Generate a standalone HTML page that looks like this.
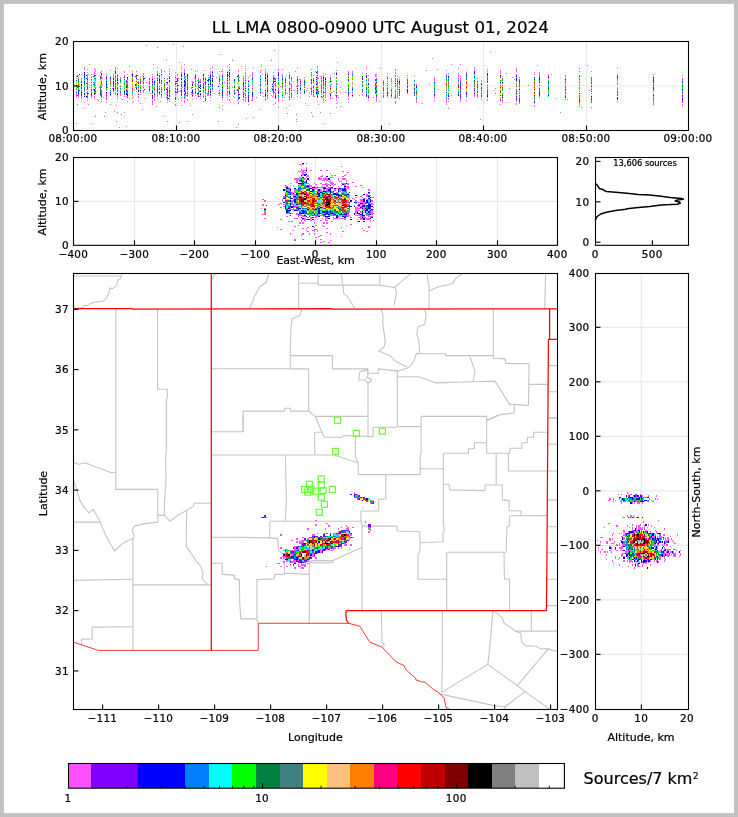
<!DOCTYPE html>
<html><head><meta charset="utf-8"><title>LL LMA 0800-0900 UTC August 01, 2024</title>
<style>html,body{margin:0;padding:0;background:#fff}svg{display:block}</style></head>
<body>
<svg width="738" height="817" viewBox="0 0 738 817" font-family='"DejaVu Sans","Liberation Sans",sans-serif' font-size="10.4" fill="#000" letter-spacing="0.3">
<rect x="0" y="0" width="738" height="817" fill="#c1c1c1"/>
<rect x="3.9" y="3.9" width="730.1" height="809.2" fill="#fff"/>
<path d="M176.50 41.50L176.50 130.50" stroke="#e9e9e9" stroke-width="1.2" fill="none"/>
<path d="M278.50 41.50L278.50 130.50" stroke="#e9e9e9" stroke-width="1.2" fill="none"/>
<path d="M381.50 41.50L381.50 130.50" stroke="#e9e9e9" stroke-width="1.2" fill="none"/>
<path d="M483.50 41.50L483.50 130.50" stroke="#e9e9e9" stroke-width="1.2" fill="none"/>
<path d="M586.50 41.50L586.50 130.50" stroke="#e9e9e9" stroke-width="1.2" fill="none"/>
<path d="M73.50 86.00L688.50 86.00" stroke="#e9e9e9" stroke-width="1.2" fill="none"/>
<g shape-rendering="crispEdges" fill="none" opacity="0.95">
<path stroke="#ff50ff" stroke-width="1.00" d="M76.0 76.0h1.0M76.0 78.0h1.0M76.0 93.0h1.0M76.0 94.0h1.0M76.0 95.0h1.0M76.0 96.0h1.0M78.0 75.0h1.0M78.0 77.0h1.0M78.0 95.0h1.0M78.0 96.0h1.0M78.0 97.0h1.0M77.0 75.0h1.0M79.0 84.0h1.0M81.0 74.0h1.0M81.0 78.0h1.0M81.0 79.0h1.0M81.0 96.0h1.0M81.0 97.0h1.0M81.0 98.0h1.0M81.0 101.0h1.0M84.0 67.0h1.0M84.0 68.0h1.0M84.0 69.0h1.0M84.0 102.0h1.0M87.0 69.0h1.0M87.0 72.0h1.0M87.0 74.0h1.0M87.0 75.0h1.0M87.0 76.0h1.0M87.0 77.0h1.0M87.0 80.0h1.0M87.0 91.0h1.0M87.0 95.0h1.0M87.0 97.0h1.0M87.0 98.0h1.0M87.0 100.0h1.0M88.0 74.0h1.0M86.0 89.0h1.0M86.0 92.0h1.0M91.0 74.0h1.0M91.0 76.0h1.0M91.0 77.0h1.0M91.0 96.0h1.0M91.0 97.0h1.0M94.0 68.0h1.0M94.0 70.0h1.0M94.0 72.0h1.0M94.0 73.0h1.0M94.0 96.0h1.0M94.0 97.0h1.0M94.0 98.0h1.0M93.0 82.0h1.0M95.0 69.0h1.0M95.0 71.0h1.0M95.0 73.0h1.0M95.0 92.0h1.0M100.0 72.0h1.0M100.0 95.0h1.0M101.0 71.0h1.0M101.0 75.0h1.0M101.0 97.0h1.0M101.0 99.0h1.0M101.0 101.0h1.0M106.0 73.0h1.0M106.0 75.0h1.0M106.0 76.0h1.0M106.0 79.0h1.0M106.0 90.0h1.0M106.0 94.0h1.0M106.0 96.0h1.0M106.0 97.0h1.0M106.0 99.0h1.0M106.0 102.0h1.0M110.0 70.0h1.0M110.0 95.0h1.0M113.0 74.0h1.0M113.0 75.0h1.0M113.0 76.0h1.0M113.0 77.0h1.0M113.0 93.0h1.0M115.0 68.0h1.0M115.0 69.0h1.0M115.0 90.0h1.0M115.0 92.0h1.0M115.0 93.0h1.0M115.0 94.0h1.0M117.0 74.0h1.0M117.0 76.0h1.0M117.0 77.0h1.0M117.0 83.0h1.0M117.0 91.0h1.0M117.0 95.0h1.0M117.0 96.0h1.0M117.0 98.0h1.0M120.0 77.0h1.0M120.0 78.0h1.0M120.0 93.0h1.0M120.0 94.0h1.0M120.0 95.0h1.0M124.0 71.0h1.0M124.0 72.0h1.0M124.0 75.0h1.0M124.0 76.0h1.0M124.0 96.0h1.0M126.0 82.0h1.0M126.0 84.0h1.0M126.0 96.0h1.0M127.0 74.0h1.0M127.0 101.0h1.0M132.0 71.0h1.0M132.0 73.0h1.0M132.0 94.0h1.0M132.0 98.0h1.0M132.0 102.0h1.0M136.0 71.0h1.0M136.0 91.0h1.0M138.0 79.0h1.0M138.0 96.0h1.0M138.0 97.0h1.0M140.0 76.0h1.0M140.0 91.0h1.0M140.0 92.0h1.0M140.0 94.0h1.0M143.0 73.0h1.0M143.0 74.0h1.0M143.0 77.0h1.0M143.0 91.0h1.0M143.0 92.0h1.0M142.0 81.0h1.0M152.0 74.0h1.0M152.0 76.0h1.0M152.0 77.0h1.0M152.0 78.0h1.0M152.0 80.0h1.0M152.0 83.0h1.0M152.0 93.0h1.0M152.0 100.0h1.0M152.0 101.0h1.0M152.0 102.0h1.0M152.0 103.0h1.0M152.0 104.0h1.0M154.0 78.0h1.0M154.0 90.0h1.0M154.0 95.0h1.0M154.0 96.0h1.0M154.0 99.0h1.0M154.0 100.0h1.0M157.0 67.0h1.0M157.0 71.0h1.0M157.0 72.0h1.0M157.0 73.0h1.0M157.0 93.0h1.0M157.0 94.0h1.0M157.0 95.0h1.0M157.0 96.0h1.0M157.0 99.0h1.0M159.0 73.0h1.0M159.0 94.0h1.0M161.0 69.0h1.0M161.0 70.0h1.0M161.0 71.0h1.0M161.0 72.0h1.0M161.0 90.0h1.0M161.0 96.0h1.0M161.0 97.0h1.0M164.0 93.0h1.0M167.0 78.0h1.0M167.0 79.0h1.0M167.0 99.0h1.0M167.0 100.0h1.0M167.0 102.0h1.0M166.0 84.0h1.0M166.0 92.0h1.0M169.0 69.0h1.0M169.0 71.0h1.0M169.0 73.0h1.0M169.0 74.0h1.0M169.0 98.0h1.0M169.0 99.0h1.0M169.0 101.0h1.0M175.0 72.0h1.0M175.0 75.0h1.0M175.0 101.0h1.0M175.0 104.0h1.0M175.0 105.0h1.0M177.0 74.0h1.0M177.0 75.0h1.0M177.0 94.0h1.0M178.0 78.0h1.0M178.0 80.0h1.0M178.0 91.0h1.0M181.0 66.0h1.0M181.0 68.0h1.0M181.0 70.0h1.0M181.0 72.0h1.0M181.0 97.0h1.0M181.0 98.0h1.0M181.0 100.0h1.0M181.0 105.0h1.0M184.0 64.0h1.0M184.0 69.0h1.0M184.0 70.0h1.0M184.0 71.0h1.0M184.0 72.0h1.0M184.0 89.0h1.0M184.0 98.0h1.0M184.0 100.0h1.0M184.0 101.0h1.0M184.0 102.0h1.0M185.0 76.0h1.0M185.0 77.0h1.0M185.0 94.0h1.0M185.0 95.0h1.0M185.0 96.0h1.0M185.0 98.0h1.0M187.0 94.0h1.0M187.0 96.0h1.0M187.0 99.0h1.0M187.0 100.0h1.0M192.0 81.0h1.0M192.0 82.0h1.0M192.0 83.0h1.0M192.0 96.0h1.0M192.0 99.0h1.0M191.0 87.0h1.0M191.0 88.0h1.0M193.0 93.0h1.0M191.0 94.0h1.0M195.0 71.0h1.0M195.0 74.0h1.0M195.0 90.0h1.0M195.0 91.0h1.0M195.0 93.0h1.0M195.0 95.0h1.0M198.0 78.0h1.0M198.0 79.0h1.0M197.0 80.0h1.0M199.0 81.0h1.0M197.0 84.0h1.0M199.0 85.0h1.0M197.0 88.0h1.0M200.0 79.0h1.0M200.0 80.0h1.0M200.0 95.0h1.0M200.0 96.0h1.0M200.0 98.0h1.0M203.0 70.0h1.0M203.0 97.0h1.0M203.0 101.0h1.0M205.0 77.0h1.0M205.0 78.0h1.0M205.0 80.0h1.0M208.0 75.0h1.0M208.0 77.0h1.0M208.0 81.0h1.0M208.0 87.0h1.0M208.0 90.0h1.0M208.0 94.0h1.0M208.0 95.0h1.0M209.0 87.0h1.0M207.0 93.0h1.0M207.0 94.0h1.0M207.0 95.0h1.0M210.0 71.0h1.0M210.0 72.0h1.0M210.0 73.0h1.0M210.0 74.0h1.0M210.0 79.0h1.0M210.0 90.0h1.0M210.0 93.0h1.0M210.0 95.0h1.0M210.0 97.0h1.0M210.0 100.0h1.0M212.0 66.0h1.0M212.0 67.0h1.0M212.0 71.0h1.0M212.0 89.0h1.0M212.0 91.0h1.0M219.0 75.0h1.0M219.0 76.0h1.0M219.0 77.0h1.0M219.0 95.0h1.0M218.0 93.0h1.0M222.0 69.0h1.0M222.0 71.0h1.0M222.0 74.0h1.0M222.0 81.0h1.0M222.0 96.0h1.0M222.0 99.0h1.0M222.0 105.0h1.0M227.0 66.0h1.0M227.0 73.0h1.0M227.0 94.0h1.0M227.0 95.0h1.0M227.0 97.0h1.0M227.0 99.0h1.0M229.0 64.0h1.0M229.0 67.0h1.0M229.0 69.0h1.0M229.0 94.0h1.0M229.0 96.0h1.0M229.0 99.0h1.0M229.0 100.0h1.0M234.0 94.0h1.0M234.0 97.0h1.0M238.0 70.0h1.0M238.0 71.0h1.0M238.0 74.0h1.0M238.0 97.0h1.0M238.0 99.0h1.0M238.0 102.0h1.0M238.0 103.0h1.0M239.0 77.0h1.0M239.0 80.0h1.0M237.0 83.0h1.0M239.0 86.0h1.0M239.0 87.0h1.0M243.0 76.0h1.0M243.0 77.0h1.0M243.0 78.0h1.0M243.0 79.0h1.0M243.0 80.0h1.0M243.0 87.0h1.0M243.0 93.0h1.0M243.0 95.0h1.0M243.0 97.0h1.0M243.0 99.0h1.0M243.0 100.0h1.0M245.0 66.0h1.0M245.0 68.0h1.0M245.0 70.0h1.0M245.0 72.0h1.0M245.0 73.0h1.0M245.0 99.0h1.0M245.0 100.0h1.0M245.0 101.0h1.0M248.0 77.0h1.0M248.0 80.0h1.0M248.0 104.0h1.0M252.0 72.0h1.0M252.0 73.0h1.0M252.0 74.0h1.0M252.0 75.0h1.0M252.0 76.0h1.0M252.0 77.0h1.0M252.0 86.0h1.0M252.0 97.0h1.0M252.0 98.0h1.0M252.0 99.0h1.0M252.0 100.0h1.0M260.0 71.0h1.0M260.0 72.0h1.0M260.0 75.0h1.0M260.0 77.0h1.0M260.0 91.0h1.0M260.0 93.0h1.0M260.0 95.0h1.0M265.0 69.0h1.0M265.0 72.0h1.0M265.0 73.0h1.0M265.0 76.0h1.0M265.0 98.0h1.0M265.0 99.0h1.0M265.0 100.0h1.0M267.0 73.0h1.0M267.0 74.0h1.0M267.0 78.0h1.0M267.0 96.0h1.0M267.0 97.0h1.0M267.0 98.0h1.0M273.0 72.0h1.0M273.0 75.0h1.0M273.0 76.0h1.0M273.0 77.0h1.0M273.0 95.0h1.0M273.0 97.0h1.0M274.0 77.0h1.0M274.0 79.0h1.0M275.0 78.0h1.0M275.0 94.0h1.0M275.0 98.0h1.0M275.0 102.0h1.0M275.0 103.0h1.0M278.0 69.0h1.0M278.0 70.0h1.0M278.0 76.0h1.0M278.0 97.0h1.0M278.0 98.0h1.0M278.0 99.0h1.0M278.0 100.0h1.0M278.0 101.0h1.0M282.0 69.0h1.0M282.0 74.0h1.0M282.0 77.0h1.0M282.0 97.0h1.0M282.0 100.0h1.0M285.0 77.0h1.0M285.0 78.0h1.0M285.0 94.0h1.0M289.0 72.0h1.0M289.0 74.0h1.0M289.0 96.0h1.0M289.0 105.0h1.0M291.0 80.0h1.0M291.0 97.0h1.0M297.0 76.0h1.0M297.0 77.0h1.0M297.0 78.0h1.0M297.0 96.0h1.0M300.0 79.0h1.0M300.0 80.0h1.0M300.0 82.0h1.0M300.0 84.0h1.0M300.0 87.0h1.0M300.0 92.0h1.0M300.0 93.0h1.0M300.0 97.0h1.0M304.0 77.0h1.0M304.0 79.0h1.0M304.0 93.0h1.0M311.0 69.0h1.0M311.0 94.0h1.0M313.0 75.0h1.0M313.0 82.0h1.0M313.0 95.0h1.0M313.0 96.0h1.0M316.0 75.0h1.0M316.0 90.0h1.0M317.0 66.0h1.0M317.0 67.0h1.0M317.0 69.0h1.0M317.0 97.0h1.0M321.0 76.0h1.0M321.0 77.0h1.0M321.0 97.0h1.0M323.0 73.0h1.0M323.0 75.0h1.0M323.0 76.0h1.0M323.0 98.0h1.0M323.0 99.0h1.0M323.0 100.0h1.0M323.0 102.0h1.0M325.0 74.0h1.0M325.0 77.0h1.0M325.0 94.0h1.0M325.0 95.0h1.0M325.0 97.0h1.0M325.0 100.0h1.0M330.0 75.0h1.0M330.0 77.0h1.0M330.0 96.0h1.0M330.0 97.0h1.0M330.0 98.0h1.0M331.0 81.0h1.0M331.0 84.0h1.0M329.0 93.0h1.0M336.0 70.0h1.0M336.0 72.0h1.0M336.0 97.0h1.0M336.0 98.0h1.0M336.0 100.0h1.0M336.0 103.0h1.0M348.0 71.0h1.0M348.0 72.0h1.0M348.0 75.0h1.0M348.0 96.0h1.0M348.0 98.0h1.0M348.0 99.0h1.0M348.0 102.0h1.0M352.0 71.0h1.0M352.0 72.0h1.0M352.0 73.0h1.0M352.0 94.0h1.0M352.0 96.0h1.0M362.0 73.0h1.0M362.0 92.0h1.0M362.0 94.0h1.0M362.0 95.0h1.0M366.0 66.0h1.0M366.0 68.0h1.0M368.0 75.0h1.0M368.0 78.0h1.0M368.0 79.0h1.0M368.0 80.0h1.0M368.0 81.0h1.0M368.0 98.0h1.0M368.0 100.0h1.0M375.0 74.0h1.0M375.0 75.0h1.0M375.0 76.0h1.0M375.0 93.0h1.0M376.0 74.0h1.0M376.0 76.0h1.0M376.0 78.0h1.0M376.0 81.0h1.0M376.0 97.0h1.0M376.0 98.0h1.0M376.0 99.0h1.0M376.0 100.0h1.0M376.0 101.0h1.0M383.0 80.0h1.0M383.0 81.0h1.0M383.0 97.0h1.0M387.0 73.0h1.0M387.0 76.0h1.0M387.0 94.0h1.0M387.0 96.0h1.0M391.0 78.0h1.0M391.0 96.0h1.0M391.0 97.0h1.0M395.0 69.0h1.0M395.0 70.0h1.0M395.0 72.0h1.0M395.0 73.0h1.0M395.0 98.0h1.0M395.0 101.0h1.0M395.0 102.0h1.0M395.0 103.0h1.0M397.0 76.0h1.0M397.0 78.0h1.0M397.0 79.0h1.0M397.0 80.0h1.0M397.0 93.0h1.0M397.0 94.0h1.0M397.0 95.0h1.0M397.0 96.0h1.0M397.0 97.0h1.0M399.0 77.0h1.0M399.0 79.0h1.0M399.0 80.0h1.0M399.0 98.0h1.0M407.0 75.0h1.0M407.0 77.0h1.0M407.0 81.0h1.0M407.0 84.0h1.0M407.0 93.0h1.0M414.0 75.0h1.0M414.0 81.0h1.0M416.0 84.0h1.0M416.0 99.0h1.0M416.0 100.0h1.0M416.0 101.0h1.0M416.0 102.0h1.0M434.0 77.0h1.0M434.0 78.0h1.0M434.0 79.0h1.0M434.0 80.0h1.0M434.0 96.0h1.0M434.0 97.0h1.0M434.0 100.0h1.0M446.0 75.0h1.0M446.0 101.0h1.0M446.0 102.0h1.0M446.0 70.0h1.0M446.0 74.0h1.0M446.0 98.0h1.0M446.0 99.0h1.0M446.0 100.0h1.0M446.0 104.0h1.0M448.0 73.0h1.0M448.0 75.0h1.0M448.0 98.0h1.0M448.0 99.0h1.0M448.0 101.0h1.0M458.0 73.0h1.0M458.0 74.0h1.0M458.0 75.0h1.0M458.0 76.0h1.0M460.0 76.0h1.0M460.0 78.0h1.0M460.0 79.0h1.0M460.0 80.0h1.0M460.0 98.0h1.0M460.0 99.0h1.0M460.0 100.0h1.0M460.0 101.0h1.0M466.0 72.0h1.0M466.0 73.0h1.0M466.0 95.0h1.0M466.0 100.0h1.0M474.0 67.0h1.0M474.0 68.0h1.0M474.0 70.0h1.0M474.0 92.0h1.0M474.0 94.0h1.0M474.0 95.0h1.0M474.0 96.0h1.0M477.0 78.0h1.0M477.0 96.0h1.0M477.0 97.0h1.0M481.0 80.0h1.0M481.0 97.0h1.0M481.0 99.0h1.0M487.0 69.0h1.0M487.0 71.0h1.0M487.0 97.0h1.0M487.0 99.0h1.0M487.0 100.0h1.0M500.0 70.0h1.0M500.0 71.0h1.0M500.0 72.0h1.0M500.0 73.0h1.0M500.0 104.0h1.0M502.0 76.0h1.0M502.0 99.0h1.0M502.0 100.0h1.0M502.0 101.0h1.0M502.0 102.0h1.0M516.0 68.0h1.0M516.0 69.0h1.0M516.0 70.0h1.0M516.0 71.0h1.0M516.0 74.0h1.0M516.0 97.0h1.0M516.0 100.0h1.0M516.0 101.0h1.0M516.0 103.0h1.0M516.0 104.0h1.0M519.0 77.0h1.0M519.0 102.0h1.0M519.0 103.0h1.0M534.0 72.0h1.0M534.0 74.0h1.0M534.0 105.0h1.0M534.0 106.0h1.0M539.0 72.0h1.0M539.0 73.0h1.0M539.0 74.0h1.0M539.0 75.0h1.0M539.0 76.0h1.0M539.0 96.0h1.0M539.0 97.0h1.0M548.0 74.0h1.0M548.0 75.0h1.0M548.0 78.0h1.0M565.0 75.0h1.0M565.0 76.0h1.0M565.0 78.0h1.0M565.0 80.0h1.0M565.0 81.0h1.0M565.0 99.0h1.0M579.0 68.0h1.0M579.0 71.0h1.0M579.0 75.0h1.0M579.0 102.0h1.0M579.0 103.0h1.0M579.0 104.0h1.0M579.0 106.0h1.0M591.0 71.0h1.0M591.0 107.0h1.0M617.0 68.0h1.0M617.0 74.0h1.0M617.0 101.0h1.0M653.0 74.0h1.0M653.0 76.0h1.0M653.0 101.0h1.0M653.0 102.0h1.0M653.0 103.0h1.0M653.0 104.0h1.0M682.0 75.0h1.0M682.0 78.0h1.0M682.0 83.0h1.0M682.0 100.0h1.0M682.0 102.0h1.0M682.0 104.0h1.0M682.0 105.0h1.0M204.0 82.0h1.0M153.0 88.0h1.0M319.0 82.0h1.0M179.0 91.0h1.0M232.0 60.0h1.0M320.0 76.0h1.0M253.0 67.0h1.0M340.0 106.0h1.0M329.0 82.0h1.0M117.0 68.0h1.0M230.0 102.0h1.0M232.0 87.0h1.0M121.0 114.0h1.0M224.0 82.0h1.0M191.0 69.0h1.0M293.0 81.0h1.0M274.0 50.0h1.0M129.0 66.0h1.0M137.0 79.0h1.0M114.0 111.0h1.0M137.0 82.0h1.0M322.0 97.0h1.0M340.0 92.0h1.0M305.0 103.0h1.0M330.0 113.0h1.0M138.0 100.0h1.0M89.0 87.0h1.0M178.0 99.0h1.0M273.0 104.0h1.0M320.0 112.0h1.0M324.0 92.0h1.0M287.0 113.0h1.0M173.0 44.0h1.0M190.0 105.0h1.0M233.0 96.0h1.0M246.0 118.0h1.0M244.0 93.0h1.0M305.0 82.0h1.0M129.0 98.0h1.0M209.0 77.0h1.0M105.0 112.0h1.0M164.0 71.0h1.0M296.0 114.0h1.0M296.0 86.0h1.0M153.0 64.0h1.0M221.0 71.0h1.0M199.0 96.0h1.0M104.0 116.0h1.0M194.0 78.0h1.0M256.0 97.0h1.0M332.0 98.0h1.0M217.0 73.0h1.0M318.0 78.0h1.0M337.0 102.0h1.0M219.0 54.0h1.0M97.0 99.0h1.0M222.0 109.0h1.0M99.0 87.0h1.0M340.0 87.0h1.0M312.0 116.0h1.0M271.0 88.0h1.0M265.0 71.0h1.0M186.0 95.0h1.0M286.0 107.0h1.0M117.0 112.0h1.0M213.0 76.0h1.0M290.0 88.0h1.0M216.0 77.0h1.0M314.0 96.0h1.0M95.0 116.0h1.0M294.0 90.0h1.0M116.0 105.0h1.0M192.0 114.0h1.0M284.0 97.0h1.0M310.0 88.0h1.0M131.0 74.0h1.0M182.0 87.0h1.0M308.0 105.0h1.0M183.0 46.0h1.0M291.0 77.0h1.0M93.0 74.0h1.0M135.0 87.0h1.0M290.0 84.0h1.0M167.0 121.0h1.0M318.0 104.0h1.0M107.0 87.0h1.0M154.0 97.0h1.0M156.0 106.0h1.0M219.0 71.0h1.0M337.0 84.0h1.0M116.0 121.0h1.0M220.0 84.0h1.0M287.0 93.0h1.0M176.0 78.0h1.0M84.0 108.0h1.0M237.0 100.0h1.0M315.0 71.0h1.0M235.0 93.0h1.0M146.0 82.0h1.0M192.0 94.0h1.0M88.0 104.0h1.0M133.0 101.0h1.0M179.0 122.0h1.0M177.0 97.0h1.0M179.0 62.0h1.0M236.0 127.0h1.0M263.0 96.0h1.0M298.0 85.0h1.0M280.0 86.0h1.0M249.0 85.0h1.0M271.0 95.0h1.0M253.0 117.0h1.0M142.0 86.0h1.0M306.0 90.0h1.0M324.0 123.0h1.0M102.0 84.0h1.0M337.0 95.0h1.0M278.0 107.0h1.0M214.0 93.0h1.0M337.0 62.0h1.0M197.0 94.0h1.0M226.0 94.0h1.0M89.0 64.0h1.0M262.0 74.0h1.0M112.0 88.0h1.0M124.0 112.0h1.0M103.0 97.0h1.0M262.0 92.0h1.0M261.0 70.0h1.0M296.0 119.0h1.0M297.0 68.0h1.0M98.0 100.0h1.0M272.0 88.0h1.0M188.0 121.0h1.0M241.0 66.0h1.0M335.0 95.0h1.0M286.0 75.0h1.0M271.0 60.0h1.0M157.0 47.0h1.0M146.0 45.0h1.0M336.0 107.0h1.0M145.0 98.0h1.0M166.0 88.0h1.0M140.0 103.0h1.0M238.0 124.0h1.0M333.0 91.0h1.0M317.0 101.0h1.0M259.0 109.0h1.0M163.0 116.0h1.0M196.0 98.0h1.0M142.0 109.0h1.0M309.0 93.0h1.0M197.0 70.0h1.0M218.0 121.0h1.0M338.0 97.0h1.0M274.0 84.0h1.0M228.0 75.0h1.0M270.0 91.0h1.0M160.0 101.0h1.0M199.0 82.0h1.0M102.0 78.0h1.0M261.0 64.0h1.0M311.0 112.0h1.0M180.0 90.0h1.0M219.0 107.0h1.0M299.0 79.0h1.0M118.0 83.0h1.0M272.0 96.0h1.0M166.0 59.0h1.0M261.0 66.0h1.0M122.0 99.0h1.0M126.0 126.0h1.0M296.0 121.0h1.0M251.0 100.0h1.0M210.0 68.0h1.0M134.0 89.0h1.0M148.0 86.0h1.0M77.0 104.0h1.0M307.0 88.0h1.0M150.0 93.0h1.0M309.0 96.0h1.0M119.0 127.0h1.0M110.0 104.0h1.0M295.0 71.0h1.0M250.0 75.0h1.0M76.0 123.0h1.0M91.0 123.0h1.0M245.0 93.0h1.0M334.0 73.0h1.0M448.0 108.0h1.0M460.0 64.0h1.0M501.0 80.0h1.0M490.0 52.0h1.0M462.0 84.0h1.0M551.0 74.0h1.0M426.0 70.0h1.0M429.0 84.0h1.0M480.0 119.0h1.0M495.0 88.0h1.0M451.0 95.0h1.0M587.0 65.0h1.0M560.0 112.0h1.0M380.0 68.0h1.0M512.0 77.0h1.0M394.0 97.0h1.0M373.0 97.0h1.0M509.0 88.0h1.0M458.0 68.0h1.0M537.0 65.0h1.0M507.0 102.0h1.0M514.0 79.0h1.0M567.0 99.0h1.0M345.0 92.0h1.0M494.0 90.0h1.0M438.0 89.0h1.0M581.0 107.0h1.0M379.0 101.0h1.0M389.0 123.0h1.0M589.0 90.0h1.0M555.0 98.0h1.0M495.0 93.0h1.0M432.0 58.0h1.0M422.0 103.0h1.0M451.0 64.0h1.0M437.0 69.0h1.0M359.0 95.0h1.0M506.0 73.0h1.0M528.0 85.0h1.0"/>
<path stroke="#8000ff" stroke-width="1.00" d="M78.0 92.0h1.0M78.0 93.0h1.0M79.0 86.0h1.0M77.0 87.0h1.0M79.0 90.0h1.0M77.0 95.0h1.0M81.0 81.0h1.0M81.0 82.0h1.0M84.0 73.0h1.0M84.0 82.0h1.0M87.0 96.0h1.0M91.0 79.0h1.0M91.0 95.0h1.0M94.0 76.0h1.0M93.0 76.0h1.0M93.0 89.0h1.0M95.0 93.0h1.0M100.0 76.0h1.0M100.0 77.0h1.0M101.0 95.0h1.0M106.0 78.0h1.0M106.0 93.0h1.0M106.0 98.0h1.0M110.0 77.0h1.0M113.0 90.0h1.0M124.0 94.0h1.0M127.0 78.0h1.0M136.0 78.0h1.0M136.0 87.0h1.0M137.0 75.0h1.0M135.0 76.0h1.0M135.0 85.0h1.0M138.0 83.0h1.0M152.0 84.0h1.0M152.0 97.0h1.0M154.0 81.0h1.0M157.0 74.0h1.0M159.0 76.0h1.0M161.0 82.0h1.0M169.0 96.0h1.0M177.0 80.0h1.0M178.0 85.0h1.0M181.0 85.0h1.0M184.0 97.0h1.0M185.0 79.0h1.0M195.0 75.0h1.0M195.0 77.0h1.0M207.0 80.0h1.0M210.0 81.0h1.0M212.0 88.0h1.0M222.0 75.0h1.0M222.0 83.0h1.0M222.0 91.0h1.0M222.0 92.0h1.0M229.0 72.0h1.0M234.0 79.0h1.0M243.0 92.0h1.0M245.0 95.0h1.0M248.0 96.0h1.0M248.0 97.0h1.0M252.0 96.0h1.0M260.0 92.0h1.0M267.0 77.0h1.0M267.0 79.0h1.0M267.0 88.0h1.0M274.0 78.0h1.0M274.0 92.0h1.0M275.0 79.0h1.0M278.0 72.0h1.0M285.0 90.0h1.0M289.0 97.0h1.0M300.0 81.0h1.0M300.0 85.0h1.0M300.0 89.0h1.0M318.0 93.0h1.0M321.0 78.0h1.0M323.0 96.0h1.0M366.0 73.0h1.0M368.0 96.0h1.0M368.0 97.0h1.0M375.0 80.0h1.0M376.0 79.0h1.0M376.0 82.0h1.0M407.0 79.0h1.0M407.0 80.0h1.0M407.0 86.0h1.0M407.0 92.0h1.0M414.0 95.0h1.0M434.0 95.0h1.0M448.0 76.0h1.0M458.0 78.0h1.0M460.0 87.0h1.0M460.0 88.0h1.0M460.0 91.0h1.0M460.0 94.0h1.0M460.0 95.0h1.0M460.0 97.0h1.0M474.0 71.0h1.0M474.0 93.0h1.0M481.0 83.0h1.0M481.0 93.0h1.0M481.0 96.0h1.0M519.0 98.0h1.0M519.0 99.0h1.0M534.0 102.0h1.0M539.0 77.0h1.0M539.0 81.0h1.0M617.0 99.0h1.0M653.0 79.0h1.0M653.0 99.0h1.0"/>
<path stroke="#8000ff" stroke-width="1.00" d="M78.0 81.0h1.0M81.0 93.0h1.0M81.0 95.0h1.0M84.0 75.0h1.0M84.0 77.0h1.0M87.0 87.0h1.0M86.0 83.0h1.0M88.0 93.0h1.0M91.0 93.0h1.0M94.0 75.0h1.0M94.0 94.0h1.0M95.0 91.0h1.0M100.0 94.0h1.0M101.0 74.0h1.0M101.0 96.0h1.0M106.0 83.0h1.0M106.0 95.0h1.0M110.0 78.0h1.0M115.0 86.0h1.0M115.0 88.0h1.0M117.0 75.0h1.0M117.0 78.0h1.0M120.0 92.0h1.0M126.0 80.0h1.0M126.0 90.0h1.0M126.0 91.0h1.0M132.0 74.0h1.0M136.0 75.0h1.0M138.0 82.0h1.0M143.0 76.0h1.0M143.0 78.0h1.0M143.0 79.0h1.0M152.0 82.0h1.0M152.0 96.0h1.0M154.0 82.0h1.0M154.0 94.0h1.0M157.0 78.0h1.0M157.0 90.0h1.0M157.0 92.0h1.0M159.0 75.0h1.0M161.0 80.0h1.0M161.0 94.0h1.0M164.0 78.0h1.0M167.0 98.0h1.0M166.0 82.0h1.0M177.0 92.0h1.0M176.0 92.0h1.0M181.0 74.0h1.0M181.0 84.0h1.0M181.0 90.0h1.0M181.0 92.0h1.0M181.0 94.0h1.0M184.0 94.0h1.0M185.0 81.0h1.0M187.0 80.0h1.0M187.0 87.0h1.0M192.0 87.0h1.0M192.0 91.0h1.0M193.0 82.0h1.0M199.0 91.0h1.0M197.0 93.0h1.0M200.0 82.0h1.0M205.0 98.0h1.0M208.0 93.0h1.0M210.0 76.0h1.0M210.0 77.0h1.0M210.0 91.0h1.0M210.0 94.0h1.0M219.0 92.0h1.0M222.0 76.0h1.0M222.0 77.0h1.0M222.0 79.0h1.0M222.0 82.0h1.0M227.0 76.0h1.0M229.0 70.0h1.0M229.0 92.0h1.0M234.0 93.0h1.0M238.0 79.0h1.0M237.0 90.0h1.0M239.0 94.0h1.0M248.0 99.0h1.0M248.0 100.0h1.0M252.0 93.0h1.0M252.0 95.0h1.0M265.0 75.0h1.0M265.0 96.0h1.0M267.0 95.0h1.0M272.0 89.0h1.0M275.0 85.0h1.0M278.0 73.0h1.0M278.0 91.0h1.0M285.0 79.0h1.0M285.0 92.0h1.0M289.0 76.0h1.0M289.0 99.0h1.0M291.0 78.0h1.0M297.0 91.0h1.0M304.0 81.0h1.0M313.0 90.0h1.0M321.0 96.0h1.0M323.0 78.0h1.0M323.0 92.0h1.0M325.0 81.0h1.0M330.0 78.0h1.0M330.0 94.0h1.0M336.0 77.0h1.0M336.0 95.0h1.0M336.0 96.0h1.0M348.0 74.0h1.0M348.0 93.0h1.0M348.0 94.0h1.0M362.0 89.0h1.0M366.0 77.0h1.0M366.0 96.0h1.0M375.0 89.0h1.0M376.0 86.0h1.0M376.0 95.0h1.0M376.0 96.0h1.0M395.0 97.0h1.0M399.0 91.0h1.0M399.0 93.0h1.0M399.0 95.0h1.0M407.0 82.0h1.0M448.0 79.0h1.0M448.0 95.0h1.0M460.0 86.0h1.0M460.0 96.0h1.0M466.0 94.0h1.0M474.0 73.0h1.0M474.0 77.0h1.0M481.0 87.0h1.0M481.0 95.0h1.0M500.0 76.0h1.0M500.0 77.0h1.0M516.0 75.0h1.0M516.0 98.0h1.0M519.0 100.0h1.0M519.0 101.0h1.0M534.0 77.0h1.0M534.0 79.0h1.0M534.0 101.0h1.0M539.0 95.0h1.0M548.0 76.0h1.0M565.0 82.0h1.0M591.0 99.0h1.0M653.0 81.0h1.0M682.0 85.0h1.0M682.0 96.0h1.0"/>
<path stroke="#0000ff" stroke-width="1.00" d="M78.0 79.0h1.0M78.0 94.0h1.0M79.0 74.0h1.0M81.0 84.0h1.0M81.0 92.0h1.0M84.0 74.0h1.0M84.0 93.0h1.0M84.0 94.0h1.0M84.0 96.0h1.0M87.0 79.0h1.0M86.0 96.0h1.0M91.0 94.0h1.0M94.0 90.0h1.0M94.0 93.0h1.0M95.0 75.0h1.0M100.0 93.0h1.0M101.0 73.0h1.0M106.0 77.0h1.0M106.0 87.0h1.0M110.0 92.0h1.0M113.0 88.0h1.0M113.0 89.0h1.0M115.0 72.0h1.0M117.0 79.0h1.0M117.0 80.0h1.0M117.0 82.0h1.0M126.0 81.0h1.0M126.0 87.0h1.0M126.0 89.0h1.0M126.0 94.0h1.0M127.0 94.0h1.0M132.0 75.0h1.0M132.0 76.0h1.0M136.0 88.0h1.0M135.0 84.0h1.0M138.0 91.0h1.0M140.0 90.0h1.0M144.0 78.0h1.0M144.0 89.0h1.0M152.0 79.0h1.0M152.0 81.0h1.0M152.0 92.0h1.0M152.0 95.0h1.0M152.0 98.0h1.0M157.0 80.0h1.0M159.0 82.0h1.0M161.0 91.0h1.0M167.0 91.0h1.0M167.0 95.0h1.0M166.0 89.0h1.0M168.0 98.0h1.0M169.0 80.0h1.0M169.0 95.0h1.0M175.0 77.0h1.0M175.0 98.0h1.0M177.0 79.0h1.0M177.0 89.0h1.0M176.0 81.0h1.0M181.0 75.0h1.0M181.0 79.0h1.0M181.0 91.0h1.0M184.0 73.0h1.0M184.0 74.0h1.0M184.0 85.0h1.0M184.0 86.0h1.0M184.0 90.0h1.0M184.0 91.0h1.0M185.0 93.0h1.0M187.0 89.0h1.0M192.0 90.0h1.0M198.0 82.0h1.0M198.0 93.0h1.0M198.0 96.0h1.0M199.0 87.0h1.0M200.0 86.0h1.0M200.0 88.0h1.0M203.0 78.0h1.0M203.0 87.0h1.0M205.0 79.0h1.0M205.0 100.0h1.0M208.0 79.0h1.0M208.0 91.0h1.0M210.0 78.0h1.0M210.0 80.0h1.0M210.0 83.0h1.0M210.0 84.0h1.0M210.0 89.0h1.0M210.0 92.0h1.0M218.0 86.0h1.0M222.0 87.0h1.0M222.0 93.0h1.0M222.0 95.0h1.0M227.0 75.0h1.0M229.0 73.0h1.0M229.0 74.0h1.0M229.0 91.0h1.0M229.0 93.0h1.0M234.0 80.0h1.0M238.0 75.0h1.0M238.0 94.0h1.0M238.0 98.0h1.0M237.0 76.0h1.0M239.0 88.0h1.0M243.0 83.0h1.0M248.0 81.0h1.0M248.0 86.0h1.0M248.0 101.0h1.0M252.0 94.0h1.0M260.0 79.0h1.0M260.0 84.0h1.0M265.0 74.0h1.0M265.0 90.0h1.0M265.0 94.0h1.0M265.0 95.0h1.0M267.0 76.0h1.0M267.0 83.0h1.0M274.0 81.0h1.0M272.0 84.0h1.0M275.0 96.0h1.0M278.0 78.0h1.0M278.0 92.0h1.0M282.0 95.0h1.0M291.0 90.0h1.0M311.0 91.0h1.0M316.0 77.0h1.0M317.0 90.0h1.0M317.0 96.0h1.0M316.0 72.0h1.0M318.0 91.0h1.0M323.0 77.0h1.0M325.0 78.0h1.0M325.0 84.0h1.0M330.0 95.0h1.0M336.0 74.0h1.0M348.0 77.0h1.0M348.0 92.0h1.0M352.0 95.0h1.0M366.0 76.0h1.0M366.0 92.0h1.0M366.0 94.0h1.0M366.0 95.0h1.0M376.0 91.0h1.0M387.0 93.0h1.0M397.0 81.0h1.0M399.0 81.0h1.0M399.0 89.0h1.0M407.0 90.0h1.0M407.0 91.0h1.0M414.0 85.0h1.0M414.0 88.0h1.0M414.0 89.0h1.0M434.0 82.0h1.0M448.0 96.0h1.0M458.0 95.0h1.0M466.0 74.0h1.0M466.0 92.0h1.0M481.0 84.0h1.0M481.0 88.0h1.0M487.0 73.0h1.0M487.0 75.0h1.0M487.0 95.0h1.0M500.0 95.0h1.0M502.0 95.0h1.0M502.0 97.0h1.0M516.0 80.0h1.0M519.0 81.0h1.0M519.0 89.0h1.0M539.0 78.0h1.0M539.0 79.0h1.0M539.0 82.0h1.0M548.0 95.0h1.0M565.0 79.0h1.0M565.0 89.0h1.0M579.0 93.0h1.0M579.0 99.0h1.0M579.0 101.0h1.0M591.0 96.0h1.0M617.0 77.0h1.0M617.0 97.0h1.0M617.0 98.0h1.0M653.0 77.0h1.0M653.0 95.0h1.0M682.0 90.0h1.0M682.0 95.0h1.0M682.0 98.0h1.0"/>
<path stroke="#0000ff" stroke-width="1.00" d="M78.0 90.0h1.0M77.0 76.0h1.0M81.0 85.0h1.0M81.0 87.0h1.0M81.0 94.0h1.0M84.0 72.0h1.0M84.0 76.0h1.0M84.0 81.0h1.0M84.0 83.0h1.0M87.0 93.0h1.0M86.0 75.0h1.0M86.0 78.0h1.0M94.0 89.0h1.0M93.0 84.0h1.0M106.0 81.0h1.0M106.0 84.0h1.0M106.0 85.0h1.0M106.0 92.0h1.0M110.0 94.0h1.0M113.0 78.0h1.0M113.0 79.0h1.0M113.0 82.0h1.0M113.0 83.0h1.0M115.0 71.0h1.0M115.0 76.0h1.0M117.0 88.0h1.0M117.0 90.0h1.0M117.0 94.0h1.0M124.0 77.0h1.0M124.0 91.0h1.0M124.0 92.0h1.0M126.0 93.0h1.0M127.0 77.0h1.0M127.0 95.0h1.0M138.0 90.0h1.0M138.0 94.0h1.0M149.0 89.0h1.0M152.0 91.0h1.0M154.0 89.0h1.0M157.0 75.0h1.0M157.0 86.0h1.0M157.0 89.0h1.0M159.0 79.0h1.0M159.0 80.0h1.0M159.0 92.0h1.0M161.0 74.0h1.0M167.0 82.0h1.0M169.0 78.0h1.0M169.0 81.0h1.0M169.0 90.0h1.0M175.0 81.0h1.0M175.0 83.0h1.0M181.0 76.0h1.0M181.0 78.0h1.0M181.0 82.0h1.0M184.0 80.0h1.0M184.0 81.0h1.0M184.0 84.0h1.0M184.0 88.0h1.0M185.0 82.0h1.0M187.0 74.0h1.0M187.0 75.0h1.0M192.0 84.0h1.0M192.0 85.0h1.0M192.0 92.0h1.0M192.0 95.0h1.0M191.0 92.0h1.0M195.0 76.0h1.0M195.0 92.0h1.0M200.0 91.0h1.0M200.0 94.0h1.0M203.0 74.0h1.0M203.0 75.0h1.0M205.0 83.0h1.0M208.0 80.0h1.0M208.0 84.0h1.0M209.0 79.0h1.0M210.0 75.0h1.0M212.0 72.0h1.0M212.0 80.0h1.0M212.0 84.0h1.0M219.0 79.0h1.0M222.0 97.0h1.0M227.0 72.0h1.0M227.0 74.0h1.0M227.0 78.0h1.0M227.0 88.0h1.0M229.0 76.0h1.0M234.0 87.0h1.0M239.0 97.0h1.0M243.0 84.0h1.0M243.0 89.0h1.0M243.0 94.0h1.0M243.0 96.0h1.0M245.0 88.0h1.0M245.0 97.0h1.0M248.0 92.0h1.0M248.0 95.0h1.0M252.0 78.0h1.0M252.0 92.0h1.0M265.0 77.0h1.0M265.0 78.0h1.0M267.0 75.0h1.0M267.0 80.0h1.0M267.0 81.0h1.0M267.0 84.0h1.0M267.0 90.0h1.0M267.0 91.0h1.0M273.0 78.0h1.0M273.0 82.0h1.0M273.0 91.0h1.0M272.0 86.0h1.0M275.0 89.0h1.0M275.0 97.0h1.0M278.0 74.0h1.0M278.0 75.0h1.0M278.0 93.0h1.0M282.0 79.0h1.0M282.0 83.0h1.0M285.0 80.0h1.0M285.0 82.0h1.0M291.0 93.0h1.0M297.0 79.0h1.0M297.0 80.0h1.0M297.0 88.0h1.0M297.0 93.0h1.0M300.0 88.0h1.0M304.0 91.0h1.0M304.0 92.0h1.0M313.0 80.0h1.0M316.0 79.0h1.0M316.0 81.0h1.0M316.0 84.0h1.0M316.0 92.0h1.0M316.0 93.0h1.0M317.0 71.0h1.0M316.0 89.0h1.0M323.0 80.0h1.0M325.0 79.0h1.0M330.0 81.0h1.0M336.0 73.0h1.0M348.0 79.0h1.0M348.0 80.0h1.0M352.0 89.0h1.0M362.0 78.0h1.0M366.0 75.0h1.0M368.0 83.0h1.0M368.0 84.0h1.0M375.0 92.0h1.0M383.0 82.0h1.0M387.0 78.0h1.0M387.0 92.0h1.0M387.0 95.0h1.0M391.0 95.0h1.0M395.0 83.0h1.0M399.0 82.0h1.0M407.0 89.0h1.0M414.0 92.0h1.0M416.0 86.0h1.0M434.0 94.0h1.0M446.0 92.0h1.0M446.0 76.0h1.0M448.0 77.0h1.0M460.0 82.0h1.0M460.0 85.0h1.0M474.0 72.0h1.0M474.0 90.0h1.0M477.0 81.0h1.0M487.0 81.0h1.0M487.0 96.0h1.0M500.0 75.0h1.0M500.0 100.0h1.0M502.0 82.0h1.0M516.0 76.0h1.0M516.0 78.0h1.0M516.0 79.0h1.0M516.0 96.0h1.0M516.0 99.0h1.0M539.0 92.0h1.0M539.0 93.0h1.0M539.0 94.0h1.0M548.0 77.0h1.0M565.0 97.0h1.0M579.0 76.0h1.0M617.0 94.0h1.0M653.0 80.0h1.0M653.0 85.0h1.0M653.0 87.0h1.0M653.0 88.0h1.0M682.0 82.0h1.0M682.0 92.0h1.0M682.0 99.0h1.0M682.0 101.0h1.0"/>
<path stroke="#0080ff" stroke-width="1.00" d="M76.0 80.0h1.0M76.0 92.0h1.0M78.0 87.0h1.0M78.0 89.0h1.0M81.0 91.0h1.0M84.0 78.0h1.0M84.0 88.0h1.0M84.0 90.0h1.0M87.0 81.0h1.0M87.0 83.0h1.0M87.0 84.0h1.0M87.0 94.0h1.0M91.0 92.0h1.0M94.0 82.0h1.0M94.0 84.0h1.0M94.0 91.0h1.0M101.0 91.0h1.0M106.0 86.0h1.0M106.0 89.0h1.0M110.0 79.0h1.0M110.0 83.0h1.0M110.0 90.0h1.0M110.0 93.0h1.0M113.0 84.0h1.0M113.0 91.0h1.0M115.0 78.0h1.0M115.0 81.0h1.0M115.0 83.0h1.0M115.0 87.0h1.0M120.0 79.0h1.0M120.0 88.0h1.0M124.0 93.0h1.0M127.0 79.0h1.0M127.0 84.0h1.0M127.0 90.0h1.0M127.0 92.0h1.0M127.0 93.0h1.0M132.0 79.0h1.0M132.0 89.0h1.0M136.0 77.0h1.0M136.0 85.0h1.0M140.0 81.0h1.0M143.0 90.0h1.0M149.0 82.0h1.0M152.0 85.0h1.0M152.0 90.0h1.0M154.0 84.0h1.0M159.0 78.0h1.0M159.0 81.0h1.0M159.0 86.0h1.0M159.0 93.0h1.0M161.0 87.0h1.0M167.0 83.0h1.0M167.0 93.0h1.0M166.0 97.0h1.0M169.0 76.0h1.0M175.0 89.0h1.0M175.0 97.0h1.0M177.0 81.0h1.0M177.0 86.0h1.0M177.0 91.0h1.0M176.0 83.0h1.0M181.0 88.0h1.0M181.0 95.0h1.0M184.0 76.0h1.0M184.0 95.0h1.0M187.0 76.0h1.0M187.0 83.0h1.0M187.0 86.0h1.0M187.0 88.0h1.0M187.0 92.0h1.0M187.0 95.0h1.0M195.0 78.0h1.0M195.0 83.0h1.0M198.0 81.0h1.0M198.0 92.0h1.0M203.0 83.0h1.0M203.0 90.0h1.0M203.0 91.0h1.0M203.0 96.0h1.0M205.0 82.0h1.0M205.0 99.0h1.0M212.0 74.0h1.0M212.0 75.0h1.0M212.0 76.0h1.0M212.0 86.0h1.0M219.0 78.0h1.0M219.0 93.0h1.0M222.0 89.0h1.0M222.0 90.0h1.0M227.0 86.0h1.0M227.0 87.0h1.0M227.0 92.0h1.0M229.0 86.0h1.0M234.0 92.0h1.0M238.0 95.0h1.0M238.0 96.0h1.0M237.0 89.0h1.0M239.0 98.0h1.0M243.0 88.0h1.0M245.0 78.0h1.0M245.0 83.0h1.0M245.0 91.0h1.0M248.0 84.0h1.0M248.0 88.0h1.0M252.0 79.0h1.0M260.0 76.0h1.0M260.0 81.0h1.0M260.0 88.0h1.0M265.0 80.0h1.0M265.0 93.0h1.0M273.0 80.0h1.0M273.0 87.0h1.0M273.0 92.0h1.0M272.0 90.0h1.0M275.0 90.0h1.0M278.0 80.0h1.0M278.0 83.0h1.0M278.0 88.0h1.0M278.0 96.0h1.0M282.0 76.0h1.0M282.0 78.0h1.0M285.0 93.0h1.0M289.0 94.0h1.0M291.0 95.0h1.0M291.0 96.0h1.0M297.0 90.0h1.0M300.0 90.0h1.0M304.0 84.0h1.0M304.0 89.0h1.0M311.0 72.0h1.0M311.0 74.0h1.0M311.0 81.0h1.0M313.0 78.0h1.0M313.0 94.0h1.0M317.0 72.0h1.0M317.0 75.0h1.0M317.0 93.0h1.0M317.0 95.0h1.0M321.0 80.0h1.0M321.0 84.0h1.0M321.0 85.0h1.0M321.0 87.0h1.0M321.0 92.0h1.0M323.0 91.0h1.0M323.0 95.0h1.0M325.0 82.0h1.0M325.0 92.0h1.0M330.0 79.0h1.0M331.0 92.0h1.0M336.0 84.0h1.0M336.0 86.0h1.0M336.0 93.0h1.0M348.0 73.0h1.0M348.0 90.0h1.0M352.0 74.0h1.0M352.0 75.0h1.0M352.0 79.0h1.0M352.0 88.0h1.0M352.0 90.0h1.0M362.0 86.0h1.0M362.0 90.0h1.0M362.0 91.0h1.0M366.0 80.0h1.0M366.0 87.0h1.0M368.0 91.0h1.0M368.0 95.0h1.0M375.0 84.0h1.0M375.0 85.0h1.0M375.0 86.0h1.0M376.0 80.0h1.0M376.0 92.0h1.0M391.0 81.0h1.0M395.0 75.0h1.0M395.0 85.0h1.0M395.0 91.0h1.0M395.0 96.0h1.0M399.0 83.0h1.0M399.0 87.0h1.0M399.0 92.0h1.0M414.0 80.0h1.0M414.0 94.0h1.0M434.0 90.0h1.0M434.0 91.0h1.0M446.0 78.0h1.0M446.0 97.0h1.0M448.0 90.0h1.0M448.0 93.0h1.0M448.0 94.0h1.0M458.0 80.0h1.0M458.0 92.0h1.0M460.0 83.0h1.0M460.0 84.0h1.0M460.0 89.0h1.0M460.0 92.0h1.0M466.0 75.0h1.0M466.0 78.0h1.0M466.0 96.0h1.0M474.0 74.0h1.0M474.0 83.0h1.0M474.0 85.0h1.0M477.0 85.0h1.0M477.0 95.0h1.0M481.0 90.0h1.0M502.0 79.0h1.0M519.0 82.0h1.0M519.0 86.0h1.0M534.0 100.0h1.0M539.0 91.0h1.0M548.0 84.0h1.0M565.0 92.0h1.0M579.0 79.0h1.0M579.0 100.0h1.0M591.0 77.0h1.0M591.0 78.0h1.0M591.0 80.0h1.0M591.0 102.0h1.0M653.0 78.0h1.0M653.0 97.0h1.0M682.0 79.0h1.0M682.0 80.0h1.0"/>
<path stroke="#00ffff" stroke-width="1.00" d="M76.0 81.0h1.0M76.0 83.0h1.0M76.0 91.0h1.0M78.0 83.0h1.0M81.0 80.0h1.0M81.0 86.0h1.0M81.0 89.0h1.0M84.0 80.0h1.0M84.0 86.0h1.0M84.0 95.0h1.0M87.0 92.0h1.0M94.0 80.0h1.0M94.0 87.0h1.0M95.0 79.0h1.0M95.0 82.0h1.0M101.0 76.0h1.0M106.0 80.0h1.0M110.0 76.0h1.0M113.0 80.0h1.0M115.0 70.0h1.0M117.0 81.0h1.0M117.0 89.0h1.0M120.0 82.0h1.0M124.0 80.0h1.0M124.0 85.0h1.0M124.0 87.0h1.0M126.0 83.0h1.0M126.0 92.0h1.0M127.0 88.0h1.0M132.0 77.0h1.0M132.0 85.0h1.0M132.0 92.0h1.0M132.0 97.0h1.0M138.0 86.0h1.0M140.0 77.0h1.0M143.0 81.0h1.0M143.0 85.0h1.0M142.0 75.0h1.0M149.0 80.0h1.0M149.0 91.0h1.0M152.0 89.0h1.0M154.0 80.0h1.0M154.0 86.0h1.0M157.0 77.0h1.0M157.0 82.0h1.0M159.0 83.0h1.0M161.0 75.0h1.0M161.0 76.0h1.0M161.0 92.0h1.0M161.0 93.0h1.0M167.0 84.0h1.0M169.0 82.0h1.0M169.0 86.0h1.0M175.0 79.0h1.0M175.0 85.0h1.0M175.0 86.0h1.0M181.0 81.0h1.0M181.0 83.0h1.0M181.0 89.0h1.0M184.0 96.0h1.0M185.0 80.0h1.0M185.0 90.0h1.0M191.0 81.0h1.0M195.0 80.0h1.0M195.0 88.0h1.0M198.0 91.0h1.0M203.0 94.0h1.0M205.0 91.0h1.0M208.0 78.0h1.0M208.0 82.0h1.0M208.0 83.0h1.0M210.0 88.0h1.0M212.0 73.0h1.0M212.0 87.0h1.0M222.0 78.0h1.0M227.0 71.0h1.0M229.0 89.0h1.0M229.0 90.0h1.0M238.0 77.0h1.0M238.0 84.0h1.0M243.0 81.0h1.0M243.0 90.0h1.0M243.0 91.0h1.0M245.0 79.0h1.0M245.0 81.0h1.0M245.0 84.0h1.0M245.0 87.0h1.0M248.0 82.0h1.0M248.0 83.0h1.0M248.0 85.0h1.0M248.0 94.0h1.0M252.0 80.0h1.0M252.0 83.0h1.0M252.0 85.0h1.0M252.0 91.0h1.0M260.0 78.0h1.0M260.0 80.0h1.0M260.0 90.0h1.0M265.0 91.0h1.0M267.0 85.0h1.0M267.0 86.0h1.0M267.0 92.0h1.0M267.0 93.0h1.0M273.0 93.0h1.0M273.0 94.0h1.0M275.0 80.0h1.0M275.0 84.0h1.0M278.0 77.0h1.0M282.0 75.0h1.0M282.0 91.0h1.0M282.0 94.0h1.0M282.0 96.0h1.0M285.0 86.0h1.0M285.0 91.0h1.0M291.0 79.0h1.0M291.0 81.0h1.0M291.0 83.0h1.0M291.0 88.0h1.0M291.0 92.0h1.0M297.0 83.0h1.0M297.0 92.0h1.0M300.0 86.0h1.0M311.0 73.0h1.0M311.0 92.0h1.0M313.0 83.0h1.0M313.0 88.0h1.0M316.0 80.0h1.0M316.0 94.0h1.0M317.0 79.0h1.0M321.0 79.0h1.0M321.0 89.0h1.0M323.0 93.0h1.0M325.0 80.0h1.0M325.0 91.0h1.0M325.0 93.0h1.0M325.0 96.0h1.0M330.0 84.0h1.0M330.0 91.0h1.0M348.0 76.0h1.0M348.0 85.0h1.0M348.0 87.0h1.0M366.0 82.0h1.0M366.0 90.0h1.0M368.0 86.0h1.0M375.0 90.0h1.0M376.0 93.0h1.0M387.0 80.0h1.0M387.0 91.0h1.0M391.0 80.0h1.0M391.0 83.0h1.0M397.0 82.0h1.0M397.0 92.0h1.0M399.0 86.0h1.0M399.0 90.0h1.0M416.0 88.0h1.0M416.0 89.0h1.0M416.0 90.0h1.0M416.0 96.0h1.0M434.0 84.0h1.0M434.0 93.0h1.0M446.0 96.0h1.0M446.0 77.0h1.0M448.0 78.0h1.0M448.0 81.0h1.0M448.0 91.0h1.0M458.0 79.0h1.0M458.0 90.0h1.0M458.0 91.0h1.0M460.0 81.0h1.0M460.0 93.0h1.0M466.0 97.0h1.0M474.0 75.0h1.0M474.0 78.0h1.0M481.0 81.0h1.0M481.0 89.0h1.0M481.0 92.0h1.0M481.0 94.0h1.0M500.0 81.0h1.0M516.0 77.0h1.0M516.0 95.0h1.0M519.0 87.0h1.0M519.0 90.0h1.0M534.0 99.0h1.0M539.0 87.0h1.0M548.0 85.0h1.0M548.0 96.0h1.0M579.0 80.0h1.0M579.0 81.0h1.0M617.0 80.0h1.0M617.0 81.0h1.0M617.0 87.0h1.0M617.0 89.0h1.0M653.0 92.0h1.0M682.0 84.0h1.0M682.0 97.0h1.0"/>
<path stroke="#00ff00" stroke-width="1.00" d="M76.0 88.0h1.0M78.0 78.0h1.0M78.0 82.0h1.0M78.0 88.0h1.0M81.0 90.0h1.0M84.0 84.0h1.0M84.0 91.0h1.0M87.0 78.0h1.0M87.0 82.0h1.0M87.0 85.0h1.0M86.0 97.0h1.0M91.0 80.0h1.0M91.0 87.0h1.0M94.0 78.0h1.0M94.0 79.0h1.0M94.0 83.0h1.0M94.0 86.0h1.0M94.0 92.0h1.0M95.0 90.0h1.0M95.0 87.0h1.0M100.0 79.0h1.0M101.0 92.0h1.0M106.0 88.0h1.0M110.0 84.0h1.0M110.0 88.0h1.0M115.0 67.0h1.0M115.0 85.0h1.0M115.0 89.0h1.0M117.0 85.0h1.0M120.0 89.0h1.0M120.0 90.0h1.0M120.0 91.0h1.0M124.0 81.0h1.0M124.0 82.0h1.0M124.0 84.0h1.0M124.0 86.0h1.0M124.0 90.0h1.0M127.0 82.0h1.0M127.0 96.0h1.0M132.0 78.0h1.0M132.0 95.0h1.0M136.0 84.0h1.0M138.0 81.0h1.0M140.0 86.0h1.0M140.0 88.0h1.0M149.0 81.0h1.0M149.0 84.0h1.0M152.0 86.0h1.0M152.0 88.0h1.0M154.0 85.0h1.0M154.0 87.0h1.0M154.0 91.0h1.0M157.0 79.0h1.0M157.0 85.0h1.0M159.0 77.0h1.0M159.0 91.0h1.0M161.0 95.0h1.0M164.0 80.0h1.0M164.0 83.0h1.0M164.0 88.0h1.0M167.0 88.0h1.0M175.0 94.0h1.0M181.0 73.0h1.0M184.0 75.0h1.0M184.0 77.0h1.0M184.0 87.0h1.0M184.0 93.0h1.0M185.0 86.0h1.0M185.0 89.0h1.0M187.0 79.0h1.0M187.0 85.0h1.0M187.0 91.0h1.0M195.0 79.0h1.0M195.0 84.0h1.0M198.0 80.0h1.0M198.0 83.0h1.0M198.0 89.0h1.0M200.0 81.0h1.0M200.0 90.0h1.0M203.0 76.0h1.0M203.0 77.0h1.0M203.0 80.0h1.0M203.0 92.0h1.0M203.0 95.0h1.0M205.0 87.0h1.0M205.0 92.0h1.0M208.0 88.0h1.0M208.0 92.0h1.0M210.0 82.0h1.0M222.0 80.0h1.0M222.0 84.0h1.0M222.0 85.0h1.0M222.0 86.0h1.0M227.0 79.0h1.0M227.0 81.0h1.0M227.0 84.0h1.0M229.0 75.0h1.0M229.0 77.0h1.0M229.0 80.0h1.0M229.0 87.0h1.0M234.0 81.0h1.0M234.0 82.0h1.0M234.0 83.0h1.0M234.0 86.0h1.0M245.0 76.0h1.0M245.0 94.0h1.0M248.0 90.0h1.0M252.0 81.0h1.0M252.0 82.0h1.0M252.0 90.0h1.0M265.0 79.0h1.0M265.0 81.0h1.0M273.0 83.0h1.0M273.0 86.0h1.0M273.0 88.0h1.0M275.0 86.0h1.0M278.0 79.0h1.0M278.0 82.0h1.0M278.0 84.0h1.0M282.0 82.0h1.0M282.0 87.0h1.0M282.0 92.0h1.0M289.0 81.0h1.0M291.0 84.0h1.0M291.0 87.0h1.0M291.0 94.0h1.0M297.0 81.0h1.0M297.0 89.0h1.0M304.0 90.0h1.0M311.0 75.0h1.0M311.0 76.0h1.0M311.0 87.0h1.0M311.0 90.0h1.0M313.0 81.0h1.0M313.0 91.0h1.0M316.0 88.0h1.0M316.0 91.0h1.0M317.0 78.0h1.0M317.0 94.0h1.0M318.0 92.0h1.0M321.0 94.0h1.0M325.0 89.0h1.0M330.0 80.0h1.0M330.0 85.0h1.0M330.0 93.0h1.0M336.0 80.0h1.0M336.0 91.0h1.0M348.0 81.0h1.0M348.0 84.0h1.0M352.0 76.0h1.0M352.0 77.0h1.0M352.0 83.0h1.0M366.0 85.0h1.0M366.0 91.0h1.0M368.0 89.0h1.0M368.0 90.0h1.0M368.0 92.0h1.0M376.0 83.0h1.0M376.0 88.0h1.0M376.0 89.0h1.0M376.0 94.0h1.0M383.0 85.0h1.0M387.0 77.0h1.0M387.0 81.0h1.0M387.0 89.0h1.0M391.0 79.0h1.0M391.0 94.0h1.0M395.0 76.0h1.0M395.0 80.0h1.0M395.0 81.0h1.0M395.0 93.0h1.0M395.0 94.0h1.0M397.0 84.0h1.0M397.0 85.0h1.0M397.0 86.0h1.0M407.0 85.0h1.0M414.0 83.0h1.0M414.0 87.0h1.0M416.0 97.0h1.0M434.0 86.0h1.0M446.0 85.0h1.0M446.0 94.0h1.0M446.0 95.0h1.0M446.0 80.0h1.0M448.0 84.0h1.0M448.0 86.0h1.0M448.0 87.0h1.0M448.0 88.0h1.0M466.0 81.0h1.0M466.0 91.0h1.0M474.0 91.0h1.0M477.0 94.0h1.0M481.0 85.0h1.0M481.0 91.0h1.0M487.0 76.0h1.0M487.0 80.0h1.0M500.0 85.0h1.0M500.0 99.0h1.0M502.0 80.0h1.0M502.0 90.0h1.0M502.0 94.0h1.0M519.0 84.0h1.0M519.0 88.0h1.0M519.0 91.0h1.0M519.0 96.0h1.0M519.0 97.0h1.0M534.0 80.0h1.0M534.0 81.0h1.0M548.0 80.0h1.0M548.0 90.0h1.0M548.0 91.0h1.0M565.0 84.0h1.0M565.0 85.0h1.0M565.0 86.0h1.0M565.0 88.0h1.0M579.0 78.0h1.0M579.0 84.0h1.0M591.0 81.0h1.0M591.0 85.0h1.0M591.0 101.0h1.0M617.0 75.0h1.0M617.0 82.0h1.0M653.0 84.0h1.0M653.0 96.0h1.0M653.0 98.0h1.0M653.0 100.0h1.0M682.0 81.0h1.0M682.0 87.0h1.0M682.0 88.0h1.0M682.0 93.0h1.0"/>
<path stroke="#008040" stroke-width="1.00" d="M76.0 85.0h1.0M76.0 86.0h1.0M78.0 80.0h1.0M78.0 85.0h1.0M78.0 86.0h1.0M81.0 88.0h1.0M87.0 86.0h1.0M87.0 88.0h1.0M91.0 82.0h1.0M91.0 89.0h1.0M94.0 85.0h1.0M95.0 78.0h1.0M95.0 88.0h1.0M100.0 78.0h1.0M100.0 89.0h1.0M100.0 90.0h1.0M100.0 91.0h1.0M101.0 77.0h1.0M101.0 81.0h1.0M101.0 82.0h1.0M101.0 84.0h1.0M110.0 81.0h1.0M113.0 81.0h1.0M113.0 85.0h1.0M115.0 73.0h1.0M115.0 80.0h1.0M115.0 84.0h1.0M117.0 84.0h1.0M117.0 93.0h1.0M120.0 80.0h1.0M120.0 81.0h1.0M124.0 79.0h1.0M124.0 83.0h1.0M126.0 85.0h1.0M126.0 86.0h1.0M127.0 81.0h1.0M127.0 86.0h1.0M127.0 97.0h1.0M138.0 87.0h1.0M140.0 87.0h1.0M149.0 79.0h1.0M149.0 86.0h1.0M154.0 93.0h1.0M157.0 83.0h1.0M157.0 88.0h1.0M157.0 91.0h1.0M159.0 88.0h1.0M159.0 89.0h1.0M161.0 81.0h1.0M161.0 83.0h1.0M161.0 89.0h1.0M164.0 84.0h1.0M164.0 87.0h1.0M164.0 89.0h1.0M164.0 90.0h1.0M167.0 89.0h1.0M167.0 90.0h1.0M169.0 77.0h1.0M169.0 91.0h1.0M169.0 92.0h1.0M175.0 92.0h1.0M177.0 85.0h1.0M181.0 86.0h1.0M184.0 78.0h1.0M184.0 82.0h1.0M185.0 83.0h1.0M185.0 92.0h1.0M187.0 77.0h1.0M187.0 78.0h1.0M187.0 84.0h1.0M187.0 93.0h1.0M192.0 93.0h1.0M195.0 81.0h1.0M195.0 89.0h1.0M198.0 86.0h1.0M198.0 95.0h1.0M200.0 84.0h1.0M200.0 85.0h1.0M200.0 93.0h1.0M203.0 79.0h1.0M205.0 84.0h1.0M205.0 86.0h1.0M205.0 90.0h1.0M205.0 93.0h1.0M210.0 86.0h1.0M212.0 79.0h1.0M212.0 85.0h1.0M219.0 80.0h1.0M219.0 90.0h1.0M222.0 94.0h1.0M227.0 91.0h1.0M234.0 90.0h1.0M234.0 91.0h1.0M238.0 76.0h1.0M238.0 78.0h1.0M238.0 80.0h1.0M238.0 90.0h1.0M243.0 82.0h1.0M243.0 86.0h1.0M245.0 80.0h1.0M245.0 86.0h1.0M248.0 98.0h1.0M260.0 85.0h1.0M267.0 82.0h1.0M267.0 87.0h1.0M273.0 81.0h1.0M275.0 81.0h1.0M275.0 95.0h1.0M278.0 95.0h1.0M282.0 85.0h1.0M282.0 86.0h1.0M289.0 75.0h1.0M289.0 82.0h1.0M289.0 83.0h1.0M289.0 90.0h1.0M291.0 86.0h1.0M297.0 82.0h1.0M300.0 83.0h1.0M304.0 80.0h1.0M304.0 82.0h1.0M304.0 83.0h1.0M304.0 85.0h1.0M313.0 92.0h1.0M317.0 82.0h1.0M317.0 87.0h1.0M317.0 89.0h1.0M317.0 92.0h1.0M321.0 81.0h1.0M321.0 88.0h1.0M323.0 82.0h1.0M323.0 83.0h1.0M323.0 85.0h1.0M323.0 87.0h1.0M336.0 88.0h1.0M336.0 89.0h1.0M348.0 86.0h1.0M348.0 88.0h1.0M348.0 89.0h1.0M362.0 76.0h1.0M362.0 77.0h1.0M362.0 79.0h1.0M362.0 81.0h1.0M362.0 82.0h1.0M366.0 84.0h1.0M366.0 88.0h1.0M366.0 89.0h1.0M368.0 87.0h1.0M375.0 79.0h1.0M375.0 87.0h1.0M376.0 90.0h1.0M383.0 88.0h1.0M383.0 93.0h1.0M383.0 96.0h1.0M387.0 85.0h1.0M387.0 88.0h1.0M387.0 90.0h1.0M391.0 90.0h1.0M391.0 93.0h1.0M395.0 78.0h1.0M395.0 95.0h1.0M407.0 83.0h1.0M407.0 87.0h1.0M414.0 91.0h1.0M416.0 98.0h1.0M434.0 83.0h1.0M434.0 85.0h1.0M434.0 88.0h1.0M446.0 79.0h1.0M446.0 83.0h1.0M446.0 86.0h1.0M448.0 80.0h1.0M448.0 83.0h1.0M458.0 84.0h1.0M458.0 85.0h1.0M458.0 87.0h1.0M458.0 93.0h1.0M458.0 94.0h1.0M466.0 77.0h1.0M466.0 79.0h1.0M466.0 93.0h1.0M474.0 76.0h1.0M474.0 80.0h1.0M474.0 88.0h1.0M477.0 86.0h1.0M477.0 89.0h1.0M477.0 92.0h1.0M487.0 77.0h1.0M487.0 79.0h1.0M487.0 90.0h1.0M487.0 91.0h1.0M487.0 92.0h1.0M500.0 80.0h1.0M500.0 82.0h1.0M500.0 91.0h1.0M502.0 78.0h1.0M516.0 89.0h1.0M516.0 91.0h1.0M519.0 79.0h1.0M519.0 80.0h1.0M519.0 83.0h1.0M519.0 85.0h1.0M519.0 93.0h1.0M519.0 95.0h1.0M534.0 87.0h1.0M534.0 96.0h1.0M534.0 98.0h1.0M539.0 88.0h1.0M539.0 89.0h1.0M548.0 81.0h1.0M548.0 82.0h1.0M548.0 86.0h1.0M548.0 88.0h1.0M548.0 92.0h1.0M548.0 94.0h1.0M565.0 87.0h1.0M565.0 90.0h1.0M565.0 96.0h1.0M579.0 82.0h1.0M579.0 96.0h1.0M591.0 100.0h1.0M617.0 76.0h1.0M653.0 82.0h1.0M653.0 83.0h1.0M653.0 90.0h1.0M682.0 86.0h1.0M682.0 89.0h1.0"/>
<path stroke="#408080" stroke-width="1.00" d="M78.0 91.0h1.0M84.0 79.0h1.0M84.0 89.0h1.0M87.0 89.0h1.0M91.0 85.0h1.0M100.0 86.0h1.0M100.0 87.0h1.0M100.0 88.0h1.0M100.0 92.0h1.0M101.0 90.0h1.0M101.0 93.0h1.0M101.0 94.0h1.0M106.0 82.0h1.0M110.0 80.0h1.0M117.0 87.0h1.0M120.0 86.0h1.0M124.0 88.0h1.0M127.0 83.0h1.0M127.0 85.0h1.0M127.0 87.0h1.0M132.0 81.0h1.0M132.0 91.0h1.0M136.0 76.0h1.0M136.0 81.0h1.0M136.0 89.0h1.0M138.0 85.0h1.0M140.0 80.0h1.0M140.0 83.0h1.0M143.0 80.0h1.0M143.0 87.0h1.0M149.0 78.0h1.0M149.0 87.0h1.0M149.0 88.0h1.0M149.0 90.0h1.0M152.0 87.0h1.0M154.0 83.0h1.0M157.0 84.0h1.0M157.0 87.0h1.0M161.0 88.0h1.0M167.0 87.0h1.0M167.0 94.0h1.0M167.0 96.0h1.0M167.0 97.0h1.0M166.0 94.0h1.0M169.0 88.0h1.0M169.0 94.0h1.0M175.0 84.0h1.0M175.0 88.0h1.0M175.0 99.0h1.0M177.0 78.0h1.0M177.0 83.0h1.0M177.0 88.0h1.0M177.0 90.0h1.0M181.0 93.0h1.0M184.0 83.0h1.0M187.0 81.0h1.0M195.0 85.0h1.0M198.0 85.0h1.0M198.0 87.0h1.0M198.0 90.0h1.0M203.0 81.0h1.0M205.0 81.0h1.0M205.0 88.0h1.0M205.0 89.0h1.0M205.0 96.0h1.0M208.0 86.0h1.0M208.0 89.0h1.0M219.0 81.0h1.0M219.0 83.0h1.0M222.0 88.0h1.0M227.0 82.0h1.0M227.0 85.0h1.0M229.0 79.0h1.0M229.0 83.0h1.0M234.0 85.0h1.0M238.0 87.0h1.0M238.0 89.0h1.0M243.0 85.0h1.0M245.0 82.0h1.0M248.0 93.0h1.0M252.0 84.0h1.0M260.0 82.0h1.0M260.0 89.0h1.0M265.0 84.0h1.0M265.0 92.0h1.0M267.0 89.0h1.0M273.0 79.0h1.0M273.0 90.0h1.0M275.0 83.0h1.0M275.0 93.0h1.0M278.0 89.0h1.0M282.0 80.0h1.0M285.0 81.0h1.0M285.0 89.0h1.0M289.0 78.0h1.0M289.0 84.0h1.0M289.0 89.0h1.0M289.0 91.0h1.0M289.0 92.0h1.0M297.0 85.0h1.0M297.0 86.0h1.0M311.0 89.0h1.0M311.0 93.0h1.0M313.0 79.0h1.0M313.0 86.0h1.0M316.0 83.0h1.0M316.0 87.0h1.0M317.0 73.0h1.0M321.0 86.0h1.0M321.0 91.0h1.0M323.0 79.0h1.0M323.0 84.0h1.0M325.0 83.0h1.0M325.0 86.0h1.0M325.0 88.0h1.0M325.0 90.0h1.0M336.0 81.0h1.0M336.0 83.0h1.0M336.0 92.0h1.0M348.0 95.0h1.0M352.0 87.0h1.0M352.0 92.0h1.0M362.0 84.0h1.0M376.0 85.0h1.0M376.0 87.0h1.0M383.0 84.0h1.0M383.0 87.0h1.0M383.0 90.0h1.0M383.0 95.0h1.0M387.0 83.0h1.0M391.0 89.0h1.0M391.0 91.0h1.0M395.0 79.0h1.0M395.0 86.0h1.0M397.0 83.0h1.0M397.0 89.0h1.0M414.0 84.0h1.0M414.0 93.0h1.0M416.0 85.0h1.0M416.0 92.0h1.0M434.0 87.0h1.0M434.0 89.0h1.0M434.0 92.0h1.0M446.0 90.0h1.0M458.0 81.0h1.0M460.0 90.0h1.0M466.0 76.0h1.0M474.0 82.0h1.0M474.0 84.0h1.0M487.0 78.0h1.0M487.0 93.0h1.0M500.0 83.0h1.0M500.0 90.0h1.0M502.0 83.0h1.0M502.0 85.0h1.0M502.0 88.0h1.0M502.0 93.0h1.0M502.0 96.0h1.0M516.0 81.0h1.0M516.0 84.0h1.0M516.0 90.0h1.0M516.0 93.0h1.0M516.0 94.0h1.0M534.0 78.0h1.0M534.0 85.0h1.0M539.0 80.0h1.0M539.0 90.0h1.0M548.0 83.0h1.0M548.0 89.0h1.0M565.0 93.0h1.0M565.0 95.0h1.0M579.0 87.0h1.0M579.0 88.0h1.0M579.0 98.0h1.0M591.0 79.0h1.0M591.0 93.0h1.0M591.0 97.0h1.0M591.0 98.0h1.0M617.0 78.0h1.0M617.0 95.0h1.0M653.0 89.0h1.0M653.0 94.0h1.0"/>
<path stroke="#ffff00" stroke-width="1.00" d="M76.0 82.0h1.0M91.0 84.0h1.0M95.0 86.0h1.0M95.0 77.0h1.0M95.0 84.0h1.0M100.0 82.0h1.0M100.0 83.0h1.0M100.0 84.0h1.0M101.0 79.0h1.0M101.0 80.0h1.0M101.0 89.0h1.0M110.0 85.0h1.0M115.0 74.0h1.0M115.0 75.0h1.0M115.0 82.0h1.0M120.0 83.0h1.0M120.0 84.0h1.0M126.0 88.0h1.0M127.0 80.0h1.0M127.0 89.0h1.0M132.0 82.0h1.0M132.0 96.0h1.0M136.0 82.0h1.0M138.0 84.0h1.0M138.0 92.0h1.0M138.0 93.0h1.0M140.0 78.0h1.0M140.0 89.0h1.0M143.0 84.0h1.0M143.0 88.0h1.0M149.0 85.0h1.0M152.0 94.0h1.0M157.0 81.0h1.0M159.0 85.0h1.0M161.0 79.0h1.0M167.0 85.0h1.0M169.0 89.0h1.0M175.0 82.0h1.0M175.0 87.0h1.0M175.0 90.0h1.0M177.0 82.0h1.0M177.0 87.0h1.0M181.0 80.0h1.0M181.0 87.0h1.0M184.0 79.0h1.0M185.0 88.0h1.0M187.0 90.0h1.0M192.0 86.0h1.0M200.0 87.0h1.0M200.0 89.0h1.0M203.0 82.0h1.0M203.0 89.0h1.0M203.0 93.0h1.0M205.0 85.0h1.0M205.0 94.0h1.0M205.0 97.0h1.0M208.0 85.0h1.0M210.0 85.0h1.0M212.0 77.0h1.0M212.0 82.0h1.0M212.0 83.0h1.0M219.0 87.0h1.0M219.0 88.0h1.0M219.0 89.0h1.0M227.0 89.0h1.0M227.0 90.0h1.0M227.0 93.0h1.0M229.0 81.0h1.0M229.0 85.0h1.0M238.0 82.0h1.0M238.0 83.0h1.0M238.0 85.0h1.0M245.0 77.0h1.0M245.0 85.0h1.0M245.0 89.0h1.0M245.0 92.0h1.0M252.0 89.0h1.0M260.0 83.0h1.0M265.0 83.0h1.0M265.0 85.0h1.0M265.0 89.0h1.0M275.0 91.0h1.0M275.0 92.0h1.0M278.0 81.0h1.0M278.0 85.0h1.0M278.0 86.0h1.0M285.0 83.0h1.0M285.0 87.0h1.0M289.0 79.0h1.0M289.0 80.0h1.0M289.0 85.0h1.0M289.0 86.0h1.0M289.0 87.0h1.0M289.0 95.0h1.0M289.0 98.0h1.0M311.0 77.0h1.0M311.0 78.0h1.0M313.0 93.0h1.0M317.0 76.0h1.0M317.0 85.0h1.0M323.0 86.0h1.0M323.0 90.0h1.0M325.0 87.0h1.0M330.0 83.0h1.0M330.0 90.0h1.0M336.0 75.0h1.0M336.0 85.0h1.0M348.0 78.0h1.0M348.0 82.0h1.0M352.0 78.0h1.0M352.0 91.0h1.0M352.0 93.0h1.0M362.0 87.0h1.0M366.0 78.0h1.0M366.0 83.0h1.0M366.0 86.0h1.0M368.0 88.0h1.0M375.0 81.0h1.0M376.0 84.0h1.0M383.0 86.0h1.0M383.0 92.0h1.0M383.0 94.0h1.0M387.0 79.0h1.0M387.0 82.0h1.0M387.0 84.0h1.0M387.0 86.0h1.0M391.0 82.0h1.0M395.0 82.0h1.0M395.0 87.0h1.0M395.0 88.0h1.0M397.0 88.0h1.0M397.0 91.0h1.0M399.0 85.0h1.0M399.0 88.0h1.0M446.0 82.0h1.0M446.0 91.0h1.0M448.0 92.0h1.0M458.0 88.0h1.0M466.0 80.0h1.0M466.0 85.0h1.0M466.0 90.0h1.0M477.0 82.0h1.0M477.0 90.0h1.0M477.0 93.0h1.0M481.0 86.0h1.0M487.0 86.0h1.0M500.0 78.0h1.0M500.0 79.0h1.0M500.0 93.0h1.0M500.0 94.0h1.0M502.0 81.0h1.0M502.0 91.0h1.0M516.0 82.0h1.0M516.0 87.0h1.0M565.0 83.0h1.0M579.0 77.0h1.0M579.0 83.0h1.0M579.0 86.0h1.0M579.0 90.0h1.0M579.0 94.0h1.0M591.0 87.0h1.0M591.0 92.0h1.0M591.0 95.0h1.0M617.0 85.0h1.0M617.0 93.0h1.0"/>
<path stroke="#ffc080" stroke-width="1.00" d="M76.0 84.0h1.0M76.0 87.0h1.0M76.0 90.0h1.0M91.0 86.0h1.0M91.0 88.0h1.0M91.0 91.0h1.0M94.0 77.0h1.0M94.0 81.0h1.0M95.0 83.0h1.0M95.0 81.0h1.0M95.0 89.0h1.0M100.0 80.0h1.0M110.0 91.0h1.0M113.0 87.0h1.0M115.0 77.0h1.0M120.0 85.0h1.0M120.0 87.0h1.0M124.0 89.0h1.0M132.0 83.0h1.0M132.0 87.0h1.0M132.0 93.0h1.0M136.0 79.0h1.0M136.0 80.0h1.0M136.0 86.0h1.0M143.0 86.0h1.0M159.0 84.0h1.0M159.0 87.0h1.0M161.0 77.0h1.0M161.0 78.0h1.0M161.0 85.0h1.0M164.0 81.0h1.0M164.0 82.0h1.0M169.0 84.0h1.0M175.0 93.0h1.0M175.0 95.0h1.0M175.0 96.0h1.0M177.0 84.0h1.0M195.0 82.0h1.0M198.0 84.0h1.0M205.0 95.0h1.0M219.0 82.0h1.0M219.0 84.0h1.0M219.0 86.0h1.0M227.0 77.0h1.0M229.0 82.0h1.0M229.0 84.0h1.0M234.0 88.0h1.0M234.0 89.0h1.0M238.0 86.0h1.0M238.0 93.0h1.0M245.0 74.0h1.0M248.0 91.0h1.0M252.0 87.0h1.0M260.0 87.0h1.0M265.0 86.0h1.0M265.0 88.0h1.0M275.0 87.0h1.0M275.0 88.0h1.0M282.0 84.0h1.0M282.0 88.0h1.0M282.0 89.0h1.0M285.0 84.0h1.0M289.0 93.0h1.0M291.0 89.0h1.0M297.0 84.0h1.0M304.0 86.0h1.0M311.0 84.0h1.0M311.0 85.0h1.0M311.0 86.0h1.0M313.0 85.0h1.0M313.0 89.0h1.0M316.0 82.0h1.0M316.0 85.0h1.0M316.0 86.0h1.0M317.0 74.0h1.0M317.0 80.0h1.0M317.0 81.0h1.0M317.0 91.0h1.0M321.0 82.0h1.0M321.0 83.0h1.0M321.0 93.0h1.0M330.0 82.0h1.0M330.0 87.0h1.0M336.0 78.0h1.0M336.0 82.0h1.0M348.0 83.0h1.0M348.0 91.0h1.0M352.0 81.0h1.0M352.0 82.0h1.0M352.0 84.0h1.0M352.0 85.0h1.0M352.0 86.0h1.0M362.0 83.0h1.0M366.0 93.0h1.0M368.0 85.0h1.0M375.0 82.0h1.0M391.0 84.0h1.0M391.0 85.0h1.0M391.0 87.0h1.0M391.0 88.0h1.0M391.0 92.0h1.0M395.0 84.0h1.0M395.0 89.0h1.0M407.0 88.0h1.0M414.0 86.0h1.0M414.0 90.0h1.0M434.0 81.0h1.0M446.0 81.0h1.0M446.0 93.0h1.0M448.0 89.0h1.0M466.0 88.0h1.0M474.0 79.0h1.0M474.0 87.0h1.0M477.0 88.0h1.0M487.0 84.0h1.0M500.0 84.0h1.0M500.0 89.0h1.0M500.0 97.0h1.0M502.0 84.0h1.0M502.0 86.0h1.0M502.0 92.0h1.0M502.0 98.0h1.0M516.0 85.0h1.0M519.0 92.0h1.0M534.0 90.0h1.0M539.0 84.0h1.0M548.0 79.0h1.0M565.0 91.0h1.0M565.0 94.0h1.0M579.0 89.0h1.0M591.0 84.0h1.0M591.0 88.0h1.0M591.0 90.0h1.0M653.0 86.0h1.0M653.0 91.0h1.0M682.0 91.0h1.0"/>
<path stroke="#ff8000" stroke-width="1.00" d="M78.0 84.0h1.0M84.0 85.0h1.0M95.0 80.0h1.0M95.0 85.0h1.0M100.0 85.0h1.0M101.0 78.0h1.0M101.0 83.0h1.0M101.0 87.0h1.0M110.0 82.0h1.0M110.0 86.0h1.0M115.0 79.0h1.0M132.0 84.0h1.0M132.0 86.0h1.0M132.0 90.0h1.0M136.0 83.0h1.0M138.0 88.0h1.0M138.0 89.0h1.0M140.0 85.0h1.0M154.0 88.0h1.0M164.0 86.0h1.0M169.0 85.0h1.0M169.0 87.0h1.0M169.0 93.0h1.0M185.0 87.0h1.0M185.0 91.0h1.0M187.0 82.0h1.0M192.0 89.0h1.0M198.0 94.0h1.0M229.0 78.0h1.0M229.0 88.0h1.0M238.0 88.0h1.0M245.0 75.0h1.0M260.0 86.0h1.0M273.0 85.0h1.0M278.0 87.0h1.0M282.0 81.0h1.0M282.0 93.0h1.0M285.0 88.0h1.0M291.0 85.0h1.0M317.0 83.0h1.0M317.0 86.0h1.0M323.0 81.0h1.0M323.0 88.0h1.0M323.0 89.0h1.0M325.0 85.0h1.0M336.0 87.0h1.0M336.0 90.0h1.0M366.0 79.0h1.0M368.0 93.0h1.0M375.0 91.0h1.0M383.0 83.0h1.0M383.0 91.0h1.0M387.0 87.0h1.0M395.0 90.0h1.0M395.0 92.0h1.0M397.0 87.0h1.0M399.0 94.0h1.0M416.0 94.0h1.0M416.0 95.0h1.0M446.0 87.0h1.0M446.0 88.0h1.0M446.0 89.0h1.0M458.0 83.0h1.0M458.0 89.0h1.0M466.0 84.0h1.0M466.0 89.0h1.0M474.0 89.0h1.0M477.0 83.0h1.0M487.0 88.0h1.0M487.0 89.0h1.0M500.0 86.0h1.0M500.0 88.0h1.0M500.0 98.0h1.0M516.0 83.0h1.0M534.0 84.0h1.0M534.0 86.0h1.0M534.0 88.0h1.0M534.0 93.0h1.0M534.0 94.0h1.0M534.0 97.0h1.0M579.0 85.0h1.0M579.0 91.0h1.0M579.0 97.0h1.0M617.0 79.0h1.0M617.0 83.0h1.0M617.0 84.0h1.0M617.0 90.0h1.0M617.0 91.0h1.0M682.0 94.0h1.0"/>
<path stroke="#ff0080" stroke-width="1.00" d="M76.0 89.0h1.0M84.0 87.0h1.0M113.0 86.0h1.0M132.0 88.0h1.0M140.0 79.0h1.0M143.0 82.0h1.0M143.0 83.0h1.0M203.0 84.0h1.0M203.0 85.0h1.0M203.0 86.0h1.0M203.0 88.0h1.0M238.0 81.0h1.0M238.0 92.0h1.0M252.0 88.0h1.0M273.0 89.0h1.0M278.0 90.0h1.0M285.0 85.0h1.0M289.0 77.0h1.0M289.0 88.0h1.0M311.0 83.0h1.0M311.0 88.0h1.0M317.0 77.0h1.0M317.0 84.0h1.0M321.0 90.0h1.0M330.0 86.0h1.0M330.0 89.0h1.0M362.0 85.0h1.0M375.0 83.0h1.0M383.0 89.0h1.0M448.0 82.0h1.0M466.0 82.0h1.0M474.0 81.0h1.0M477.0 87.0h1.0M487.0 74.0h1.0M487.0 85.0h1.0M487.0 87.0h1.0M487.0 94.0h1.0M500.0 87.0h1.0M516.0 92.0h1.0M534.0 82.0h1.0M534.0 83.0h1.0M548.0 87.0h1.0M579.0 95.0h1.0M591.0 82.0h1.0M591.0 83.0h1.0"/>
<path stroke="#ff0000" stroke-width="1.00" d="M101.0 86.0h1.0M127.0 91.0h1.0M140.0 82.0h1.0M167.0 92.0h1.0M185.0 84.0h1.0M195.0 86.0h1.0M227.0 83.0h1.0M238.0 91.0h1.0M248.0 89.0h1.0M304.0 87.0h1.0M311.0 82.0h1.0M313.0 87.0h1.0M399.0 84.0h1.0M416.0 87.0h1.0M458.0 86.0h1.0M466.0 83.0h1.0M466.0 86.0h1.0M466.0 87.0h1.0M474.0 86.0h1.0M477.0 84.0h1.0M487.0 82.0h1.0M502.0 89.0h1.0M534.0 89.0h1.0M539.0 85.0h1.0M591.0 91.0h1.0"/>
<path stroke="#c00000" stroke-width="1.00" d="M91.0 90.0h1.0M132.0 80.0h1.0M149.0 83.0h1.0M164.0 85.0h1.0M175.0 91.0h1.0M185.0 85.0h1.0M227.0 80.0h1.0M311.0 79.0h1.0M311.0 80.0h1.0M330.0 88.0h1.0M416.0 91.0h1.0M416.0 93.0h1.0M446.0 84.0h1.0M448.0 85.0h1.0M500.0 92.0h1.0M516.0 86.0h1.0M534.0 95.0h1.0"/>
<path stroke="#800000" stroke-width="1.00" d="M212.0 78.0h1.0M245.0 90.0h1.0M375.0 88.0h1.0M477.0 91.0h1.0M502.0 87.0h1.0M591.0 86.0h1.0M591.0 89.0h1.0M617.0 92.0h1.0"/>
<path stroke="#000000" stroke-width="1.00" d="M212.0 81.0h1.0M534.0 92.0h1.0"/>
<path stroke="#808080" stroke-width="1.00" d="M617.0 88.0h1.0"/>
<path stroke="#c0c0c0" stroke-width="1.00" d="M198.0 88.0h1.0"/>
</g>
<rect x="73.50" y="41.50" width="615.00" height="89.00" fill="none" stroke="#000" stroke-width="1.1"/>
<text x="73.00" y="142.10" text-anchor="middle" stroke="#000" stroke-width="0.22">08:00:00</text>
<path d="M176.50 130.50L176.50 125.50" stroke="#000" stroke-width="1.1" fill="none"/>
<text x="176.00" y="142.10" text-anchor="middle" stroke="#000" stroke-width="0.22">08:10:00</text>
<path d="M278.50 130.50L278.50 125.50" stroke="#000" stroke-width="1.1" fill="none"/>
<text x="278.00" y="142.10" text-anchor="middle" stroke="#000" stroke-width="0.22">08:20:00</text>
<path d="M381.50 130.50L381.50 125.50" stroke="#000" stroke-width="1.1" fill="none"/>
<text x="381.00" y="142.10" text-anchor="middle" stroke="#000" stroke-width="0.22">08:30:00</text>
<path d="M483.50 130.50L483.50 125.50" stroke="#000" stroke-width="1.1" fill="none"/>
<text x="483.00" y="142.10" text-anchor="middle" stroke="#000" stroke-width="0.22">08:40:00</text>
<path d="M586.50 130.50L586.50 125.50" stroke="#000" stroke-width="1.1" fill="none"/>
<text x="586.00" y="142.10" text-anchor="middle" stroke="#000" stroke-width="0.22">08:50:00</text>
<text x="688.00" y="142.10" text-anchor="middle" stroke="#000" stroke-width="0.22">09:00:00</text>
<text x="68.80" y="134.30" text-anchor="end" stroke="#000" stroke-width="0.22">0</text>
<path d="M73.50 86.00L78.50 86.00" stroke="#000" stroke-width="1.1" fill="none"/>
<text x="68.80" y="89.80" text-anchor="end" stroke="#000" stroke-width="0.22">10</text>
<text x="68.80" y="45.30" text-anchor="end" stroke="#000" stroke-width="0.22">20</text>
<text x="46.20" y="86.60" text-anchor="middle" stroke="#000" stroke-width="0.22" font-size="11.0" letter-spacing="0" transform="rotate(-90 46.20 86.60)">Altitude, km</text>
<text x="380.30" y="32.90" text-anchor="middle" stroke="#000" stroke-width="0.22" font-size="16.7" letter-spacing="0">LL LMA 0800-0900 UTC August 01, 2024</text>
<path d="M134.50 157.50L134.50 245.30" stroke="#e9e9e9" stroke-width="1.2" fill="none"/>
<path d="M194.50 157.50L194.50 245.30" stroke="#e9e9e9" stroke-width="1.2" fill="none"/>
<path d="M255.50 157.50L255.50 245.30" stroke="#e9e9e9" stroke-width="1.2" fill="none"/>
<path d="M315.50 157.50L315.50 245.30" stroke="#e9e9e9" stroke-width="1.2" fill="none"/>
<path d="M376.50 157.50L376.50 245.30" stroke="#e9e9e9" stroke-width="1.2" fill="none"/>
<path d="M436.50 157.50L436.50 245.30" stroke="#e9e9e9" stroke-width="1.2" fill="none"/>
<path d="M497.50 157.50L497.50 245.30" stroke="#e9e9e9" stroke-width="1.2" fill="none"/>
<path d="M73.50 201.40L557.50 201.40" stroke="#e9e9e9" stroke-width="1.2" fill="none"/>
<g shape-rendering="crispEdges" fill="none">
<path stroke="#ff50ff" stroke-width="1.10" d="M302.3 209.8h1.6M297.5 171.2h1.6M297.5 210.9h1.6M295.9 209.8h1.6M302.3 216.4h1.6M292.7 186.7h1.6M295.9 203.2h1.6M310.3 170.2h1.6M295.9 180.1h1.6M294.3 179.0h1.6M294.3 194.4h1.6M303.9 216.4h1.6M295.9 213.1h1.6M297.5 187.8h1.6M294.3 209.8h1.6M308.7 180.1h1.6M292.7 208.7h1.6M315.1 188.9h1.6M294.3 205.4h1.6M292.7 199.9h1.6M307.1 213.1h1.6M292.7 194.4h1.6M307.1 183.4h1.6M299.1 223.0h1.6M292.7 201.0h1.6M294.3 190.0h1.6M310.3 215.2h1.6M308.7 184.5h1.6M286.3 193.2h1.6M289.5 191.1h1.6M289.5 188.9h1.6M289.5 183.4h1.6M287.9 213.1h1.6M291.1 193.2h1.6M281.5 201.0h1.6M284.7 190.0h1.6M286.3 186.7h1.6M286.3 213.1h1.6M291.1 213.1h1.6M291.1 194.4h1.6M291.1 201.0h1.6M289.5 209.8h1.6M291.1 203.2h1.6M284.7 209.8h1.6M284.7 194.4h1.6M289.5 208.7h1.6M291.1 204.2h1.6M291.1 209.8h1.6M287.9 190.0h1.6M286.3 216.4h1.6M283.1 204.2h1.6M283.1 206.5h1.6M291.1 192.2h1.6M284.7 187.8h1.6M326.3 188.9h1.6M327.9 215.2h1.6M323.1 216.4h1.6M327.9 187.8h1.6M331.1 188.9h1.6M329.5 187.8h1.6M326.3 190.0h1.6M324.7 215.2h1.6M315.1 213.1h1.6M310.3 217.5h1.6M316.7 191.1h1.6M313.5 183.4h1.6M311.9 188.9h1.6M315.1 216.4h1.6M307.1 217.5h1.6M313.5 188.9h1.6M313.5 215.2h1.6M347.1 193.2h1.6M348.7 208.7h1.6M347.1 216.4h1.6M345.5 190.0h1.6M342.3 215.2h1.6M348.7 212.0h1.6M347.1 214.2h1.6M348.7 197.7h1.6M348.7 210.9h1.6M348.7 203.2h1.6M342.3 218.6h1.6M343.9 218.6h1.6M337.5 216.4h1.6M345.5 193.2h1.6M348.7 194.4h1.6M347.1 195.5h1.6M340.7 190.0h1.6M348.7 215.2h1.6M348.7 195.5h1.6M340.7 218.6h1.6M343.9 219.7h1.6M334.3 218.6h1.6M332.7 218.6h1.6M331.1 215.2h1.6M329.5 215.2h1.6M335.9 218.6h1.6M332.7 217.5h1.6M337.5 188.9h1.6M335.9 192.2h1.6M334.3 215.2h1.6M339.1 196.6h1.6M337.5 193.2h1.6M337.5 217.5h1.6M351.9 198.8h1.6M318.3 177.9h1.6M319.9 191.1h1.6M331.1 214.2h1.6M279.9 203.2h1.6M340.7 192.2h1.6M292.7 207.6h1.6M315.1 217.5h1.6M294.3 207.6h1.6M340.7 185.6h1.6M292.7 210.9h1.6M316.7 190.0h1.6M316.7 213.1h1.6M319.9 187.8h1.6M278.3 204.2h1.6M331.1 191.1h1.6M324.7 217.5h1.6M321.5 213.1h1.6M324.7 218.6h1.6M292.7 195.5h1.6M303.9 218.6h1.6M291.1 202.1h1.6M310.3 185.6h1.6M305.5 219.7h1.6M331.1 183.4h1.6M292.7 209.8h1.6M337.5 186.7h1.6M300.7 220.8h1.6M318.3 187.8h1.6M350.3 217.5h1.6M281.5 199.9h1.6M294.3 192.2h1.6M321.5 191.1h1.6M347.1 212.0h1.6M295.9 218.6h1.6M319.9 215.2h1.6M287.9 221.9h1.6M318.3 214.2h1.6M335.9 188.9h1.6M313.5 220.8h1.6M295.9 214.2h1.6M308.7 185.6h1.6M295.9 206.5h1.6M310.3 186.7h1.6M326.3 217.5h1.6M342.3 192.2h1.6M321.5 218.6h1.6M321.5 215.2h1.6M300.7 221.9h1.6M308.7 186.7h1.6M321.5 208.7h1.6M318.3 192.2h1.6M327.9 188.9h1.6M283.1 196.6h1.6M324.7 219.7h1.6M319.9 190.0h1.6M299.1 215.2h1.6M318.3 215.2h1.6M294.3 206.5h1.6M303.9 220.8h1.6M294.3 198.8h1.6M297.5 215.2h1.6M283.1 197.7h1.6M323.1 190.0h1.6M313.5 191.1h1.6M300.7 215.2h1.6M337.5 179.0h1.6M323.1 179.0h1.6M326.3 179.0h1.6M332.7 219.7h1.6M302.3 219.7h1.6M319.9 220.8h1.6M303.9 219.7h1.6M279.9 207.6h1.6M313.5 227.4h1.6M300.7 235.1h1.6M289.5 234.0h1.6M323.1 184.5h1.6M326.3 218.6h1.6M343.9 184.5h1.6M319.9 183.4h1.6M321.5 187.8h1.6M324.7 220.8h1.6M313.5 186.7h1.6M316.7 219.7h1.6M294.3 218.6h1.6M310.3 220.8h1.6M302.3 223.0h1.6M299.1 214.2h1.6M300.7 214.2h1.6M294.3 195.5h1.6M303.9 179.0h1.6M289.5 185.6h1.6M297.5 216.4h1.6M295.9 182.2h1.6M303.9 172.4h1.6M300.7 174.6h1.6M302.3 172.4h1.6M300.7 165.8h1.6M300.7 172.4h1.6M302.3 164.7h1.6M299.1 171.2h1.6M302.3 173.5h1.6M303.9 183.4h1.6M303.9 170.2h1.6M299.1 177.9h1.6M300.7 176.8h1.6M307.1 175.7h1.6M297.5 179.0h1.6M302.3 174.6h1.6M305.5 163.6h1.6M300.7 169.1h1.6M299.1 184.5h1.6M305.5 176.8h1.6M305.5 169.1h1.6M305.5 168.0h1.6M303.9 181.2h1.6M307.1 176.8h1.6M305.5 171.2h1.6M299.1 181.2h1.6M295.9 181.2h1.6M300.7 170.2h1.6M299.1 164.7h1.6M305.5 173.5h1.6M302.3 170.2h1.6M302.3 171.2h1.6M305.5 177.9h1.6M294.3 191.1h1.6M295.9 179.0h1.6M319.9 170.2h1.6M319.9 176.8h1.6M329.5 181.2h1.6M324.7 177.9h1.6M329.5 177.9h1.6M331.1 182.2h1.6M334.3 175.7h1.6M326.3 170.2h1.6M332.7 183.4h1.6M318.3 179.0h1.6M319.9 179.0h1.6M329.5 173.5h1.6M326.3 186.7h1.6M331.1 177.9h1.6M327.9 184.5h1.6M326.3 184.5h1.6M321.5 176.8h1.6M329.5 183.4h1.6M329.5 180.1h1.6M326.3 180.1h1.6M324.7 183.4h1.6M332.7 185.6h1.6M324.7 184.5h1.6M321.5 175.7h1.6M323.1 180.1h1.6M327.9 181.2h1.6M324.7 179.0h1.6M329.5 182.2h1.6M331.1 175.7h1.6M321.5 180.1h1.6M321.5 186.7h1.6M326.3 185.6h1.6M321.5 184.5h1.6M331.1 184.5h1.6M343.9 183.4h1.6M345.5 186.7h1.6M339.1 190.0h1.6M345.5 187.8h1.6M345.5 180.1h1.6M340.7 166.9h1.6M339.1 191.1h1.6M343.9 185.6h1.6M345.5 191.1h1.6M351.9 182.2h1.6M345.5 174.6h1.6M342.3 176.8h1.6M342.3 191.1h1.6M347.1 183.4h1.6M342.3 179.0h1.6M337.5 180.1h1.6M334.3 184.5h1.6M347.1 186.7h1.6M347.1 187.8h1.6M339.1 181.2h1.6M340.7 188.9h1.6M340.7 183.4h1.6M347.1 184.5h1.6M343.9 187.8h1.6M343.9 179.0h1.6M345.5 181.2h1.6M342.3 183.4h1.6M343.9 175.7h1.6M342.3 171.2h1.6M347.1 172.4h1.6M305.5 230.7h1.6M340.7 227.4h1.6M315.1 237.2h1.6M319.9 242.8h1.6M316.7 231.8h1.6M313.5 234.0h1.6M326.3 223.0h1.6M321.5 225.2h1.6M313.5 231.8h1.6M329.5 234.0h1.6M327.9 242.8h1.6M311.9 230.7h1.6M313.5 223.0h1.6M326.3 220.8h1.6M294.3 226.2h1.6M323.1 226.2h1.6M323.1 241.7h1.6M294.3 239.5h1.6M308.7 234.0h1.6M342.3 231.8h1.6M329.5 240.6h1.6M302.3 234.0h1.6M313.5 229.6h1.6M307.1 227.4h1.6M302.3 239.5h1.6M318.3 236.2h1.6M310.3 218.6h1.6M340.7 236.2h1.6M345.5 225.2h1.6M294.3 240.6h1.6M305.5 228.5h1.6M307.1 231.8h1.6M319.9 235.1h1.6M319.9 239.5h1.6M315.1 229.6h1.6M276.7 227.4h1.6M308.7 215.2h1.6M313.5 230.7h1.6M323.1 223.0h1.6M302.3 215.2h1.6M302.3 228.5h1.6M366.3 196.6h1.6M359.9 201.0h1.6M372.7 207.6h1.6M369.5 221.9h1.6M350.3 224.1h1.6M356.7 219.7h1.6M355.1 208.7h1.6M364.7 214.2h1.6M372.7 204.2h1.6M366.3 219.7h1.6M359.9 219.7h1.6M367.9 226.2h1.6M359.9 196.6h1.6M356.7 195.5h1.6M358.3 206.5h1.6M366.3 194.4h1.6M369.5 195.5h1.6M359.9 216.4h1.6M366.3 214.2h1.6M372.7 209.8h1.6M356.7 202.1h1.6M363.1 208.7h1.6M369.5 213.1h1.6M372.7 197.7h1.6M358.3 217.5h1.6M359.9 218.6h1.6M363.1 209.8h1.6M372.7 213.1h1.6M371.1 212.0h1.6M371.1 210.9h1.6M363.1 230.7h1.6M359.9 208.7h1.6M369.5 220.8h1.6M363.1 217.5h1.6M366.3 199.9h1.6M358.3 208.7h1.6M366.3 215.2h1.6M353.5 199.9h1.6M358.3 214.2h1.6M361.5 209.8h1.6M364.7 202.1h1.6M359.9 185.6h1.6M367.9 216.4h1.6M372.7 220.8h1.6M361.5 204.2h1.6M359.9 199.9h1.6M364.7 206.5h1.6M361.5 197.7h1.6M364.7 217.5h1.6M363.1 198.8h1.6M363.1 204.2h1.6M361.5 201.0h1.6M361.5 195.5h1.6M359.9 217.5h1.6M364.7 205.4h1.6M361.5 199.9h1.6M361.5 187.8h1.6M363.1 210.9h1.6M361.5 218.6h1.6M363.1 216.4h1.6M359.9 206.5h1.6M363.1 202.1h1.6M364.7 218.6h1.6M359.9 212.0h1.6M359.9 204.2h1.6M361.5 219.7h1.6M359.9 215.2h1.6M363.1 203.2h1.6M361.5 228.5h1.6M361.5 202.1h1.6M359.9 202.1h1.6M367.9 215.2h1.6M371.1 216.4h1.6M367.9 213.1h1.6M371.1 214.2h1.6M367.9 219.7h1.6M364.7 207.6h1.6M367.9 209.8h1.6M366.3 231.8h1.6M371.1 213.1h1.6M369.5 216.4h1.6M369.5 212.0h1.6M371.1 197.7h1.6M367.9 218.6h1.6M371.1 204.2h1.6M369.5 217.5h1.6M367.9 190.0h1.6M364.7 209.8h1.6M371.1 203.2h1.6M371.1 201.0h1.6M367.9 227.4h1.6M366.3 203.2h1.6M366.3 195.5h1.6M366.3 218.6h1.6M358.3 210.9h1.6M355.1 209.8h1.6M355.1 203.2h1.6M355.1 201.0h1.6M355.1 197.7h1.6M355.1 186.7h1.6M355.1 212.0h1.6M356.7 209.8h1.6M355.1 213.1h1.6M358.3 202.1h1.6M356.7 208.7h1.6M356.7 207.6h1.6M353.5 205.4h1.6M355.1 215.2h1.6M356.7 215.2h1.6M358.3 215.2h1.6M356.7 221.9h1.6M356.7 205.4h1.6M355.1 207.6h1.6M355.1 210.9h1.6M262.3 204.2h1.6M262.3 205.4h1.6M262.3 199.9h1.6M263.9 218.6h1.6M263.9 214.2h1.6M263.9 201.0h1.6M263.9 212.0h1.6M263.9 213.1h1.6M262.3 214.2h1.6M263.9 208.7h1.6M260.7 208.7h1.6M369.5 202.1h1.6M367.9 199.9h1.6M367.9 193.2h1.6M316.7 216.4h1.6M364.7 198.8h1.6M315.1 225.2h1.6M279.9 229.6h1.6M292.7 230.7h1.6M297.5 225.2h1.6M326.3 228.5h1.6M316.7 230.7h1.6M279.9 219.7h1.6M331.1 221.9h1.6M340.7 181.2h1.6M326.3 232.9h1.6M315.1 184.5h1.6M334.3 190.0h1.6M347.1 188.9h1.6M339.1 218.6h1.6M291.1 221.9h1.6"/>
<path stroke="#8000ff" stroke-width="1.10" d="M358.3 204.2h1.6"/>
<path stroke="#8000ff" stroke-width="1.10" d="M303.9 212.0h1.6M297.5 185.6h1.6M294.3 202.1h1.6M343.9 216.4h1.6M300.7 181.2h1.6"/>
<path stroke="#0000ff" stroke-width="1.10" d="M307.1 209.8h1.6M302.3 181.2h1.6M308.7 190.0h1.6M294.3 199.9h1.6M295.9 193.2h1.6M294.3 196.6h1.6M294.3 188.9h1.6M297.5 209.8h1.6M308.7 219.7h1.6M299.1 213.1h1.6M307.1 186.7h1.6M305.5 213.1h1.6M305.5 182.2h1.6M297.5 208.7h1.6M300.7 213.1h1.6M302.3 218.6h1.6M295.9 194.4h1.6M294.3 201.0h1.6M295.9 204.2h1.6M303.9 215.2h1.6M299.1 208.7h1.6M300.7 217.5h1.6M284.7 197.7h1.6M283.1 202.1h1.6M283.1 190.0h1.6M289.5 213.1h1.6M286.3 187.8h1.6M292.7 206.5h1.6M283.1 198.8h1.6M284.7 207.6h1.6M289.5 190.0h1.6M284.7 208.7h1.6M287.9 208.7h1.6M286.3 212.0h1.6M286.3 191.1h1.6M291.1 207.6h1.6M284.7 185.6h1.6M284.7 195.5h1.6M291.1 206.5h1.6M289.5 215.2h1.6M289.5 198.8h1.6M286.3 188.9h1.6M284.7 206.5h1.6M286.3 210.9h1.6M289.5 194.4h1.6M326.3 213.1h1.6M323.1 191.1h1.6M327.9 190.0h1.6M323.1 214.2h1.6M321.5 193.2h1.6M326.3 212.0h1.6M324.7 214.2h1.6M329.5 192.2h1.6M323.1 193.2h1.6M326.3 216.4h1.6M323.1 187.8h1.6M332.7 191.1h1.6M329.5 191.1h1.6M329.5 193.2h1.6M313.5 187.8h1.6M318.3 208.7h1.6M311.9 219.7h1.6M308.7 216.4h1.6M315.1 209.8h1.6M310.3 191.1h1.6M311.9 217.5h1.6M307.1 219.7h1.6M313.5 214.2h1.6M316.7 187.8h1.6M311.9 187.8h1.6M316.7 196.6h1.6M318.3 195.5h1.6M339.1 195.5h1.6M342.3 216.4h1.6M343.9 190.0h1.6M342.3 190.0h1.6M340.7 213.1h1.6M350.3 206.5h1.6M343.9 214.2h1.6M337.5 213.1h1.6M348.7 205.4h1.6M339.1 214.2h1.6M343.9 217.5h1.6M348.7 192.2h1.6M348.7 202.1h1.6M345.5 214.2h1.6M350.3 201.0h1.6M332.7 193.2h1.6M327.9 216.4h1.6M331.1 213.1h1.6M334.3 188.9h1.6M332.7 213.1h1.6M335.9 194.4h1.6M335.9 217.5h1.6M334.3 193.2h1.6M335.9 215.2h1.6M327.9 218.6h1.6M332.7 194.4h1.6M337.5 194.4h1.6M321.5 212.0h1.6M308.7 188.9h1.6M339.1 188.9h1.6M297.5 214.2h1.6M318.3 194.4h1.6M318.3 190.0h1.6M318.3 210.9h1.6M316.7 192.2h1.6M316.7 214.2h1.6M329.5 188.9h1.6M324.7 216.4h1.6M295.9 210.9h1.6M337.5 191.1h1.6M305.5 216.4h1.6M318.3 212.0h1.6M310.3 188.9h1.6M318.3 196.6h1.6M318.3 216.4h1.6M265.5 205.4h1.6M292.7 193.2h1.6M337.5 190.0h1.6M318.3 213.1h1.6M319.9 192.2h1.6M295.9 207.6h1.6M305.5 170.2h1.6M303.9 175.7h1.6M300.7 183.4h1.6M303.9 174.6h1.6M307.1 179.0h1.6M300.7 175.7h1.6M302.3 163.6h1.6M299.1 180.1h1.6M305.5 174.6h1.6M302.3 177.9h1.6M305.5 180.1h1.6M299.1 183.4h1.6M305.5 181.2h1.6M326.3 176.8h1.6M329.5 185.6h1.6M327.9 179.0h1.6M331.1 187.8h1.6M329.5 190.0h1.6M343.9 188.9h1.6M342.3 184.5h1.6M343.9 186.7h1.6M345.5 183.4h1.6M311.9 226.2h1.6M350.3 219.7h1.6M371.1 209.8h1.6M359.9 207.6h1.6M366.3 202.1h1.6M361.5 214.2h1.6M358.3 205.4h1.6M363.1 194.4h1.6M364.7 208.7h1.6M371.1 217.5h1.6M369.5 208.7h1.6M361.5 203.2h1.6M367.9 208.7h1.6M369.5 201.0h1.6M363.1 206.5h1.6M366.3 205.4h1.6M367.9 204.2h1.6M361.5 215.2h1.6M358.3 221.9h1.6M367.9 198.8h1.6M361.5 213.1h1.6M361.5 212.0h1.6M371.1 206.5h1.6M359.9 214.2h1.6M367.9 206.5h1.6M363.1 219.7h1.6M363.1 201.0h1.6M353.5 206.5h1.6M366.3 201.0h1.6M364.7 212.0h1.6M366.3 209.8h1.6M369.5 210.9h1.6M356.7 212.0h1.6M367.9 196.6h1.6M364.7 210.9h1.6M363.1 205.4h1.6M359.9 203.2h1.6M361.5 217.5h1.6M361.5 208.7h1.6M361.5 206.5h1.6M363.1 199.9h1.6M363.1 221.9h1.6M358.3 213.1h1.6M364.7 203.2h1.6M369.5 205.4h1.6M369.5 206.5h1.6M367.9 207.6h1.6M369.5 214.2h1.6M367.9 192.2h1.6M367.9 212.0h1.6M369.5 199.9h1.6M369.5 218.6h1.6M369.5 204.2h1.6M353.5 213.1h1.6M356.7 213.1h1.6M353.5 202.1h1.6M353.5 214.2h1.6M355.1 195.5h1.6M263.9 209.8h1.6M369.5 197.7h1.6"/>
<path stroke="#0000ff" stroke-width="1.10" d="M305.5 186.7h1.6M302.3 183.4h1.6M302.3 212.0h1.6M291.1 198.8h1.6M294.3 210.9h1.6M302.3 213.1h1.6M297.5 188.9h1.6M302.3 210.9h1.6M297.5 183.4h1.6M287.9 210.9h1.6M289.5 201.0h1.6M289.5 203.2h1.6M289.5 196.6h1.6M289.5 204.2h1.6M287.9 192.2h1.6M289.5 210.9h1.6M323.1 212.0h1.6M327.9 214.2h1.6M324.7 191.1h1.6M329.5 212.0h1.6M324.7 188.9h1.6M319.9 207.6h1.6M311.9 190.0h1.6M316.7 193.2h1.6M340.7 195.5h1.6M347.1 194.4h1.6M348.7 206.5h1.6M337.5 196.6h1.6M334.3 194.4h1.6M340.7 214.2h1.6M335.9 216.4h1.6M334.3 214.2h1.6M337.5 195.5h1.6M318.3 193.2h1.6M323.1 188.9h1.6M300.7 210.9h1.6M300.7 180.1h1.6M366.3 210.9h1.6M367.9 205.4h1.6M363.1 218.6h1.6M363.1 215.2h1.6"/>
<path stroke="#0080ff" stroke-width="1.10" d="M302.3 185.6h1.6M303.9 208.7h1.6M297.5 207.6h1.6M294.3 197.7h1.6M299.1 188.9h1.6M303.9 182.2h1.6M303.9 213.1h1.6M292.7 197.7h1.6M295.9 199.9h1.6M299.1 212.0h1.6M302.3 182.2h1.6M305.5 212.0h1.6M303.9 210.9h1.6M295.9 198.8h1.6M287.9 212.0h1.6M286.3 202.1h1.6M284.7 199.9h1.6M287.9 191.1h1.6M289.5 192.2h1.6M289.5 206.5h1.6M287.9 188.9h1.6M289.5 205.4h1.6M289.5 207.6h1.6M326.3 191.1h1.6M331.1 212.0h1.6M332.7 202.1h1.6M319.9 210.9h1.6M316.7 208.7h1.6M345.5 216.4h1.6M339.1 198.8h1.6M343.9 213.1h1.6M345.5 215.2h1.6M348.7 209.8h1.6M342.3 193.2h1.6M343.9 191.1h1.6M339.1 199.9h1.6M342.3 188.9h1.6M345.5 192.2h1.6M332.7 214.2h1.6M332.7 215.2h1.6M334.3 212.0h1.6M334.3 197.7h1.6M335.9 193.2h1.6M331.1 192.2h1.6M318.3 191.1h1.6M315.1 215.2h1.6M323.1 215.2h1.6M300.7 179.0h1.6M366.3 207.6h1.6M361.5 205.4h1.6M367.9 202.1h1.6M369.5 207.6h1.6M361.5 207.6h1.6M367.9 195.5h1.6M355.1 202.1h1.6"/>
<path stroke="#00ffff" stroke-width="1.10" d="M299.1 207.6h1.6M300.7 207.6h1.6M307.1 188.9h1.6M302.3 187.8h1.6M299.1 206.5h1.6M295.9 196.6h1.6M305.5 187.8h1.6M305.5 185.6h1.6M305.5 209.8h1.6M300.7 208.7h1.6M305.5 210.9h1.6M308.7 191.1h1.6M299.1 210.9h1.6M294.3 204.2h1.6M295.9 191.1h1.6M303.9 214.2h1.6M297.5 186.7h1.6M299.1 185.6h1.6M295.9 205.4h1.6M299.1 179.0h1.6M299.1 209.8h1.6M289.5 199.9h1.6M303.9 184.5h1.6M313.5 192.2h1.6M308.7 214.2h1.6M287.9 204.2h1.6M287.9 196.6h1.6M287.9 187.8h1.6M289.5 202.1h1.6M286.3 207.6h1.6M287.9 205.4h1.6M284.7 204.2h1.6M286.3 206.5h1.6M284.7 192.2h1.6M287.9 209.8h1.6M319.9 201.0h1.6M323.1 213.1h1.6M323.1 192.2h1.6M331.1 196.6h1.6M318.3 201.0h1.6M318.3 205.4h1.6M327.9 210.9h1.6M327.9 192.2h1.6M319.9 212.0h1.6M318.3 202.1h1.6M329.5 214.2h1.6M319.9 194.4h1.6M321.5 209.8h1.6M315.1 214.2h1.6M311.9 214.2h1.6M315.1 191.1h1.6M316.7 210.9h1.6M348.7 204.2h1.6M340.7 194.4h1.6M342.3 213.1h1.6M348.7 198.8h1.6M347.1 215.2h1.6M340.7 215.2h1.6M339.1 216.4h1.6M337.5 215.2h1.6M343.9 192.2h1.6M335.9 214.2h1.6M337.5 214.2h1.6M335.9 213.1h1.6M319.9 193.2h1.6M319.9 196.6h1.6M300.7 182.2h1.6M302.3 175.7h1.6M300.7 186.7h1.6M326.3 183.4h1.6M366.3 212.0h1.6M367.9 201.0h1.6M369.5 209.8h1.6M367.9 210.9h1.6M363.1 207.6h1.6M367.9 197.7h1.6"/>
<path stroke="#00ff00" stroke-width="1.10" d="M297.5 195.5h1.6M295.9 192.2h1.6M299.1 191.1h1.6M297.5 194.4h1.6M303.9 185.6h1.6M305.5 183.4h1.6M299.1 186.7h1.6M294.3 203.2h1.6M295.9 201.0h1.6M300.7 212.0h1.6M295.9 190.0h1.6M310.3 214.2h1.6M302.3 180.1h1.6M308.7 209.8h1.6M308.7 187.8h1.6M284.7 193.2h1.6M284.7 203.2h1.6M286.3 190.0h1.6M287.9 193.2h1.6M286.3 208.7h1.6M286.3 192.2h1.6M287.9 203.2h1.6M286.3 205.4h1.6M286.3 195.5h1.6M284.7 202.1h1.6M331.1 195.5h1.6M324.7 210.9h1.6M323.1 210.9h1.6M326.3 192.2h1.6M321.5 210.9h1.6M318.3 203.2h1.6M318.3 207.6h1.6M319.9 198.8h1.6M321.5 214.2h1.6M310.3 210.9h1.6M316.7 197.7h1.6M315.1 210.9h1.6M316.7 206.5h1.6M310.3 212.0h1.6M315.1 194.4h1.6M313.5 190.0h1.6M311.9 192.2h1.6M315.1 212.0h1.6M316.7 198.8h1.6M315.1 193.2h1.6M316.7 209.8h1.6M315.1 187.8h1.6M316.7 212.0h1.6M319.9 195.5h1.6M337.5 212.0h1.6M343.9 193.2h1.6M339.1 194.4h1.6M340.7 193.2h1.6M347.1 197.7h1.6M339.1 213.1h1.6M339.1 197.7h1.6M339.1 215.2h1.6M343.9 215.2h1.6M348.7 199.9h1.6M335.9 199.9h1.6M337.5 192.2h1.6M339.1 212.0h1.6M332.7 210.9h1.6M332.7 196.6h1.6M332.7 212.0h1.6M331.1 210.9h1.6M332.7 192.2h1.6M319.9 208.7h1.6M292.7 205.4h1.6M302.3 179.0h1.6M361.5 210.9h1.6M263.9 210.9h1.6"/>
<path stroke="#008040" stroke-width="1.10" d="M299.1 187.8h1.6M300.7 188.9h1.6M305.5 190.0h1.6M299.1 193.2h1.6M297.5 190.0h1.6M295.9 197.7h1.6M302.3 205.4h1.6M302.3 184.5h1.6M300.7 206.5h1.6M297.5 197.7h1.6M297.5 199.9h1.6M297.5 191.1h1.6M297.5 193.2h1.6M307.1 185.6h1.6M307.1 187.8h1.6M302.3 208.7h1.6M305.5 208.7h1.6M307.1 190.0h1.6M307.1 207.6h1.6M292.7 204.2h1.6M311.9 191.1h1.6M295.9 195.5h1.6M295.9 208.7h1.6M310.3 193.2h1.6M286.3 203.2h1.6M286.3 209.8h1.6M284.7 198.8h1.6M287.9 194.4h1.6M284.7 201.0h1.6M287.9 207.6h1.6M292.7 196.6h1.6M289.5 193.2h1.6M284.7 205.4h1.6M287.9 206.5h1.6M287.9 201.0h1.6M321.5 207.6h1.6M324.7 213.1h1.6M324.7 192.2h1.6M324.7 212.0h1.6M329.5 210.9h1.6M321.5 199.9h1.6M318.3 209.8h1.6M329.5 213.1h1.6M321.5 194.4h1.6M319.9 197.7h1.6M321.5 192.2h1.6M321.5 195.5h1.6M313.5 193.2h1.6M316.7 205.4h1.6M313.5 210.9h1.6M311.9 194.4h1.6M310.3 213.1h1.6M316.7 215.2h1.6M316.7 194.4h1.6M313.5 209.8h1.6M316.7 207.6h1.6M313.5 213.1h1.6M316.7 203.2h1.6M311.9 215.2h1.6M318.3 204.2h1.6M342.3 209.8h1.6M345.5 195.5h1.6M345.5 212.0h1.6M342.3 194.4h1.6M340.7 196.6h1.6M347.1 213.1h1.6M345.5 194.4h1.6M339.1 209.8h1.6M339.1 210.9h1.6M347.1 208.7h1.6M337.5 207.6h1.6M343.9 195.5h1.6M345.5 196.6h1.6M342.3 214.2h1.6M339.1 202.1h1.6M347.1 206.5h1.6M337.5 197.7h1.6M345.5 213.1h1.6M337.5 208.7h1.6M334.3 210.9h1.6M335.9 197.7h1.6M332.7 199.9h1.6M335.9 195.5h1.6M334.3 196.6h1.6M335.9 212.0h1.6M319.9 213.1h1.6M366.3 213.1h1.6M367.9 214.2h1.6M366.3 208.7h1.6M361.5 216.4h1.6"/>
<path stroke="#408080" stroke-width="1.10" d="M302.3 188.9h1.6M299.1 202.1h1.6M303.9 186.7h1.6M297.5 204.2h1.6M299.1 204.2h1.6M303.9 187.8h1.6M299.1 203.2h1.6M297.5 196.6h1.6M303.9 188.9h1.6M303.9 206.5h1.6M305.5 205.4h1.6M300.7 205.4h1.6M308.7 193.2h1.6M300.7 185.6h1.6M308.7 194.4h1.6M299.1 190.0h1.6M308.7 204.2h1.6M307.1 204.2h1.6M308.7 192.2h1.6M307.1 214.2h1.6M300.7 184.5h1.6M297.5 206.5h1.6M295.9 202.1h1.6M308.7 208.7h1.6M286.3 196.6h1.6M287.9 197.7h1.6M286.3 204.2h1.6M284.7 196.6h1.6M289.5 197.7h1.6M321.5 204.2h1.6M329.5 209.8h1.6M321.5 203.2h1.6M331.1 197.7h1.6M326.3 210.9h1.6M323.1 195.5h1.6M321.5 196.6h1.6M327.9 212.0h1.6M331.1 208.7h1.6M327.9 191.1h1.6M323.1 208.7h1.6M326.3 193.2h1.6M331.1 194.4h1.6M321.5 202.1h1.6M326.3 214.2h1.6M327.9 213.1h1.6M324.7 187.8h1.6M319.9 205.4h1.6M311.9 209.8h1.6M315.1 208.7h1.6M311.9 212.0h1.6M308.7 212.0h1.6M311.9 213.1h1.6M315.1 203.2h1.6M307.1 210.9h1.6M316.7 202.1h1.6M308.7 213.1h1.6M343.9 198.8h1.6M347.1 210.9h1.6M348.7 207.6h1.6M342.3 203.2h1.6M342.3 210.9h1.6M343.9 194.4h1.6M337.5 199.9h1.6M343.9 212.0h1.6M340.7 201.0h1.6M340.7 210.9h1.6M342.3 212.0h1.6M347.1 196.6h1.6M340.7 209.8h1.6M347.1 202.1h1.6M339.1 208.7h1.6M340.7 198.8h1.6M337.5 206.5h1.6M335.9 202.1h1.6M337.5 201.0h1.6M334.3 209.8h1.6M334.3 203.2h1.6M335.9 205.4h1.6M334.3 198.8h1.6M332.7 206.5h1.6M318.3 206.5h1.6M318.3 199.9h1.6M366.3 206.5h1.6M367.9 203.2h1.6"/>
<path stroke="#ffff00" stroke-width="1.10" d="M303.9 190.0h1.6M297.5 192.2h1.6M302.3 191.1h1.6M303.9 205.4h1.6M297.5 202.1h1.6M307.1 206.5h1.6M305.5 188.9h1.6M305.5 207.6h1.6M300.7 187.8h1.6M299.1 205.4h1.6M307.1 191.1h1.6M302.3 186.7h1.6M308.7 203.2h1.6M307.1 199.9h1.6M303.9 207.6h1.6M307.1 212.0h1.6M310.3 192.2h1.6M297.5 205.4h1.6M315.1 206.5h1.6M287.9 195.5h1.6M310.3 194.4h1.6M308.7 206.5h1.6M286.3 198.8h1.6M286.3 197.7h1.6M287.9 198.8h1.6M287.9 202.1h1.6M331.1 203.2h1.6M326.3 208.7h1.6M323.1 207.6h1.6M327.9 209.8h1.6M332.7 195.5h1.6M321.5 198.8h1.6M327.9 193.2h1.6M324.7 190.0h1.6M323.1 209.8h1.6M331.1 204.2h1.6M313.5 204.2h1.6M315.1 198.8h1.6M315.1 204.2h1.6M315.1 197.7h1.6M310.3 208.7h1.6M311.9 207.6h1.6M313.5 212.0h1.6M316.7 201.0h1.6M316.7 195.5h1.6M315.1 192.2h1.6M340.7 197.7h1.6M339.1 203.2h1.6M347.1 199.9h1.6M342.3 197.7h1.6M342.3 195.5h1.6M347.1 207.6h1.6M345.5 210.9h1.6M347.1 203.2h1.6M345.5 198.8h1.6M335.9 203.2h1.6M340.7 212.0h1.6M347.1 209.8h1.6M339.1 205.4h1.6M343.9 196.6h1.6M337.5 198.8h1.6M337.5 210.9h1.6M337.5 203.2h1.6M334.3 207.6h1.6M335.9 196.6h1.6M334.3 208.7h1.6M332.7 204.2h1.6M335.9 208.7h1.6M332.7 198.8h1.6M335.9 209.8h1.6M334.3 206.5h1.6M334.3 195.5h1.6M319.9 209.8h1.6M369.5 203.2h1.6"/>
<path stroke="#ffc080" stroke-width="1.10" d="M299.1 192.2h1.6M305.5 201.0h1.6M302.3 190.0h1.6M297.5 198.8h1.6M299.1 195.5h1.6M302.3 206.5h1.6M308.7 198.8h1.6M300.7 190.0h1.6M305.5 206.5h1.6M308.7 195.5h1.6M307.1 192.2h1.6M297.5 201.0h1.6M302.3 207.6h1.6M308.7 199.9h1.6M303.9 209.8h1.6M308.7 207.6h1.6M308.7 210.9h1.6M310.3 207.6h1.6M310.3 198.8h1.6M286.3 199.9h1.6M287.9 199.9h1.6M326.3 195.5h1.6M329.5 206.5h1.6M319.9 204.2h1.6M331.1 209.8h1.6M331.1 201.0h1.6M321.5 206.5h1.6M321.5 201.0h1.6M324.7 193.2h1.6M321.5 205.4h1.6M332.7 197.7h1.6M319.9 199.9h1.6M331.1 206.5h1.6M319.9 202.1h1.6M332.7 203.2h1.6M319.9 206.5h1.6M311.9 210.9h1.6M311.9 193.2h1.6M315.1 202.1h1.6M315.1 207.6h1.6M316.7 204.2h1.6M313.5 194.4h1.6M313.5 208.7h1.6M313.5 197.7h1.6M316.7 199.9h1.6M318.3 197.7h1.6M342.3 198.8h1.6M340.7 202.1h1.6M345.5 209.8h1.6M345.5 197.7h1.6M343.9 208.7h1.6M345.5 208.7h1.6M342.3 206.5h1.6M345.5 199.9h1.6M340.7 204.2h1.6M339.1 204.2h1.6M347.1 198.8h1.6M339.1 201.0h1.6M337.5 209.8h1.6M337.5 205.4h1.6M337.5 204.2h1.6M335.9 204.2h1.6M335.9 210.9h1.6M335.9 206.5h1.6M334.3 199.9h1.6M332.7 208.7h1.6M335.9 201.0h1.6M334.3 204.2h1.6M363.1 213.1h1.6M363.1 212.0h1.6"/>
<path stroke="#ff8000" stroke-width="1.10" d="M307.1 198.8h1.6M303.9 192.2h1.6M305.5 204.2h1.6M305.5 202.1h1.6M307.1 196.6h1.6M303.9 204.2h1.6M299.1 194.4h1.6M305.5 191.1h1.6M307.1 193.2h1.6M307.1 202.1h1.6M308.7 202.1h1.6M307.1 205.4h1.6M308.7 197.7h1.6M310.3 202.1h1.6M308.7 196.6h1.6M307.1 208.7h1.6M310.3 199.9h1.6M313.5 195.5h1.6M310.3 195.5h1.6M310.3 201.0h1.6M311.9 195.5h1.6M286.3 194.4h1.6M329.5 208.7h1.6M321.5 197.7h1.6M327.9 208.7h1.6M329.5 194.4h1.6M323.1 204.2h1.6M324.7 209.8h1.6M323.1 206.5h1.6M329.5 202.1h1.6M329.5 204.2h1.6M323.1 205.4h1.6M331.1 205.4h1.6M326.3 209.8h1.6M324.7 207.6h1.6M331.1 199.9h1.6M329.5 205.4h1.6M323.1 194.4h1.6M332.7 201.0h1.6M331.1 198.8h1.6M319.9 203.2h1.6M331.1 202.1h1.6M323.1 198.8h1.6M332.7 205.4h1.6M331.1 207.6h1.6M318.3 198.8h1.6M311.9 197.7h1.6M313.5 196.6h1.6M310.3 196.6h1.6M315.1 205.4h1.6M310.3 209.8h1.6M311.9 196.6h1.6M313.5 207.6h1.6M315.1 195.5h1.6M313.5 202.1h1.6M315.1 199.9h1.6M315.1 196.6h1.6M347.1 201.0h1.6M347.1 205.4h1.6M340.7 205.4h1.6M343.9 209.8h1.6M343.9 197.7h1.6M340.7 206.5h1.6M345.5 203.2h1.6M345.5 207.6h1.6M343.9 203.2h1.6M339.1 207.6h1.6M342.3 196.6h1.6M345.5 204.2h1.6M340.7 208.7h1.6M339.1 206.5h1.6M337.5 202.1h1.6M335.9 207.6h1.6M332.7 209.8h1.6M334.3 202.1h1.6M334.3 213.1h1.6"/>
<path stroke="#ff0080" stroke-width="1.10" d="M305.5 194.4h1.6M303.9 191.1h1.6M302.3 203.2h1.6M307.1 194.4h1.6M307.1 195.5h1.6M308.7 205.4h1.6M307.1 203.2h1.6M300.7 204.2h1.6M297.5 203.2h1.6M310.3 204.2h1.6M315.1 201.0h1.6M310.3 203.2h1.6M286.3 201.0h1.6M329.5 197.7h1.6M323.1 202.1h1.6M329.5 196.6h1.6M326.3 207.6h1.6M326.3 196.6h1.6M324.7 195.5h1.6M327.9 197.7h1.6M324.7 196.6h1.6M310.3 205.4h1.6M313.5 203.2h1.6M311.9 208.7h1.6M311.9 199.9h1.6M310.3 206.5h1.6M342.3 204.2h1.6M343.9 207.6h1.6M342.3 199.9h1.6M343.9 205.4h1.6M340.7 207.6h1.6M342.3 208.7h1.6M347.1 204.2h1.6M345.5 202.1h1.6M345.5 201.0h1.6M340.7 199.9h1.6M340.7 203.2h1.6M335.9 198.8h1.6M334.3 205.4h1.6"/>
<path stroke="#ff0000" stroke-width="1.10" d="M300.7 196.6h1.6M300.7 202.1h1.6M299.1 196.6h1.6M300.7 193.2h1.6M300.7 192.2h1.6M305.5 196.6h1.6M299.1 201.0h1.6M300.7 198.8h1.6M307.1 201.0h1.6M299.1 198.8h1.6M302.3 204.2h1.6M299.1 199.9h1.6M305.5 193.2h1.6M308.7 201.0h1.6M307.1 197.7h1.6M310.3 197.7h1.6M329.5 203.2h1.6M323.1 196.6h1.6M324.7 194.4h1.6M327.9 205.4h1.6M324.7 208.7h1.6M323.1 201.0h1.6M327.9 195.5h1.6M323.1 203.2h1.6M326.3 194.4h1.6M323.1 199.9h1.6M329.5 195.5h1.6M326.3 206.5h1.6M329.5 199.9h1.6M327.9 207.6h1.6M324.7 204.2h1.6M332.7 207.6h1.6M311.9 202.1h1.6M311.9 204.2h1.6M313.5 201.0h1.6M313.5 205.4h1.6M313.5 206.5h1.6M311.9 198.8h1.6M311.9 203.2h1.6M311.9 206.5h1.6M313.5 198.8h1.6M342.3 201.0h1.6M343.9 201.0h1.6M342.3 202.1h1.6M343.9 210.9h1.6M345.5 206.5h1.6M334.3 201.0h1.6"/>
<path stroke="#c00000" stroke-width="1.10" d="M302.3 202.1h1.6M302.3 198.8h1.6M303.9 203.2h1.6M300.7 191.1h1.6M303.9 193.2h1.6M305.5 192.2h1.6M300.7 194.4h1.6M303.9 202.1h1.6M305.5 203.2h1.6M329.5 201.0h1.6M329.5 207.6h1.6M327.9 199.9h1.6M324.7 202.1h1.6M324.7 197.7h1.6M329.5 198.8h1.6M327.9 196.6h1.6M324.7 206.5h1.6M324.7 198.8h1.6M324.7 205.4h1.6M323.1 197.7h1.6M311.9 205.4h1.6M313.5 199.9h1.6M342.3 207.6h1.6M343.9 204.2h1.6M343.9 202.1h1.6M343.9 206.5h1.6"/>
<path stroke="#800000" stroke-width="1.10" d="M303.9 196.6h1.6M300.7 203.2h1.6M305.5 198.8h1.6M302.3 192.2h1.6M305.5 195.5h1.6M300.7 197.7h1.6M302.3 201.0h1.6M302.3 193.2h1.6M302.3 199.9h1.6M311.9 201.0h1.6M326.3 201.0h1.6M327.9 201.0h1.6M326.3 199.9h1.6M326.3 203.2h1.6M327.9 206.5h1.6M327.9 194.4h1.6M343.9 199.9h1.6M345.5 205.4h1.6"/>
<path stroke="#000000" stroke-width="1.10" d="M303.9 194.4h1.6M303.9 199.9h1.6M305.5 197.7h1.6M299.1 197.7h1.6M303.9 198.8h1.6M300.7 199.9h1.6M300.7 201.0h1.6M324.7 199.9h1.6M327.9 204.2h1.6M327.9 203.2h1.6M326.3 205.4h1.6M326.3 198.8h1.6M326.3 204.2h1.6M326.3 202.1h1.6M327.9 202.1h1.6M326.3 197.7h1.6M342.3 205.4h1.6"/>
<path stroke="#808080" stroke-width="1.10" d="M302.3 197.7h1.6M305.5 199.9h1.6M327.9 198.8h1.6M324.7 203.2h1.6"/>
<path stroke="#c0c0c0" stroke-width="1.10" d="M302.3 194.4h1.6M303.9 201.0h1.6M303.9 195.5h1.6M302.3 195.5h1.6M300.7 195.5h1.6M302.3 196.6h1.6M303.9 197.7h1.6M324.7 201.0h1.6"/>
</g>
<rect x="73.50" y="157.50" width="484.00" height="87.80" fill="none" stroke="#000" stroke-width="1.1"/>
<text x="73.30" y="258.30" text-anchor="middle" stroke="#000" stroke-width="0.22">−400</text>
<path d="M134.50 245.30L134.50 240.30" stroke="#000" stroke-width="1.1" fill="none"/>
<text x="134.30" y="258.30" text-anchor="middle" stroke="#000" stroke-width="0.22">−300</text>
<path d="M194.50 245.30L194.50 240.30" stroke="#000" stroke-width="1.1" fill="none"/>
<text x="194.30" y="258.30" text-anchor="middle" stroke="#000" stroke-width="0.22">−200</text>
<path d="M255.50 245.30L255.50 240.30" stroke="#000" stroke-width="1.1" fill="none"/>
<text x="255.30" y="258.30" text-anchor="middle" stroke="#000" stroke-width="0.22">−100</text>
<path d="M315.50 245.30L315.50 240.30" stroke="#000" stroke-width="1.1" fill="none"/>
<text x="315.30" y="258.30" text-anchor="middle" stroke="#000" stroke-width="0.22">0</text>
<path d="M376.50 245.30L376.50 240.30" stroke="#000" stroke-width="1.1" fill="none"/>
<text x="376.30" y="258.30" text-anchor="middle" stroke="#000" stroke-width="0.22">100</text>
<path d="M436.50 245.30L436.50 240.30" stroke="#000" stroke-width="1.1" fill="none"/>
<text x="436.30" y="258.30" text-anchor="middle" stroke="#000" stroke-width="0.22">200</text>
<path d="M497.50 245.30L497.50 240.30" stroke="#000" stroke-width="1.1" fill="none"/>
<text x="497.30" y="258.30" text-anchor="middle" stroke="#000" stroke-width="0.22">300</text>
<text x="557.30" y="258.30" text-anchor="middle" stroke="#000" stroke-width="0.22">400</text>
<text x="68.80" y="249.10" text-anchor="end" stroke="#000" stroke-width="0.22">0</text>
<path d="M73.50 201.40L78.50 201.40" stroke="#000" stroke-width="1.1" fill="none"/>
<text x="68.80" y="205.20" text-anchor="end" stroke="#000" stroke-width="0.22">10</text>
<text x="68.80" y="161.30" text-anchor="end" stroke="#000" stroke-width="0.22">20</text>
<text x="46.20" y="202.00" text-anchor="middle" stroke="#000" stroke-width="0.22" font-size="11.0" letter-spacing="0" transform="rotate(-90 46.20 202.00)">Altitude, km</text>
<text x="315.60" y="263.80" text-anchor="middle" stroke="#000" stroke-width="0.22" font-size="11.0" letter-spacing="0">East-West, km</text>
<path d="M595.5 220.1L596.2 217.8L597.8 216.0L600.7 214.0L606.4 212.2L615.5 210.6L625.8 209.2L626.9 208.7L638.3 207.6L649.7 206.5L661.1 204.9L670.2 204.6L677.0 204.2L680.4 203.0L679.3 201.9L675.2 201.0L677.0 200.1L683.4 199.2L681.5 198.5L670.2 197.4L661.1 196.2L649.7 195.1L638.3 194.4L626.9 193.3L615.5 192.3L606.4 191.4L604.1 190.5L603.0 189.4L599.6 188.7L598.5 187.1L596.9 184.8L595.5 183.7" stroke="#000" stroke-width="1.5" fill="none" stroke-linejoin="round"/>
<rect x="595.50" y="157.50" width="93.00" height="87.80" fill="none" stroke="#000" stroke-width="1.1"/>
<path d="M595.50 242.20L600.50 242.20" stroke="#000" stroke-width="1.1" fill="none"/>
<text x="589.40" y="246.00" text-anchor="end" stroke="#000" stroke-width="0.22">0</text>
<path d="M595.50 201.80L600.50 201.80" stroke="#000" stroke-width="1.1" fill="none"/>
<text x="589.40" y="205.60" text-anchor="end" stroke="#000" stroke-width="0.22">10</text>
<path d="M595.50 161.40L600.50 161.40" stroke="#000" stroke-width="1.1" fill="none"/>
<text x="589.40" y="165.20" text-anchor="end" stroke="#000" stroke-width="0.22">20</text>
<path d="M652.40 245.30L652.40 240.30" stroke="#000" stroke-width="1.1" fill="none"/>
<text x="595.30" y="258.10" text-anchor="middle" stroke="#000" stroke-width="0.22">0</text>
<text x="652.20" y="258.10" text-anchor="middle" stroke="#000" stroke-width="0.22">500</text>
<text x="645.00" y="166.30" text-anchor="middle" stroke="#000" stroke-width="0.22" font-size="8.3" letter-spacing="0">13,606 sources</text>
<clipPath id="mc"><rect x="73.5" y="273.5" width="484.0" height="436.0"/></clipPath>
<g clip-path="url(#mc)" fill="none" stroke-linejoin="round">
<path d="M73.5 276.0L122.0 276.0" stroke="#c4c4c4" stroke-width="1.1"/>
<path d="M122.2 274.4L120.0 278.9L117.8 280.0L116.7 285.6L112.2 288.9L110.0 287.8L108.9 292.2L106.7 297.8L103.3 301.1L94.4 302.2L91.1 303.3L87.8 305.6L84.4 305.6L83.3 307.3L78.9 308.2" stroke="#c4c4c4" stroke-width="1.1"/>
<path d="M115.8 309.0L115.8 489.4L157.8 489.4L157.8 522.1" stroke="#c4c4c4" stroke-width="1.1"/>
<path d="M157.6 309.0L157.6 389.3L167.3 389.3L167.3 397.8L166.4 399.0L166.4 450.6L165.6 457.2L166.0 481.7L164.4 503.9L164.4 515.4" stroke="#c4c4c4" stroke-width="1.1"/>
<path d="M211.3 368.7L290.2 368.7" stroke="#c4c4c4" stroke-width="1.1"/>
<path d="M215.5 273.5L212.2 278.9" stroke="#c4c4c4" stroke-width="1.1"/>
<path d="M268.7 273.6L266.4 282.2L259.8 286.7L254.2 296.7L253.1 301.1L249.3 308.2" stroke="#c4c4c4" stroke-width="1.1"/>
<path d="M298.7 273.6L298.7 308.2" stroke="#c4c4c4" stroke-width="1.1"/>
<path d="M298.7 283.3L318.2 283.3" stroke="#c4c4c4" stroke-width="1.1"/>
<path d="M318.2 273.6L318.2 285.1L379.8 285.1" stroke="#c4c4c4" stroke-width="1.1"/>
<path d="M341.5 273.6L342.5 285.1" stroke="#c4c4c4" stroke-width="1.1"/>
<path d="M379.8 273.6L379.8 285.1L395.3 287.8L396.5 293.0L394.0 305.6" stroke="#c4c4c4" stroke-width="1.1"/>
<path d="M343.1 285.1L343.6 293.3L347.6 296.7L354.7 308.2" stroke="#c4c4c4" stroke-width="1.1"/>
<path d="M302.0 309.3L299.8 315.6L292.0 318.9L290.9 327.8L290.2 355.6L290.2 368.9" stroke="#c4c4c4" stroke-width="1.1"/>
<path d="M290.2 368.9L308.7 368.9L308.7 411.1L315.3 416.7L324.2 437.2L342.0 437.2L343.1 435.7L355.3 435.7L373.1 436.8L373.1 427.2L397.3 427.2" stroke="#c4c4c4" stroke-width="1.1"/>
<path d="M290.2 355.6L332.4 355.6L332.4 368.9L367.6 368.9L368.0 373.3L378.2 373.3L378.2 368.9L398.4 371.1" stroke="#c4c4c4" stroke-width="1.1"/>
<path d="M359.8 371.8L365.3 370.4L367.6 369.3L368.0 375.6L366.4 377.8L370.9 378.9L371.6 380.7L368.0 383.3L365.3 380.0L358.7 380.0L359.8 371.8" stroke="#c4c4c4" stroke-width="1.1"/>
<path d="M368.0 383.3L368.0 436.6" stroke="#c4c4c4" stroke-width="1.1"/>
<path d="M381.3 309.3L383.1 316.7L382.7 323.3L385.3 341.1L384.2 346.7L378.7 351.1L389.8 355.6L396.0 361.6L407.3 367.3" stroke="#c4c4c4" stroke-width="1.1"/>
<path d="M243.1 431.7L243.1 411.1L284.2 411.1L284.9 408.2L290.2 408.2L290.9 411.1L308.7 411.1" stroke="#c4c4c4" stroke-width="1.1"/>
<path d="M315.3 416.4L368.0 416.4" stroke="#c4c4c4" stroke-width="1.1"/>
<path d="M410.7 273.6L394.0 287.8" stroke="#c4c4c4" stroke-width="1.1"/>
<path d="M427.3 273.6L427.8 281.1L429.1 285.6L429.1 308.9" stroke="#c4c4c4" stroke-width="1.1"/>
<path d="M429.1 291.1L438.4 286.7L447.3 285.1L452.9 283.3L455.1 278.9L462.4 273.6" stroke="#c4c4c4" stroke-width="1.1"/>
<path d="M545.6 273.6L544.7 308.9" stroke="#c4c4c4" stroke-width="1.1"/>
<path d="M424.7 309.6L426.2 314.4L424.7 324.4L418.0 326.7L416.9 334.4L418.9 341.1L419.6 353.3L416.2 354.0L414.0 361.1L408.4 367.8L398.4 371.1L394.0 370.0" stroke="#c4c4c4" stroke-width="1.1"/>
<path d="M416.2 353.8L445.6 353.8L445.6 355.6L492.9 355.6" stroke="#c4c4c4" stroke-width="1.1"/>
<path d="M493.3 309.6L493.3 358.2L505.1 358.9L505.6 363.3L529.1 363.8L528.4 405.6L514.4 404.4" stroke="#c4c4c4" stroke-width="1.1"/>
<path d="M529.1 384.4L548.0 384.4" stroke="#c4c4c4" stroke-width="1.1"/>
<path d="M469.6 356.0L475.1 371.1L472.9 381.8" stroke="#c4c4c4" stroke-width="1.1"/>
<path d="M397.3 370.0L397.3 426.6" stroke="#c4c4c4" stroke-width="1.1"/>
<path d="M397.3 376.7L418.4 376.7L436.2 382.9L472.9 381.8L495.1 381.1L509.6 404.4L514.4 404.4L514.0 413.3L500.7 414.4L486.7 420.6" stroke="#c4c4c4" stroke-width="1.1"/>
<path d="M421.1 426.6L421.1 416.4L486.7 416.4L486.7 453.2" stroke="#c4c4c4" stroke-width="1.1"/>
<path d="M548.4 365.6L557.6 365.6" stroke="#c4c4c4" stroke-width="1.1"/>
<path d="M548.4 391.8L557.6 391.8" stroke="#c4c4c4" stroke-width="1.1"/>
<path d="M548.4 417.8L557.6 417.8" stroke="#c4c4c4" stroke-width="1.1"/>
<path d="M73.6 462.8L78.9 464.3L85.6 462.8L92.2 465.7L98.9 467.9L105.6 470.6L111.1 472.8L115.8 472.3" stroke="#c4c4c4" stroke-width="1.1"/>
<path d="M73.6 480.6L75.6 486.1L77.8 492.8L80.0 500.6L83.3 506.1L88.9 512.8L93.3 509.4L98.9 519.4L105.6 535.0L114.4 551.0L123.3 542.8L133.3 538.3L134.4 536.1L132.2 530.6L134.4 526.1L143.3 523.9L157.8 522.1" stroke="#c4c4c4" stroke-width="1.1"/>
<path d="M73.6 522.1L100.0 522.1" stroke="#c4c4c4" stroke-width="1.1"/>
<path d="M157.8 515.4L164.4 515.4L170.0 521.2L176.7 516.1L185.6 511.0L193.3 506.1L194.4 503.2L211.3 503.2" stroke="#c4c4c4" stroke-width="1.1"/>
<path d="M186.7 511.0L186.2 546.1L196.7 561.7L201.1 566.7L202.9 573.3L202.2 578.9L207.8 584.9" stroke="#c4c4c4" stroke-width="1.1"/>
<path d="M132.9 538.3L132.9 650.4" stroke="#c4c4c4" stroke-width="1.1"/>
<path d="M211.3 431.7L243.1 431.7" stroke="#c4c4c4" stroke-width="1.1"/>
<path d="M211.3 455.0L314.7 455.0" stroke="#c4c4c4" stroke-width="1.1"/>
<path d="M211.3 537.2L232.0 537.2L269.8 537.9" stroke="#c4c4c4" stroke-width="1.1"/>
<path d="M211.3 563.3L222.2 563.3L222.2 574.4L234.2 575.1L234.7 578.9L239.3 579.6L239.8 604.4L240.9 618.9L256.4 618.9" stroke="#c4c4c4" stroke-width="1.1"/>
<path d="M243.1 415.0L243.1 431.7" stroke="#c4c4c4" stroke-width="1.1"/>
<path d="M314.7 455.0L314.7 432.3L322.0 432.3" stroke="#c4c4c4" stroke-width="1.1"/>
<path d="M314.7 455.0L334.2 455.0L357.6 462.8" stroke="#c4c4c4" stroke-width="1.1"/>
<path d="M355.3 436.8L355.3 457.2L358.2 462.8L358.2 474.6L420.2 474.6" stroke="#c4c4c4" stroke-width="1.1"/>
<path d="M385.8 474.6L385.8 499.0L378.7 499.4L378.7 511.0L360.9 511.0L360.9 521.2" stroke="#c4c4c4" stroke-width="1.1"/>
<path d="M362.0 526.1L397.0 526.1L397.3 531.0L419.6 531.7L420.2 542.8" stroke="#c4c4c4" stroke-width="1.1"/>
<path d="M362.0 521.2L362.0 610.7" stroke="#c4c4c4" stroke-width="1.1"/>
<path d="M285.3 455.0L286.4 499.4L285.3 521.2" stroke="#c4c4c4" stroke-width="1.1"/>
<path d="M269.8 521.2L362.0 521.2" stroke="#c4c4c4" stroke-width="1.1"/>
<path d="M269.8 521.2L269.8 537.9L277.6 538.6L278.7 550.6L283.1 553.9L284.4 561.7L284.4 573.3" stroke="#c4c4c4" stroke-width="1.1"/>
<path d="M362.0 547.2L333.1 560.6L312.0 560.6L309.3 563.0" stroke="#c4c4c4" stroke-width="1.1"/>
<path d="M397.3 426.6L421.1 426.6" stroke="#c4c4c4" stroke-width="1.1"/>
<path d="M421.1 426.6L421.1 453.9L420.2 455.0L420.2 474.6" stroke="#c4c4c4" stroke-width="1.1"/>
<path d="M486.7 420.6L498.4 415.0" stroke="#c4c4c4" stroke-width="1.1"/>
<path d="M420.2 468.8L443.3 468.8" stroke="#c4c4c4" stroke-width="1.1"/>
<path d="M443.3 453.2L468.4 453.2L468.4 448.8L474.4 448.8L474.4 442.8L486.7 442.8" stroke="#c4c4c4" stroke-width="1.1"/>
<path d="M443.3 453.2L443.3 526.1L444.2 527.2L444.2 531.7L442.9 532.8L442.9 541.7L420.2 542.8" stroke="#c4c4c4" stroke-width="1.1"/>
<path d="M443.3 484.3L449.1 484.3L449.6 489.9L484.7 490.6L485.1 485.0L502.4 485.0L502.4 499.9L509.1 500.6L509.1 510.6L521.1 511.0L521.1 515.4" stroke="#c4c4c4" stroke-width="1.1"/>
<path d="M486.7 453.2L509.6 453.2L510.0 448.3L521.8 448.3L521.8 442.8L527.3 442.8L527.3 437.2L533.6 437.2L533.6 432.3L548.0 432.3" stroke="#c4c4c4" stroke-width="1.1"/>
<path d="M496.2 453.2L496.2 485.0" stroke="#c4c4c4" stroke-width="1.1"/>
<path d="M508.4 453.2L508.4 471.0L548.0 471.0" stroke="#c4c4c4" stroke-width="1.1"/>
<path d="M509.6 515.8L547.3 515.6" stroke="#c4c4c4" stroke-width="1.1"/>
<path d="M509.6 516.1L509.1 526.1L506.9 527.2L506.2 552.3" stroke="#c4c4c4" stroke-width="1.1"/>
<path d="M446.5 552.3L506.2 552.3" stroke="#c4c4c4" stroke-width="1.1"/>
<path d="M446.7 552.3L446.7 610.4" stroke="#c4c4c4" stroke-width="1.1"/>
<path d="M504.0 552.3L504.4 578.9L509.6 579.3L509.6 610.4" stroke="#c4c4c4" stroke-width="1.1"/>
<path d="M420.2 542.8L419.6 552.8L418.0 553.9L418.0 579.3L446.7 579.3" stroke="#c4c4c4" stroke-width="1.1"/>
<path d="M548.6 418.3L557.6 418.3" stroke="#c4c4c4" stroke-width="1.1"/>
<path d="M548.3 444.3L557.6 444.3" stroke="#c4c4c4" stroke-width="1.1"/>
<path d="M548.0 471.0L557.6 471.0" stroke="#c4c4c4" stroke-width="1.1"/>
<path d="M547.7 499.9L557.6 499.9" stroke="#c4c4c4" stroke-width="1.1"/>
<path d="M547.4 526.8L557.6 526.8" stroke="#c4c4c4" stroke-width="1.1"/>
<path d="M547.0 552.8L557.6 552.8" stroke="#c4c4c4" stroke-width="1.1"/>
<path d="M546.6 579.3L557.6 579.3" stroke="#c4c4c4" stroke-width="1.1"/>
<path d="M546.4 605.6L557.6 605.6" stroke="#c4c4c4" stroke-width="1.1"/>
<path d="M73.6 580.4L93.3 580.0L132.9 579.3" stroke="#c4c4c4" stroke-width="1.1"/>
<path d="M132.9 584.9L211.3 584.9" stroke="#c4c4c4" stroke-width="1.1"/>
<path d="M132.9 626.7L92.2 627.1L92.2 638.9L81.6 639.3L81.6 644.8" stroke="#c4c4c4" stroke-width="1.1"/>
<path d="M258.2 623.3L256.9 620.0L256.9 579.6L274.2 578.9L274.7 574.4L284.2 574.4L285.3 573.3L309.3 574.4" stroke="#c4c4c4" stroke-width="1.1"/>
<path d="M309.3 560.0L309.3 623.3" stroke="#c4c4c4" stroke-width="1.1"/>
<path d="M309.3 562.7L332.4 562.7L333.1 560.6" stroke="#c4c4c4" stroke-width="1.1"/>
<path d="M381.3 610.7L382.0 642.2L384.2 644.0L383.6 647.1" stroke="#c4c4c4" stroke-width="1.1"/>
<path d="M442.4 610.4L442.4 657.8L441.8 692.2" stroke="#c4c4c4" stroke-width="1.1"/>
<path d="M492.9 611.1L489.6 648.9L487.8 664.4" stroke="#c4c4c4" stroke-width="1.1"/>
<path d="M492.9 611.1L498.4 614.4L502.9 618.9L504.0 623.3L509.6 626.7L515.1 631.1L520.7 633.3L521.8 642.2L525.1 645.6L536.2 646.2L540.7 648.9L548.4 648.9L557.6 651.6" stroke="#c4c4c4" stroke-width="1.1"/>
<path d="M531.3 610.4L531.3 631.1" stroke="#c4c4c4" stroke-width="1.1"/>
<path d="M515.1 631.1L557.6 631.1" stroke="#c4c4c4" stroke-width="1.1"/>
<path d="M441.8 692.2L487.8 664.4L517.3 685.6L525.1 691.6L551.0 710.3" stroke="#c4c4c4" stroke-width="1.1"/>
<path d="M548.4 648.9L517.3 685.6" stroke="#c4c4c4" stroke-width="1.1"/>
<path d="M438.4 693.3L441.8 694.4L494.0 705.6L505.1 706.7L525.1 691.6" stroke="#c4c4c4" stroke-width="1.1"/>
<path d="M505.1 706.7L503.5 710.0" stroke="#c4c4c4" stroke-width="1.1"/>
<path d="M73.6 642.2L98.4 650.4L258.2 650.4L258.2 623.3L348.7 623.3L359.8 626.2L369.8 642.2L382.0 647.1L396.0 661.8L404.0 665.6L406.2 670.0L415.1 677.8L416.2 680.0L421.8 681.8L425.1 682.2L434.0 690.0L438.4 692.2L444.0 697.8L446.2 707.8L448.4 708.6L451.0 710.0" stroke="#ff2020" stroke-width="0.9"/>
<path d="M73.5 308.5L132.0 308.5L132.3 309.0L332.0 308.7L332.5 309.2L549.6 308.8L557.6 308.8" stroke="#ff0000" stroke-width="1.25"/>
<path d="M211.3 273.5L211.3 650.4" stroke="#ff0000" stroke-width="1.25"/>
<path d="M549.6 308.9L549.6 339.3" stroke="#ff0000" stroke-width="1.25"/>
<path d="M557.6 339.3L548.4 339.3L546.9 565.0L546.4 610.5L346.4 610.7L345.8 613.3L346.4 620.0L348.7 623.3" stroke="#ff0000" stroke-width="1.25"/>
</g>
<rect x="334.6" y="417.3" width="6" height="6" fill="none" stroke="#66ff33" stroke-width="1.2"/>
<rect x="353.4" y="430.4" width="6" height="6" fill="none" stroke="#66ff33" stroke-width="1.2"/>
<rect x="379.4" y="428.2" width="6" height="6" fill="none" stroke="#66ff33" stroke-width="1.2"/>
<rect x="332.6" y="448.4" width="6" height="6" fill="none" stroke="#66ff33" stroke-width="1.2"/>
<rect x="318.3" y="475.8" width="6" height="6" fill="none" stroke="#66ff33" stroke-width="1.2"/>
<rect x="306.3" y="481.3" width="6" height="6" fill="none" stroke="#66ff33" stroke-width="1.2"/>
<rect x="318.3" y="482.0" width="6" height="6" fill="none" stroke="#66ff33" stroke-width="1.2"/>
<rect x="301.7" y="486.4" width="6" height="6" fill="none" stroke="#66ff33" stroke-width="1.2"/>
<rect x="304.6" y="489.1" width="6" height="6" fill="none" stroke="#66ff33" stroke-width="1.2"/>
<rect x="307.9" y="486.4" width="6" height="6" fill="none" stroke="#66ff33" stroke-width="1.2"/>
<rect x="312.7" y="488.2" width="6" height="6" fill="none" stroke="#66ff33" stroke-width="1.2"/>
<rect x="320.1" y="487.6" width="6" height="6" fill="none" stroke="#66ff33" stroke-width="1.2"/>
<rect x="329.4" y="486.4" width="6" height="6" fill="none" stroke="#66ff33" stroke-width="1.2"/>
<rect x="318.3" y="494.2" width="6" height="6" fill="none" stroke="#66ff33" stroke-width="1.2"/>
<rect x="321.4" y="501.3" width="6" height="6" fill="none" stroke="#66ff33" stroke-width="1.2"/>
<rect x="316.3" y="509.3" width="6" height="6" fill="none" stroke="#66ff33" stroke-width="1.2"/>
<g shape-rendering="crispEdges" fill="none">
<path stroke="#ff50ff" stroke-width="1.44" d="M307.1 563.7h1.6M297.5 560.8h1.6M294.3 560.8h1.6M311.9 555.0h1.6M292.7 560.8h1.6M310.3 556.5h1.6M311.9 556.5h1.6M294.3 562.2h1.6M286.3 560.8h1.6M283.1 553.6h1.6M283.1 556.5h1.6M292.7 559.3h1.6M281.5 553.6h1.6M289.5 550.7h1.6M286.3 549.3h1.6M284.7 549.3h1.6M291.1 555.0h1.6M307.1 539.2h1.6M316.7 537.7h1.6M302.3 542.1h1.6M311.9 534.9h1.6M303.9 540.6h1.6M302.3 540.6h1.6M313.5 534.9h1.6M347.1 529.1h1.6M337.5 532.0h1.6M345.5 529.1h1.6M332.7 547.8h1.6M337.5 547.8h1.6M340.7 546.4h1.6M335.9 534.9h1.6M329.5 550.7h1.6M334.3 547.8h1.6M351.9 527.7h1.6M294.3 550.7h1.6M332.7 533.4h1.6M324.7 550.7h1.6M279.9 557.9h1.6M316.7 553.6h1.6M278.3 563.7h1.6M319.9 550.7h1.6M329.5 547.8h1.6M300.7 540.6h1.6M350.3 534.9h1.6M281.5 556.5h1.6M294.3 547.8h1.6M343.9 544.9h1.6M300.7 542.1h1.6M297.5 547.8h1.6M326.3 549.3h1.6M348.7 539.2h1.6M283.1 562.2h1.6M265.5 566.5h1.6M332.7 534.9h1.6M291.1 550.7h1.6M300.7 544.9h1.6M295.9 546.4h1.6M319.9 552.1h1.6M337.5 529.1h1.6M311.9 553.6h1.6M295.9 542.1h1.6M279.9 547.8h1.6M299.1 543.5h1.6M300.7 543.5h1.6M343.9 543.5h1.6M313.5 556.5h1.6M324.7 529.1h1.6M332.7 549.3h1.6M302.3 565.1h1.6M300.7 568.0h1.6M299.1 566.5h1.6M289.5 560.8h1.6M286.3 566.5h1.6M291.1 562.2h1.6M300.7 565.1h1.6M292.7 562.2h1.6M303.9 566.5h1.6M297.5 565.1h1.6M294.3 568.0h1.6M297.5 566.5h1.6M289.5 565.1h1.6M303.9 565.1h1.6M300.7 563.7h1.6M302.3 568.0h1.6M295.9 549.3h1.6M307.1 560.8h1.6M294.3 546.4h1.6M351.9 537.7h1.6M334.3 533.4h1.6M327.9 547.8h1.6M294.3 549.3h1.6M302.3 537.7h1.6M340.7 527.7h1.6M345.5 526.2h1.6M350.3 544.9h1.6M345.5 544.9h1.6M276.7 563.7h1.6M323.1 533.4h1.6M356.7 494.5h1.6M369.5 503.2h1.6M371.1 500.3h1.6M353.5 497.4h1.6M353.5 493.1h1.6M356.7 496.0h1.6M356.7 498.9h1.6M265.5 517.6h1.6M260.7 517.6h1.6M369.5 530.5h1.6M369.5 529.1h1.6M367.9 532.0h1.6M316.7 533.4h1.6M364.7 521.9h1.6M348.7 549.3h1.6M315.1 557.9h1.6M331.1 550.7h1.6M279.9 534.9h1.6M295.9 539.2h1.6M279.9 566.5h1.6M340.7 547.8h1.6M326.3 523.3h1.6M327.9 526.2h1.6M315.1 524.8h1.6M315.1 520.5h1.6M347.1 527.7h1.6M283.1 557.9h1.6M291.1 540.6h1.6M299.1 542.1h1.6M307.1 529.1h1.6"/>
<path stroke="#8000ff" stroke-width="1.44" d="M311.9 536.3h1.6M345.5 542.1h1.6M339.1 546.4h1.6M339.1 544.9h1.6M340.7 543.5h1.6M353.5 494.5h1.6"/>
<path stroke="#8000ff" stroke-width="1.44" d="M303.9 560.8h1.6M291.1 557.9h1.6M305.5 560.8h1.6M292.7 557.9h1.6M295.9 560.8h1.6M299.1 560.8h1.6M292.7 553.6h1.6M297.5 562.2h1.6M294.3 559.3h1.6M292.7 556.5h1.6M310.3 557.9h1.6M300.7 560.8h1.6M291.1 552.1h1.6M292.7 552.1h1.6M326.3 547.8h1.6M324.7 536.3h1.6M303.9 544.9h1.6M318.3 537.7h1.6M303.9 539.2h1.6M315.1 536.3h1.6M316.7 536.3h1.6M340.7 530.5h1.6M350.3 533.4h1.6M339.1 533.4h1.6M347.1 530.5h1.6M347.1 540.6h1.6M343.9 530.5h1.6M350.3 537.7h1.6M339.1 532.0h1.6M342.3 543.5h1.6M331.1 547.8h1.6M340.7 544.9h1.6M324.7 549.3h1.6M323.1 536.3h1.6M327.9 549.3h1.6M329.5 533.4h1.6M315.1 553.6h1.6M297.5 546.4h1.6M319.9 536.3h1.6M302.3 543.5h1.6M335.9 533.4h1.6M316.7 552.1h1.6M292.7 547.8h1.6M321.5 550.7h1.6M323.1 550.7h1.6M323.1 534.9h1.6M313.5 555.0h1.6M302.3 544.9h1.6M299.1 562.2h1.6M292.7 565.1h1.6M302.3 562.2h1.6M289.5 562.2h1.6M350.3 494.5h1.6M358.3 496.0h1.6M372.7 503.2h1.6M358.3 498.9h1.6M363.1 497.4h1.6M355.1 494.5h1.6M263.9 516.1h1.6M369.5 526.2h1.6M367.9 526.2h1.6M367.9 524.8h1.6M369.5 524.8h1.6"/>
<path stroke="#0000ff" stroke-width="1.44" d="M308.7 557.9h1.6M300.7 562.2h1.6M294.3 563.7h1.6M297.5 550.7h1.6M310.3 555.0h1.6M313.5 536.3h1.6M348.7 532.0h1.6M318.3 550.7h1.6M315.1 552.1h1.6M295.9 547.8h1.6M361.5 500.3h1.6M262.3 517.6h1.6"/>
<path stroke="#0000ff" stroke-width="1.44" d="M295.9 557.9h1.6M307.1 559.3h1.6M295.9 559.3h1.6M291.1 556.5h1.6M283.1 555.0h1.6M286.3 559.3h1.6M284.7 550.7h1.6M284.7 559.3h1.6M318.3 539.2h1.6M318.3 542.1h1.6M303.9 543.5h1.6M313.5 537.7h1.6M337.5 546.4h1.6M335.9 546.4h1.6M329.5 534.9h1.6M318.3 552.1h1.6M321.5 552.1h1.6M311.9 550.7h1.6M313.5 553.6h1.6M324.7 547.8h1.6M323.1 549.3h1.6M372.7 501.7h1.6M366.3 498.9h1.6M353.5 496.0h1.6"/>
<path stroke="#0080ff" stroke-width="1.44" d="M303.9 559.3h1.6M297.5 557.9h1.6M310.3 553.6h1.6M294.3 557.9h1.6M300.7 550.7h1.6M294.3 556.5h1.6M292.7 555.0h1.6M294.3 553.6h1.6M303.9 562.2h1.6M305.5 547.8h1.6M295.9 550.7h1.6M284.7 556.5h1.6M289.5 552.1h1.6M326.3 536.3h1.6M305.5 540.6h1.6M310.3 537.7h1.6M319.9 537.7h1.6M308.7 537.7h1.6M337.5 536.3h1.6M342.3 530.5h1.6M345.5 530.5h1.6M337.5 533.4h1.6M334.3 536.3h1.6M311.9 552.1h1.6M297.5 549.3h1.6M321.5 547.8h1.6M300.7 546.4h1.6M299.1 546.4h1.6M316.7 550.7h1.6M326.3 533.4h1.6M294.3 552.1h1.6M364.7 500.3h1.6M371.1 503.2h1.6M355.1 497.4h1.6M369.5 527.7h1.6"/>
<path stroke="#00ffff" stroke-width="1.44" d="M308.7 556.5h1.6M315.1 550.7h1.6M302.3 560.8h1.6M307.1 547.8h1.6M299.1 549.3h1.6M308.7 549.3h1.6M310.3 552.1h1.6M287.9 560.8h1.6M299.1 547.8h1.6M284.7 557.9h1.6M286.3 550.7h1.6M287.9 559.3h1.6M283.1 550.7h1.6M289.5 559.3h1.6M323.1 537.7h1.6M326.3 537.7h1.6M318.3 543.5h1.6M329.5 536.3h1.6M323.1 547.8h1.6M305.5 543.5h1.6M305.5 546.4h1.6M303.9 546.4h1.6M348.7 534.9h1.6M347.1 532.0h1.6M342.3 542.1h1.6M337.5 534.9h1.6M348.7 533.4h1.6M331.1 544.9h1.6M339.1 543.5h1.6M334.3 537.7h1.6M335.9 536.3h1.6M332.7 546.4h1.6M318.3 549.3h1.6M334.3 534.9h1.6M313.5 550.7h1.6M367.9 498.9h1.6"/>
<path stroke="#00ff00" stroke-width="1.44" d="M302.3 550.7h1.6M297.5 559.3h1.6M297.5 552.1h1.6M305.5 559.3h1.6M307.1 557.9h1.6M308.7 559.3h1.6M300.7 547.8h1.6M295.9 552.1h1.6M302.3 547.8h1.6M287.9 550.7h1.6M284.7 552.1h1.6M331.1 536.3h1.6M323.1 546.4h1.6M327.9 546.4h1.6M318.3 540.6h1.6M316.7 539.2h1.6M315.1 537.7h1.6M348.7 537.7h1.6M340.7 540.6h1.6M334.3 544.9h1.6M316.7 546.4h1.6M316.7 549.3h1.6M319.9 549.3h1.6M318.3 546.4h1.6M292.7 550.7h1.6M318.3 547.8h1.6M327.9 536.3h1.6M319.9 546.4h1.6M303.9 547.8h1.6M321.5 549.3h1.6M371.1 501.7h1.6M355.1 496.0h1.6M358.3 497.4h1.6M369.5 500.3h1.6M367.9 529.1h1.6M367.9 527.7h1.6"/>
<path stroke="#008040" stroke-width="1.44" d="M308.7 550.7h1.6M294.3 555.0h1.6M302.3 559.3h1.6M299.1 559.3h1.6M300.7 549.3h1.6M311.9 549.3h1.6M286.3 553.6h1.6M287.9 557.9h1.6M289.5 557.9h1.6M324.7 546.4h1.6M329.5 537.7h1.6M319.9 539.2h1.6M329.5 546.4h1.6M307.1 542.1h1.6M316.7 543.5h1.6M342.3 532.0h1.6M335.9 537.7h1.6M340.7 532.0h1.6M348.7 536.3h1.6M343.9 542.1h1.6M337.5 544.9h1.6M337.5 543.5h1.6M331.1 546.4h1.6M332.7 536.3h1.6M316.7 547.8h1.6M302.3 546.4h1.6M359.9 497.4h1.6M356.7 497.4h1.6"/>
<path stroke="#408080" stroke-width="1.44" d="M300.7 559.3h1.6M295.9 553.6h1.6M308.7 553.6h1.6M295.9 556.5h1.6M307.1 550.7h1.6M308.7 552.1h1.6M302.3 549.3h1.6M307.1 549.3h1.6M310.3 550.7h1.6M308.7 547.8h1.6M284.7 555.0h1.6M286.3 557.9h1.6M289.5 556.5h1.6M289.5 553.6h1.6M291.1 553.6h1.6M321.5 539.2h1.6M321.5 540.6h1.6M323.1 539.2h1.6M332.7 539.2h1.6M329.5 544.9h1.6M331.1 537.7h1.6M326.3 546.4h1.6M321.5 546.4h1.6M321.5 537.7h1.6M307.1 544.9h1.6M313.5 546.4h1.6M307.1 540.6h1.6M311.9 537.7h1.6M311.9 539.2h1.6M316.7 544.9h1.6M311.9 546.4h1.6M313.5 547.8h1.6M343.9 532.0h1.6M343.9 540.6h1.6M345.5 540.6h1.6M340.7 542.1h1.6M339.1 542.1h1.6M334.3 546.4h1.6M315.1 547.8h1.6M366.3 501.7h1.6M369.5 501.7h1.6M364.7 498.9h1.6M263.9 517.6h1.6"/>
<path stroke="#ffff00" stroke-width="1.44" d="M297.5 553.6h1.6M300.7 557.9h1.6M305.5 549.3h1.6M299.1 550.7h1.6M287.9 552.1h1.6M332.7 544.9h1.6M319.9 542.1h1.6M319.9 543.5h1.6M313.5 539.2h1.6M308.7 539.2h1.6M310.3 539.2h1.6M315.1 543.5h1.6M305.5 542.1h1.6M315.1 539.2h1.6M307.1 546.4h1.6M316.7 542.1h1.6M315.1 544.9h1.6M305.5 544.9h1.6M347.1 533.4h1.6M342.3 540.6h1.6M337.5 537.7h1.6M345.5 539.2h1.6M335.9 544.9h1.6M335.9 539.2h1.6M361.5 498.9h1.6M367.9 500.3h1.6M367.9 501.7h1.6M363.1 500.3h1.6"/>
<path stroke="#ffc080" stroke-width="1.44" d="M299.1 557.9h1.6M307.1 556.5h1.6M295.9 555.0h1.6M310.3 549.3h1.6M303.9 549.3h1.6M289.5 555.0h1.6M313.5 552.1h1.6M310.3 546.4h1.6M310.3 547.8h1.6M287.9 553.6h1.6M284.7 553.6h1.6M324.7 537.7h1.6M324.7 544.9h1.6M331.1 539.2h1.6M332.7 540.6h1.6M310.3 544.9h1.6M308.7 544.9h1.6M315.1 546.4h1.6M311.9 547.8h1.6M347.1 537.7h1.6M340.7 533.4h1.6M343.9 533.4h1.6M339.1 534.9h1.6M342.3 533.4h1.6M347.1 539.2h1.6M345.5 532.0h1.6M334.3 540.6h1.6M332.7 543.5h1.6M332.7 537.7h1.6M339.1 540.6h1.6M318.3 544.9h1.6M319.9 547.8h1.6M315.1 549.3h1.6M359.9 498.9h1.6"/>
<path stroke="#ff8000" stroke-width="1.44" d="M305.5 557.9h1.6M303.9 557.9h1.6M297.5 555.0h1.6M300.7 552.1h1.6M308.7 555.0h1.6M313.5 549.3h1.6M286.3 552.1h1.6M331.1 540.6h1.6M323.1 544.9h1.6M327.9 537.7h1.6M319.9 540.6h1.6M307.1 543.5h1.6M311.9 544.9h1.6M316.7 540.6h1.6M308.7 546.4h1.6M339.1 536.3h1.6M347.1 536.3h1.6M345.5 533.4h1.6M345.5 536.3h1.6M339.1 539.2h1.6M337.5 539.2h1.6M335.9 543.5h1.6M334.3 543.5h1.6M361.5 497.4h1.6"/>
<path stroke="#ff0080" stroke-width="1.44" d="M299.1 552.1h1.6M305.5 550.7h1.6M287.9 556.5h1.6M329.5 543.5h1.6M332.7 542.1h1.6M347.1 534.9h1.6M345.5 534.9h1.6M340.7 537.7h1.6M342.3 539.2h1.6M339.1 537.7h1.6M335.9 540.6h1.6M334.3 542.1h1.6M363.1 498.9h1.6"/>
<path stroke="#ff0000" stroke-width="1.44" d="M299.1 553.6h1.6M305.5 556.5h1.6M307.1 555.0h1.6M307.1 552.1h1.6M305.5 552.1h1.6M303.9 550.7h1.6M286.3 556.5h1.6M331.1 542.1h1.6M327.9 544.9h1.6M323.1 543.5h1.6M321.5 543.5h1.6M326.3 544.9h1.6M319.9 544.9h1.6M321.5 542.1h1.6M321.5 544.9h1.6M324.7 539.2h1.6M315.1 540.6h1.6M311.9 542.1h1.6M342.3 534.9h1.6M340.7 536.3h1.6M343.9 537.7h1.6M340.7 539.2h1.6M335.9 542.1h1.6M337.5 542.1h1.6M366.3 500.3h1.6"/>
<path stroke="#c00000" stroke-width="1.44" d="M300.7 556.5h1.6M297.5 556.5h1.6M307.1 553.6h1.6M286.3 555.0h1.6M323.1 540.6h1.6M327.9 539.2h1.6M327.9 543.5h1.6M310.3 542.1h1.6M315.1 542.1h1.6M311.9 540.6h1.6M313.5 543.5h1.6M313.5 540.6h1.6M308.7 543.5h1.6M311.9 543.5h1.6M313.5 544.9h1.6M340.7 534.9h1.6M343.9 539.2h1.6M334.3 539.2h1.6"/>
<path stroke="#800000" stroke-width="1.44" d="M303.9 552.1h1.6M305.5 555.0h1.6M302.3 552.1h1.6M302.3 557.9h1.6M299.1 556.5h1.6M329.5 542.1h1.6M327.9 540.6h1.6M324.7 542.1h1.6M326.3 540.6h1.6M331.1 543.5h1.6M310.3 540.6h1.6M342.3 536.3h1.6M337.5 540.6h1.6"/>
<path stroke="#000000" stroke-width="1.44" d="M300.7 555.0h1.6M287.9 555.0h1.6M329.5 539.2h1.6M324.7 543.5h1.6M326.3 543.5h1.6M308.7 540.6h1.6M308.7 542.1h1.6M343.9 534.9h1.6"/>
<path stroke="#808080" stroke-width="1.44" d="M300.7 553.6h1.6M305.5 553.6h1.6M299.1 555.0h1.6M326.3 542.1h1.6M326.3 539.2h1.6M313.5 542.1h1.6M343.9 536.3h1.6M342.3 537.7h1.6M345.5 537.7h1.6"/>
<path stroke="#c0c0c0" stroke-width="1.44" d="M303.9 555.0h1.6M303.9 556.5h1.6M310.3 543.5h1.6M327.9 542.1h1.6M324.7 540.6h1.6M323.1 542.1h1.6"/>
<path stroke="#ffffff" stroke-width="1.44" d="M302.3 555.0h1.6M302.3 556.5h1.6M302.3 553.6h1.6M303.9 553.6h1.6M329.5 540.6h1.6"/>
</g>
<rect x="73.50" y="273.50" width="484.00" height="436.00" fill="none" stroke="#000" stroke-width="1.1"/>
<path d="M102.60 709.50L102.60 704.50" stroke="#000" stroke-width="1.1" fill="none"/>
<text x="102.40" y="722.00" text-anchor="middle" stroke="#000" stroke-width="0.22">−111</text>
<path d="M158.60 709.50L158.60 704.50" stroke="#000" stroke-width="1.1" fill="none"/>
<text x="158.40" y="722.00" text-anchor="middle" stroke="#000" stroke-width="0.22">−110</text>
<path d="M214.60 709.50L214.60 704.50" stroke="#000" stroke-width="1.1" fill="none"/>
<text x="214.40" y="722.00" text-anchor="middle" stroke="#000" stroke-width="0.22">−109</text>
<path d="M270.60 709.50L270.60 704.50" stroke="#000" stroke-width="1.1" fill="none"/>
<text x="270.40" y="722.00" text-anchor="middle" stroke="#000" stroke-width="0.22">−108</text>
<path d="M326.60 709.50L326.60 704.50" stroke="#000" stroke-width="1.1" fill="none"/>
<text x="326.40" y="722.00" text-anchor="middle" stroke="#000" stroke-width="0.22">−107</text>
<path d="M382.60 709.50L382.60 704.50" stroke="#000" stroke-width="1.1" fill="none"/>
<text x="382.40" y="722.00" text-anchor="middle" stroke="#000" stroke-width="0.22">−106</text>
<path d="M438.60 709.50L438.60 704.50" stroke="#000" stroke-width="1.1" fill="none"/>
<text x="438.40" y="722.00" text-anchor="middle" stroke="#000" stroke-width="0.22">−105</text>
<path d="M494.60 709.50L494.60 704.50" stroke="#000" stroke-width="1.1" fill="none"/>
<text x="494.40" y="722.00" text-anchor="middle" stroke="#000" stroke-width="0.22">−104</text>
<path d="M550.60 709.50L550.60 704.50" stroke="#000" stroke-width="1.1" fill="none"/>
<text x="550.40" y="722.00" text-anchor="middle" stroke="#000" stroke-width="0.22">−103</text>
<path d="M73.50 670.92L78.50 670.92" stroke="#000" stroke-width="1.1" fill="none"/>
<text x="68.80" y="674.72" text-anchor="end" stroke="#000" stroke-width="0.22">31</text>
<path d="M73.50 610.65L78.50 610.65" stroke="#000" stroke-width="1.1" fill="none"/>
<text x="68.80" y="614.45" text-anchor="end" stroke="#000" stroke-width="0.22">32</text>
<path d="M73.50 550.38L78.50 550.38" stroke="#000" stroke-width="1.1" fill="none"/>
<text x="68.80" y="554.18" text-anchor="end" stroke="#000" stroke-width="0.22">33</text>
<path d="M73.50 490.11L78.50 490.11" stroke="#000" stroke-width="1.1" fill="none"/>
<text x="68.80" y="493.91" text-anchor="end" stroke="#000" stroke-width="0.22">34</text>
<path d="M73.50 429.84L78.50 429.84" stroke="#000" stroke-width="1.1" fill="none"/>
<text x="68.80" y="433.64" text-anchor="end" stroke="#000" stroke-width="0.22">35</text>
<path d="M73.50 369.57L78.50 369.57" stroke="#000" stroke-width="1.1" fill="none"/>
<text x="68.80" y="373.37" text-anchor="end" stroke="#000" stroke-width="0.22">36</text>
<path d="M73.50 309.30L78.50 309.30" stroke="#000" stroke-width="1.1" fill="none"/>
<text x="68.80" y="313.10" text-anchor="end" stroke="#000" stroke-width="0.22">37</text>
<text x="315.40" y="740.60" text-anchor="middle" stroke="#000" stroke-width="0.22" font-size="11.0" letter-spacing="0">Longitude</text>
<text x="47.10" y="493.50" text-anchor="middle" stroke="#000" stroke-width="0.22" font-size="11.0" letter-spacing="0" transform="rotate(-90 47.10 493.50)">Latitude</text>
<path d="M641.35 273.50L641.35 709.50" stroke="#e9e9e9" stroke-width="1.2" fill="none"/>
<path d="M595.50 327.30L688.50 327.30" stroke="#e9e9e9" stroke-width="1.2" fill="none"/>
<path d="M595.50 381.80L688.50 381.80" stroke="#e9e9e9" stroke-width="1.2" fill="none"/>
<path d="M595.50 436.30L688.50 436.30" stroke="#e9e9e9" stroke-width="1.2" fill="none"/>
<path d="M595.50 490.80L688.50 490.80" stroke="#e9e9e9" stroke-width="1.2" fill="none"/>
<path d="M595.50 545.30L688.50 545.30" stroke="#e9e9e9" stroke-width="1.2" fill="none"/>
<path d="M595.50 599.80L688.50 599.80" stroke="#e9e9e9" stroke-width="1.2" fill="none"/>
<path d="M595.50 654.30L688.50 654.30" stroke="#e9e9e9" stroke-width="1.2" fill="none"/>
<g shape-rendering="crispEdges" fill="none">
<path stroke="#ff50ff" stroke-width="1.44" d="M650.0 560.8h1.2M632.6 557.9h1.2M672.1 553.6h1.2M629.1 559.3h1.2M674.4 549.3h1.2M659.3 559.3h1.2M621.0 555.0h1.2M629.1 560.8h1.2M643.1 563.7h1.2M663.9 549.3h1.2M655.8 560.8h1.2M623.3 556.5h1.2M646.5 560.8h1.2M658.1 562.2h1.2M659.3 556.5h1.2M617.5 559.3h1.2M653.5 559.3h1.2M645.4 563.7h1.2M626.8 556.5h1.2M662.8 556.5h1.2M628.0 550.7h1.2M625.7 550.7h1.2M653.5 560.8h1.2M630.3 559.3h1.2M659.3 557.9h1.2M633.8 559.3h1.2M624.5 552.1h1.2M637.3 559.3h1.2M622.2 546.4h1.2M624.5 546.4h1.2M633.8 532.0h1.2M632.6 530.5h1.2M652.3 536.3h1.2M640.7 530.5h1.2M636.1 530.5h1.2M631.5 530.5h1.2M623.3 532.0h1.2M645.4 530.5h1.2M636.1 529.1h1.2M637.3 530.5h1.2M623.3 537.7h1.2M624.5 536.3h1.2M653.5 533.4h1.2M622.2 536.3h1.2M628.0 532.0h1.2M624.5 534.9h1.2M623.3 543.5h1.2M624.5 540.6h1.2M644.2 527.7h1.2M637.3 563.7h1.2M622.2 550.7h1.2M654.7 534.9h1.2M658.1 542.1h1.2M621.0 546.4h1.2M621.0 547.8h1.2M623.3 534.9h1.2M622.2 547.8h1.2M623.3 560.8h1.2M618.7 557.9h1.2M621.0 540.6h1.2M657.0 544.9h1.2M654.7 544.9h1.2M619.9 547.8h1.2M645.4 562.2h1.2M637.3 566.5h1.2M626.8 550.7h1.2M630.3 550.7h1.2M634.9 563.7h1.2M619.9 550.7h1.2M625.7 553.6h1.2M626.8 549.3h1.2M625.7 552.1h1.2M663.9 529.1h1.2M663.9 544.9h1.2M621.0 536.3h1.2M651.2 533.4h1.2M621.0 556.5h1.2M622.2 555.0h1.2M614.1 542.1h1.2M605.9 543.5h1.2M605.9 559.3h1.2M626.8 547.8h1.2M622.2 553.6h1.2M631.5 529.1h1.2M623.3 553.6h1.2M621.0 549.3h1.2M618.7 565.1h1.2M647.7 562.2h1.2M634.9 560.8h1.2M628.0 566.5h1.2M641.9 562.2h1.2M650.0 565.1h1.2M628.0 556.5h1.2M634.9 566.5h1.2M636.1 562.2h1.2M637.3 565.1h1.2M638.4 566.5h1.2M626.8 560.8h1.2M641.9 565.1h1.2M663.9 560.8h1.2M641.9 566.5h1.2M631.5 565.1h1.2M630.3 560.8h1.2M631.5 562.2h1.2M629.1 562.2h1.2M628.0 559.3h1.2M633.8 568.0h1.2M673.2 549.3h1.2M660.5 550.7h1.2M653.5 549.3h1.2M679.0 556.5h1.2M673.2 553.6h1.2M670.9 552.1h1.2M662.8 550.7h1.2M673.2 555.0h1.2M668.6 555.0h1.2M663.9 552.1h1.2M669.7 552.1h1.2M669.7 549.3h1.2M659.3 550.7h1.2M673.2 552.1h1.2M680.2 553.6h1.2M665.1 553.6h1.2M663.9 557.9h1.2M667.4 555.0h1.2M657.0 546.4h1.2M666.3 549.3h1.2M668.6 549.3h1.2M680.2 550.7h1.2M674.4 556.5h1.2M666.3 553.6h1.2M674.4 553.6h1.2M667.4 556.5h1.2M667.4 550.7h1.2M675.5 550.7h1.2M661.6 553.6h1.2M666.3 552.1h1.2M663.9 547.8h1.2M663.9 555.0h1.2M673.2 556.5h1.2M665.1 559.3h1.2M662.8 555.0h1.2M657.0 560.8h1.2M667.4 549.3h1.2M674.4 555.0h1.2M680.2 555.0h1.2M666.3 555.0h1.2M657.0 547.8h1.2M674.4 543.5h1.2M666.3 544.9h1.2M661.6 544.9h1.2M665.1 537.7h1.2M660.5 539.2h1.2M673.2 542.1h1.2M665.1 543.5h1.2M665.1 540.6h1.2M669.7 546.4h1.2M665.1 542.1h1.2M666.3 540.6h1.2M657.0 540.6h1.2M658.1 544.9h1.2M667.4 539.2h1.2M662.8 539.2h1.2M667.4 540.6h1.2M659.3 537.7h1.2M655.8 532.0h1.2M655.8 539.2h1.2M653.5 536.3h1.2M662.8 534.9h1.2M676.7 534.9h1.2M652.3 537.7h1.2M660.5 537.7h1.2M669.7 536.3h1.2M667.4 537.7h1.2M665.1 539.2h1.2M657.0 536.3h1.2M654.7 530.5h1.2M661.6 537.7h1.2M660.5 536.3h1.2M659.3 534.9h1.2M657.0 537.7h1.2M663.9 534.9h1.2M659.3 536.3h1.2M672.1 540.6h1.2M670.9 539.2h1.2M610.6 549.3h1.2M612.9 533.4h1.2M603.6 552.1h1.2M596.7 540.6h1.2M609.4 540.6h1.2M605.9 555.0h1.2M618.7 543.5h1.2M616.4 544.9h1.2M609.4 550.7h1.2M607.1 542.1h1.2M597.8 547.8h1.2M610.6 552.1h1.2M618.7 547.8h1.2M621.0 533.4h1.2M615.2 556.5h1.2M597.8 550.7h1.2M601.3 549.3h1.2M607.1 543.5h1.2M609.4 539.2h1.2M600.1 542.1h1.2M607.1 552.1h1.2M610.6 543.5h1.2M614.1 549.3h1.2M600.1 537.7h1.2M604.8 552.1h1.2M623.3 544.9h1.2M603.6 527.7h1.2M616.4 526.2h1.2M600.1 552.1h1.2M612.9 543.5h1.2M609.4 546.4h1.2M605.9 542.1h1.2M622.2 544.9h1.2M615.2 549.3h1.2M601.3 537.7h1.2M611.7 539.2h1.2M612.9 563.7h1.2M626.8 557.9h1.2M618.7 533.4h1.2M625.7 549.3h1.2M611.7 560.8h1.2M646.5 500.3h1.2M634.9 494.5h1.2M641.9 497.4h1.2M633.8 503.2h1.2M648.9 498.9h1.2M619.9 501.7h1.2M636.1 496.0h1.2M617.5 494.5h1.2M621.0 494.5h1.2M636.1 500.3h1.2M637.3 503.2h1.2M621.0 500.3h1.2M615.2 500.3h1.2M634.9 497.4h1.2M647.7 501.7h1.2M626.8 501.7h1.2M609.4 498.9h1.2M621.0 501.7h1.2M641.9 496.0h1.2M657.0 498.9h1.2M621.0 503.2h1.2M645.4 497.4h1.2M625.7 497.4h1.2M636.1 497.4h1.2M643.1 497.4h1.2M654.7 498.9h1.2M621.0 498.9h1.2M612.9 498.9h1.2M618.7 498.9h1.2M631.5 503.2h1.2M608.3 500.3h1.2M640.7 500.3h1.2M651.2 500.3h1.2M623.3 501.7h1.2M652.3 501.7h1.2M638.4 503.2h1.2M641.9 503.2h1.2M612.9 501.7h1.2M638.4 501.7h1.2M646.5 501.7h1.2M632.6 496.0h1.2M628.0 494.5h1.2M644.2 497.4h1.2M655.8 496.0h1.2M632.6 497.4h1.2M626.8 493.1h1.2M647.7 496.0h1.2M628.0 496.0h1.2M639.6 494.5h1.2M630.3 494.5h1.2M632.6 516.1h1.2M636.1 517.6h1.2M623.3 517.6h1.2M626.8 516.1h1.2M629.1 517.6h1.2M630.3 516.1h1.2M630.3 517.6h1.2M633.8 517.6h1.2M632.6 517.6h1.2M644.2 526.2h1.2M640.7 529.1h1.2M639.6 527.7h1.2M636.1 526.2h1.2M644.2 529.1h1.2M638.4 527.7h1.2M639.6 529.1h1.2M629.1 527.7h1.2M641.9 527.7h1.2M639.6 524.8h1.2M641.9 529.1h1.2M651.2 526.2h1.2M623.3 530.5h1.2M647.7 524.8h1.2M638.4 526.2h1.2M638.4 529.1h1.2M646.5 527.7h1.2M631.5 527.7h1.2M650.0 532.0h1.2M636.1 527.7h1.2M643.1 521.9h1.2M615.2 557.9h1.2M611.7 534.9h1.2M610.6 547.8h1.2M616.4 550.7h1.2M611.7 543.5h1.2M622.2 566.5h1.2M618.7 544.9h1.2M608.3 523.3h1.2M626.8 526.2h1.2M631.5 524.8h1.2M658.1 520.5h1.2M653.5 544.9h1.2M653.5 527.7h1.2M623.3 539.2h1.2M619.9 540.6h1.2"/>
<path stroke="#8000ff" stroke-width="1.44" d="M632.6 559.3h1.2"/>
<path stroke="#0000ff" stroke-width="1.44" d="M632.6 556.5h1.2M661.6 555.0h1.2M651.2 559.3h1.2M636.1 557.9h1.2M638.4 559.3h1.2M645.4 560.8h1.2M625.7 555.0h1.2M631.5 559.3h1.2M648.9 560.8h1.2M643.1 562.2h1.2M638.4 563.7h1.2M657.0 559.3h1.2M625.7 556.5h1.2M654.7 559.3h1.2M644.2 562.2h1.2M657.0 556.5h1.2M629.1 553.6h1.2M647.7 560.8h1.2M663.9 550.7h1.2M640.7 562.2h1.2M640.7 560.8h1.2M637.3 560.8h1.2M657.0 557.9h1.2M644.2 560.8h1.2M633.8 557.9h1.2M657.0 562.2h1.2M626.8 555.0h1.2M655.8 549.3h1.2M633.8 560.8h1.2M650.0 559.3h1.2M624.5 553.6h1.2M629.1 547.8h1.2M629.1 557.9h1.2M643.1 560.8h1.2M628.0 553.6h1.2M629.1 555.0h1.2M652.3 539.2h1.2M654.7 543.5h1.2M622.2 543.5h1.2M655.8 540.6h1.2M654.7 537.7h1.2M659.3 542.1h1.2M651.2 536.3h1.2M648.9 533.4h1.2M625.7 534.9h1.2M652.3 534.9h1.2M650.0 537.7h1.2M626.8 533.4h1.2M631.5 532.0h1.2M622.2 537.7h1.2M646.5 532.0h1.2M630.3 532.0h1.2M629.1 532.0h1.2M633.8 530.5h1.2M628.0 533.4h1.2M634.9 530.5h1.2M643.1 532.0h1.2M650.0 533.4h1.2M638.4 530.5h1.2M624.5 533.4h1.2M622.2 539.2h1.2M634.9 529.1h1.2M623.3 546.4h1.2M665.1 549.3h1.2M655.8 547.8h1.2M654.7 549.3h1.2M623.3 550.7h1.2M657.0 539.2h1.2M654.7 536.3h1.2M628.0 549.3h1.2M652.3 533.4h1.2M655.8 546.4h1.2M651.2 547.8h1.2M657.0 550.7h1.2M663.9 543.5h1.2M621.0 542.1h1.2M658.1 540.6h1.2M658.1 543.5h1.2M623.3 557.9h1.2M646.5 568.0h1.2M634.9 565.1h1.2M679.0 552.1h1.2M665.1 555.0h1.2M665.1 550.7h1.2M662.8 546.4h1.2M660.5 555.0h1.2M672.1 552.1h1.2M661.6 556.5h1.2M660.5 552.1h1.2M662.8 552.1h1.2M657.0 543.5h1.2M667.4 542.1h1.2M654.7 539.2h1.2M658.1 533.4h1.2M661.6 542.1h1.2M662.8 537.7h1.2M657.0 533.4h1.2M658.1 539.2h1.2M659.3 533.4h1.2M615.2 547.8h1.2M609.4 547.8h1.2M637.3 496.0h1.2M633.8 496.0h1.2M638.4 497.4h1.2M633.8 501.7h1.2M622.2 498.9h1.2M638.4 498.9h1.2M641.9 501.7h1.2M646.5 497.4h1.2M647.7 497.4h1.2M618.7 497.4h1.2M644.2 500.3h1.2M640.7 497.4h1.2M640.7 501.7h1.2M640.7 498.9h1.2M637.3 498.9h1.2M636.1 494.5h1.2M630.3 503.2h1.2M628.0 497.4h1.2M630.3 497.4h1.2M645.4 500.3h1.2M631.5 497.4h1.2M619.9 497.4h1.2M623.3 500.3h1.2M643.1 501.7h1.2M639.6 501.7h1.2M629.1 496.0h1.2M634.9 496.0h1.2M625.7 496.0h1.2M639.6 496.0h1.2M637.3 517.6h1.2M641.9 517.6h1.2M631.5 517.6h1.2M628.0 517.6h1.2M645.4 524.8h1.2"/>
<path stroke="#0000ff" stroke-width="1.44" d="M647.7 559.3h1.2M631.5 553.6h1.2M629.1 552.1h1.2M631.5 549.3h1.2M655.8 542.1h1.2M651.2 537.7h1.2M638.4 532.0h1.2M626.8 536.3h1.2M622.2 542.1h1.2M652.3 547.8h1.2M667.4 552.1h1.2M668.6 553.6h1.2M661.6 547.8h1.2M663.9 542.1h1.2M636.1 498.9h1.2M641.9 500.3h1.2M631.5 498.9h1.2"/>
<path stroke="#0080ff" stroke-width="1.44" d="M633.8 552.1h1.2M655.8 553.6h1.2M626.8 553.6h1.2M654.7 550.7h1.2M636.1 559.3h1.2M660.5 549.3h1.2M639.6 559.3h1.2M657.0 552.1h1.2M628.0 552.1h1.2M658.1 553.6h1.2M653.5 540.6h1.2M625.7 542.1h1.2M628.0 546.4h1.2M625.7 544.9h1.2M654.7 547.8h1.2M625.7 533.4h1.2M628.0 534.9h1.2M653.5 539.2h1.2M653.5 537.7h1.2M651.2 534.9h1.2M650.0 536.3h1.2M624.5 544.9h1.2M653.5 546.4h1.2M629.1 550.7h1.2M630.3 549.3h1.2M625.7 547.8h1.2M659.3 539.2h1.2M661.6 552.1h1.2M666.3 542.1h1.2M629.1 500.3h1.2M626.8 498.9h1.2M637.3 501.7h1.2M647.7 500.3h1.2M629.1 501.7h1.2M633.8 497.4h1.2M641.9 498.9h1.2M630.3 498.9h1.2M640.7 496.0h1.2"/>
<path stroke="#00ffff" stroke-width="1.44" d="M655.8 557.9h1.2M652.3 559.3h1.2M659.3 552.1h1.2M660.5 556.5h1.2M628.0 557.9h1.2M629.1 556.5h1.2M631.5 556.5h1.2M643.1 559.3h1.2M638.4 562.2h1.2M655.8 550.7h1.2M626.8 552.1h1.2M660.5 553.6h1.2M647.7 549.3h1.2M634.9 550.7h1.2M648.9 559.3h1.2M651.2 539.2h1.2M624.5 542.1h1.2M650.0 546.4h1.2M624.5 543.5h1.2M626.8 534.9h1.2M634.9 532.0h1.2M625.7 540.6h1.2M626.8 537.7h1.2M650.0 534.9h1.2M654.7 546.4h1.2M625.7 546.4h1.2M631.5 550.7h1.2M632.6 550.7h1.2M659.3 540.6h1.2M653.5 534.9h1.2M670.9 555.0h1.2M668.6 550.7h1.2M660.5 542.1h1.2M631.5 501.7h1.2M628.0 498.9h1.2M644.2 501.7h1.2M622.2 500.3h1.2M637.3 497.4h1.2M632.6 500.3h1.2M624.5 498.9h1.2M625.7 500.3h1.2M628.0 501.7h1.2"/>
<path stroke="#00ff00" stroke-width="1.44" d="M652.3 550.7h1.2M637.3 557.9h1.2M655.8 555.0h1.2M658.1 557.9h1.2M630.3 557.9h1.2M648.9 549.3h1.2M663.9 553.6h1.2M645.4 559.3h1.2M658.1 552.1h1.2M628.0 555.0h1.2M650.0 547.8h1.2M630.3 552.1h1.2M636.1 549.3h1.2M651.2 549.3h1.2M632.6 552.1h1.2M652.3 542.1h1.2M652.3 544.9h1.2M652.3 543.5h1.2M626.8 546.4h1.2M626.8 543.5h1.2M625.7 537.7h1.2M645.4 533.4h1.2M630.3 533.4h1.2M637.3 532.0h1.2M625.7 536.3h1.2M644.2 532.0h1.2M632.6 549.3h1.2M628.0 547.8h1.2M634.9 549.3h1.2M629.1 549.3h1.2M633.8 498.9h1.2M630.3 501.7h1.2M624.5 501.7h1.2M634.9 498.9h1.2M637.3 500.3h1.2M625.7 498.9h1.2M636.1 501.7h1.2M630.3 500.3h1.2M624.5 500.3h1.2M639.6 498.9h1.2M643.1 498.9h1.2M638.4 500.3h1.2"/>
<path stroke="#008040" stroke-width="1.44" d="M639.6 557.9h1.2M653.5 557.9h1.2M655.8 552.1h1.2M654.7 552.1h1.2M639.6 550.7h1.2M632.6 553.6h1.2M644.2 549.3h1.2M632.6 555.0h1.2M655.8 556.5h1.2M630.3 556.5h1.2M630.3 555.0h1.2M640.7 559.3h1.2M633.8 550.7h1.2M663.9 556.5h1.2M644.2 559.3h1.2M631.5 555.0h1.2M654.7 557.9h1.2M643.1 547.8h1.2M628.0 542.1h1.2M653.5 542.1h1.2M628.0 539.2h1.2M626.8 542.1h1.2M630.3 544.9h1.2M653.5 543.5h1.2M626.8 539.2h1.2M654.7 540.6h1.2M626.8 540.6h1.2M648.9 536.3h1.2M646.5 546.4h1.2M629.1 540.6h1.2M628.0 544.9h1.2M647.7 534.9h1.2M628.0 537.7h1.2M625.7 543.5h1.2M640.7 532.0h1.2M646.5 533.4h1.2M629.1 534.9h1.2M632.6 532.0h1.2M628.0 536.3h1.2M629.1 533.4h1.2M651.2 546.4h1.2M650.0 549.3h1.2M648.9 547.8h1.2M639.6 500.3h1.2M632.6 498.9h1.2M634.9 500.3h1.2M628.0 500.3h1.2M629.1 497.4h1.2M623.3 498.9h1.2M639.6 497.4h1.2"/>
<path stroke="#408080" stroke-width="1.44" d="M646.5 559.3h1.2M638.4 557.9h1.2M637.3 552.1h1.2M658.1 555.0h1.2M636.1 555.0h1.2M643.1 550.7h1.2M634.9 557.9h1.2M659.3 555.0h1.2M633.8 555.0h1.2M631.5 552.1h1.2M633.8 547.8h1.2M636.1 550.7h1.2M634.9 559.3h1.2M629.1 544.9h1.2M629.1 546.4h1.2M647.7 546.4h1.2M650.0 544.9h1.2M652.3 540.6h1.2M650.0 539.2h1.2M630.3 539.2h1.2M651.2 540.6h1.2M639.6 547.8h1.2M630.3 546.4h1.2M629.1 539.2h1.2M651.2 542.1h1.2M654.7 542.1h1.2M651.2 543.5h1.2M651.2 544.9h1.2M626.8 544.9h1.2M648.9 537.7h1.2M623.3 542.1h1.2M637.3 546.4h1.2M631.5 546.4h1.2M648.9 546.4h1.2M637.3 547.8h1.2M629.1 536.3h1.2M648.9 534.9h1.2M639.6 533.4h1.2M647.7 533.4h1.2M643.1 533.4h1.2M645.4 532.0h1.2M645.4 536.3h1.2M632.6 533.4h1.2M640.7 533.4h1.2M636.1 532.0h1.2M625.7 539.2h1.2M632.6 546.4h1.2M630.3 547.8h1.2M633.8 549.3h1.2M631.5 547.8h1.2M646.5 549.3h1.2M662.8 553.6h1.2M632.6 501.7h1.2M633.8 500.3h1.2M629.1 498.9h1.2M634.9 501.7h1.2M631.5 500.3h1.2"/>
<path stroke="#ffff00" stroke-width="1.44" d="M651.2 550.7h1.2M641.9 559.3h1.2M654.7 553.6h1.2M657.0 553.6h1.2M652.3 552.1h1.2M650.0 557.9h1.2M636.1 552.1h1.2M650.0 550.7h1.2M633.8 556.5h1.2M641.9 550.7h1.2M648.9 550.7h1.2M634.9 552.1h1.2M657.0 555.0h1.2M646.5 550.7h1.2M633.8 553.6h1.2M638.4 549.3h1.2M643.1 549.3h1.2M653.5 550.7h1.2M637.3 550.7h1.2M647.7 536.3h1.2M631.5 537.7h1.2M629.1 537.7h1.2M650.0 540.6h1.2M645.4 537.7h1.2M629.1 542.1h1.2M629.1 543.5h1.2M647.7 537.7h1.2M650.0 543.5h1.2M634.9 547.8h1.2M643.1 546.4h1.2M641.9 547.8h1.2M641.9 533.4h1.2M646.5 536.3h1.2M630.3 536.3h1.2M636.1 533.4h1.2M641.9 532.0h1.2M630.3 534.9h1.2M639.6 532.0h1.2M645.4 547.8h1.2"/>
<path stroke="#ffc080" stroke-width="1.44" d="M654.7 555.0h1.2M652.3 556.5h1.2M641.9 557.9h1.2M634.9 556.5h1.2M654.7 556.5h1.2M648.9 552.1h1.2M652.3 557.9h1.2M640.7 550.7h1.2M653.5 553.6h1.2M632.6 547.8h1.2M646.5 547.8h1.2M640.7 549.3h1.2M630.3 553.6h1.2M639.6 549.3h1.2M636.1 547.8h1.2M645.4 546.4h1.2M638.4 547.8h1.2M648.9 540.6h1.2M646.5 537.7h1.2M631.5 539.2h1.2M648.9 544.9h1.2M646.5 539.2h1.2M650.0 542.1h1.2M634.9 546.4h1.2M638.4 546.4h1.2M641.9 546.4h1.2M631.5 544.9h1.2M632.6 537.7h1.2M640.7 536.3h1.2M628.0 543.5h1.2M633.8 546.4h1.2M631.5 533.4h1.2M634.9 536.3h1.2M643.1 534.9h1.2M644.2 533.4h1.2M638.4 533.4h1.2M634.9 533.4h1.2M646.5 534.9h1.2M645.4 534.9h1.2M640.7 547.8h1.2M644.2 547.8h1.2"/>
<path stroke="#ff8000" stroke-width="1.44" d="M638.4 552.1h1.2M651.2 552.1h1.2M637.3 556.5h1.2M641.9 552.1h1.2M648.9 557.9h1.2M640.7 552.1h1.2M640.7 557.9h1.2M643.1 557.9h1.2M650.0 552.1h1.2M647.7 552.1h1.2M636.1 556.5h1.2M651.2 557.9h1.2M634.9 555.0h1.2M645.4 550.7h1.2M645.4 549.3h1.2M641.9 549.3h1.2M638.4 550.7h1.2M647.7 547.8h1.2M647.7 550.7h1.2M630.3 537.7h1.2M647.7 543.5h1.2M647.7 544.9h1.2M631.5 540.6h1.2M648.9 542.1h1.2M630.3 540.6h1.2M645.4 544.9h1.2M639.6 546.4h1.2M636.1 546.4h1.2M640.7 546.4h1.2M628.0 540.6h1.2M632.6 544.9h1.2M644.2 546.4h1.2"/>
<path stroke="#ff0080" stroke-width="1.44" d="M639.6 553.6h1.2M639.6 556.5h1.2M646.5 557.9h1.2M637.3 553.6h1.2M653.5 552.1h1.2M653.5 555.0h1.2M653.5 556.5h1.2M644.2 557.9h1.2M638.4 556.5h1.2M652.3 553.6h1.2M634.9 553.6h1.2M647.7 557.9h1.2M644.2 550.7h1.2M637.3 549.3h1.2M634.9 539.2h1.2M631.5 542.1h1.2M645.4 539.2h1.2M637.3 537.7h1.2M644.2 544.9h1.2M630.3 542.1h1.2M644.2 537.7h1.2M633.8 544.9h1.2M647.7 539.2h1.2M641.9 537.7h1.2M630.3 543.5h1.2M632.6 536.3h1.2M638.4 536.3h1.2M641.9 534.9h1.2M638.4 534.9h1.2M640.7 534.9h1.2M633.8 533.4h1.2M631.5 534.9h1.2M634.9 534.9h1.2"/>
<path stroke="#ff0000" stroke-width="1.44" d="M646.5 552.1h1.2M652.3 555.0h1.2M640.7 556.5h1.2M636.1 553.6h1.2M639.6 552.1h1.2M632.6 543.5h1.2M645.4 543.5h1.2M632.6 539.2h1.2M638.4 537.7h1.2M640.7 539.2h1.2M639.6 539.2h1.2M648.9 543.5h1.2M643.1 537.7h1.2M634.9 537.7h1.2M638.4 544.9h1.2M631.5 543.5h1.2M640.7 537.7h1.2M636.1 537.7h1.2M648.9 539.2h1.2M646.5 544.9h1.2M647.7 540.6h1.2M634.9 544.9h1.2M639.6 544.9h1.2M643.1 544.9h1.2M633.8 537.7h1.2M632.6 534.9h1.2M636.1 536.3h1.2M644.2 536.3h1.2M639.6 534.9h1.2"/>
<path stroke="#c00000" stroke-width="1.44" d="M650.0 556.5h1.2M648.9 556.5h1.2M651.2 553.6h1.2M650.0 553.6h1.2M650.0 555.0h1.2M638.4 555.0h1.2M643.1 552.1h1.2M644.2 552.1h1.2M637.3 555.0h1.2M651.2 556.5h1.2M645.4 557.9h1.2M645.4 552.1h1.2M638.4 539.2h1.2M637.3 544.9h1.2M641.9 544.9h1.2M632.6 540.6h1.2M643.1 536.3h1.2M641.9 539.2h1.2M634.9 543.5h1.2M636.1 543.5h1.2M636.1 539.2h1.2M640.7 544.9h1.2M633.8 539.2h1.2M641.9 536.3h1.2M636.1 534.9h1.2M637.3 533.4h1.2M633.8 536.3h1.2"/>
<path stroke="#800000" stroke-width="1.44" d="M644.2 553.6h1.2M647.7 555.0h1.2M643.1 556.5h1.2M648.9 553.6h1.2M651.2 555.0h1.2M640.7 553.6h1.2M644.2 556.5h1.2M638.4 553.6h1.2M640.7 540.6h1.2M645.4 540.6h1.2M639.6 543.5h1.2M636.1 544.9h1.2M645.4 542.1h1.2M633.8 540.6h1.2M634.9 540.6h1.2M637.3 542.1h1.2M646.5 540.6h1.2M647.7 542.1h1.2M646.5 543.5h1.2M639.6 537.7h1.2M639.6 536.3h1.2M631.5 536.3h1.2M637.3 536.3h1.2M644.2 534.9h1.2"/>
<path stroke="#000000" stroke-width="1.44" d="M647.7 556.5h1.2M641.9 553.6h1.2M646.5 556.5h1.2M646.5 553.6h1.2M643.1 553.6h1.2M643.1 543.5h1.2M646.5 542.1h1.2M644.2 542.1h1.2M637.3 539.2h1.2M633.8 542.1h1.2M632.6 542.1h1.2M644.2 539.2h1.2M636.1 540.6h1.2M644.2 540.6h1.2M637.3 543.5h1.2M644.2 543.5h1.2M643.1 539.2h1.2M637.3 534.9h1.2M633.8 534.9h1.2"/>
<path stroke="#808080" stroke-width="1.44" d="M639.6 555.0h1.2M645.4 555.0h1.2M647.7 553.6h1.2M643.1 555.0h1.2M640.7 542.1h1.2M643.1 542.1h1.2M638.4 540.6h1.2M641.9 543.5h1.2M643.1 540.6h1.2M640.7 543.5h1.2M641.9 540.6h1.2"/>
<path stroke="#c0c0c0" stroke-width="1.44" d="M640.7 555.0h1.2M646.5 555.0h1.2M645.4 553.6h1.2M648.9 555.0h1.2M645.4 556.5h1.2M641.9 555.0h1.2M641.9 556.5h1.2M641.9 542.1h1.2M637.3 540.6h1.2M634.9 542.1h1.2M638.4 542.1h1.2M638.4 543.5h1.2M639.6 542.1h1.2M633.8 543.5h1.2"/>
<path stroke="#ffffff" stroke-width="1.44" d="M644.2 555.0h1.2M639.6 540.6h1.2M636.1 542.1h1.2"/>
</g>
<rect x="595.50" y="273.50" width="93.00" height="436.00" fill="none" stroke="#000" stroke-width="1.1"/>
<text x="589.50" y="276.60" text-anchor="end" stroke="#000" stroke-width="0.22">400</text>
<path d="M595.50 327.30L600.50 327.30" stroke="#000" stroke-width="1.1" fill="none"/>
<text x="589.50" y="331.10" text-anchor="end" stroke="#000" stroke-width="0.22">300</text>
<path d="M595.50 381.80L600.50 381.80" stroke="#000" stroke-width="1.1" fill="none"/>
<text x="589.50" y="385.60" text-anchor="end" stroke="#000" stroke-width="0.22">200</text>
<path d="M595.50 436.30L600.50 436.30" stroke="#000" stroke-width="1.1" fill="none"/>
<text x="589.50" y="440.10" text-anchor="end" stroke="#000" stroke-width="0.22">100</text>
<path d="M595.50 490.80L600.50 490.80" stroke="#000" stroke-width="1.1" fill="none"/>
<text x="589.50" y="494.60" text-anchor="end" stroke="#000" stroke-width="0.22">0</text>
<path d="M595.50 545.30L600.50 545.30" stroke="#000" stroke-width="1.1" fill="none"/>
<text x="589.50" y="549.10" text-anchor="end" stroke="#000" stroke-width="0.22">−100</text>
<path d="M595.50 599.80L600.50 599.80" stroke="#000" stroke-width="1.1" fill="none"/>
<text x="589.50" y="603.60" text-anchor="end" stroke="#000" stroke-width="0.22">−200</text>
<path d="M595.50 654.30L600.50 654.30" stroke="#000" stroke-width="1.1" fill="none"/>
<text x="589.50" y="658.10" text-anchor="end" stroke="#000" stroke-width="0.22">−300</text>
<text x="589.50" y="712.60" text-anchor="end" stroke="#000" stroke-width="0.22">−400</text>
<path d="M641.35 709.50L641.35 704.50" stroke="#000" stroke-width="1.1" fill="none"/>
<text x="595.30" y="722.00" text-anchor="middle" stroke="#000" stroke-width="0.22">0</text>
<text x="641.15" y="722.00" text-anchor="middle" stroke="#000" stroke-width="0.22">10</text>
<text x="687.00" y="722.00" text-anchor="middle" stroke="#000" stroke-width="0.22">20</text>
<text x="641.00" y="740.60" text-anchor="middle" stroke="#000" stroke-width="0.22" font-size="11.0" letter-spacing="0">Altitude, km</text>
<text x="699.60" y="492.00" text-anchor="middle" stroke="#000" stroke-width="0.22" font-size="11.0" letter-spacing="0" transform="rotate(-90 699.60 492.00)">North-South, km</text>
<g shape-rendering="crispEdges">
<rect x="68.50" y="763.5" width="22.78" height="24.700000000000045" fill="#ff50ff"/>
<rect x="90.98" y="763.5" width="47.44" height="24.700000000000045" fill="#8000ff"/>
<rect x="138.12" y="763.5" width="47.44" height="24.700000000000045" fill="#0000ff"/>
<rect x="185.27" y="763.5" width="23.87" height="24.700000000000045" fill="#0080ff"/>
<rect x="208.84" y="763.5" width="23.87" height="24.700000000000045" fill="#00ffff"/>
<rect x="232.41" y="763.5" width="23.87" height="24.700000000000045" fill="#00ff00"/>
<rect x="255.98" y="763.5" width="23.87" height="24.700000000000045" fill="#008040"/>
<rect x="279.56" y="763.5" width="23.87" height="24.700000000000045" fill="#408080"/>
<rect x="303.13" y="763.5" width="23.87" height="24.700000000000045" fill="#ffff00"/>
<rect x="326.70" y="763.5" width="23.87" height="24.700000000000045" fill="#ffc080"/>
<rect x="350.27" y="763.5" width="23.87" height="24.700000000000045" fill="#ff8000"/>
<rect x="373.84" y="763.5" width="23.87" height="24.700000000000045" fill="#ff0080"/>
<rect x="397.42" y="763.5" width="23.87" height="24.700000000000045" fill="#ff0000"/>
<rect x="420.99" y="763.5" width="23.87" height="24.700000000000045" fill="#c00000"/>
<rect x="444.56" y="763.5" width="23.87" height="24.700000000000045" fill="#800000"/>
<rect x="468.13" y="763.5" width="23.87" height="24.700000000000045" fill="#000000"/>
<rect x="491.70" y="763.5" width="23.87" height="24.700000000000045" fill="#808080"/>
<rect x="515.28" y="763.5" width="23.87" height="24.700000000000045" fill="#c0c0c0"/>
<rect x="538.85" y="763.5" width="25.85" height="24.700000000000045" fill="#ffffff"/>
</g>
<rect x="68.5" y="763.5" width="495.9" height="24.700000000000045" fill="none" stroke="#000" stroke-width="1.1"/>
<path d="M126.93 788.20L126.93 785.60" stroke="#000" stroke-width="0.85" fill="none"/>
<path d="M161.11 788.20L161.11 785.60" stroke="#000" stroke-width="0.85" fill="none"/>
<path d="M185.36 788.20L185.36 785.60" stroke="#000" stroke-width="0.85" fill="none"/>
<path d="M204.17 788.20L204.17 785.60" stroke="#000" stroke-width="0.85" fill="none"/>
<path d="M219.54 788.20L219.54 785.60" stroke="#000" stroke-width="0.85" fill="none"/>
<path d="M232.53 788.20L232.53 785.60" stroke="#000" stroke-width="0.85" fill="none"/>
<path d="M243.79 788.20L243.79 785.60" stroke="#000" stroke-width="0.85" fill="none"/>
<path d="M253.72 788.20L253.72 785.60" stroke="#000" stroke-width="0.85" fill="none"/>
<path d="M262.60 788.20L262.60 783.20" stroke="#000" stroke-width="1.1" fill="none"/>
<path d="M321.03 788.20L321.03 785.60" stroke="#000" stroke-width="0.85" fill="none"/>
<path d="M355.21 788.20L355.21 785.60" stroke="#000" stroke-width="0.85" fill="none"/>
<path d="M379.46 788.20L379.46 785.60" stroke="#000" stroke-width="0.85" fill="none"/>
<path d="M398.27 788.20L398.27 785.60" stroke="#000" stroke-width="0.85" fill="none"/>
<path d="M413.64 788.20L413.64 785.60" stroke="#000" stroke-width="0.85" fill="none"/>
<path d="M426.63 788.20L426.63 785.60" stroke="#000" stroke-width="0.85" fill="none"/>
<path d="M437.89 788.20L437.89 785.60" stroke="#000" stroke-width="0.85" fill="none"/>
<path d="M447.82 788.20L447.82 785.60" stroke="#000" stroke-width="0.85" fill="none"/>
<path d="M456.70 788.20L456.70 783.20" stroke="#000" stroke-width="1.1" fill="none"/>
<path d="M515.13 788.20L515.13 785.60" stroke="#000" stroke-width="0.85" fill="none"/>
<path d="M549.31 788.20L549.31 785.60" stroke="#000" stroke-width="0.85" fill="none"/>
<text x="68.00" y="801.90" text-anchor="middle" stroke="#000" stroke-width="0.22">1</text>
<text x="262.10" y="801.90" text-anchor="middle" stroke="#000" stroke-width="0.22">10</text>
<text x="456.20" y="801.90" text-anchor="middle" stroke="#000" stroke-width="0.22">100</text>
<text x="583.60" y="783.90" text-anchor="start" stroke="#000" stroke-width="0.22" font-size="16.0" letter-spacing="0">Sources/7 km<tspan font-size="8.7" dy="-5.3" dx="0.6">2</tspan></text>
</svg>
</body></html>
